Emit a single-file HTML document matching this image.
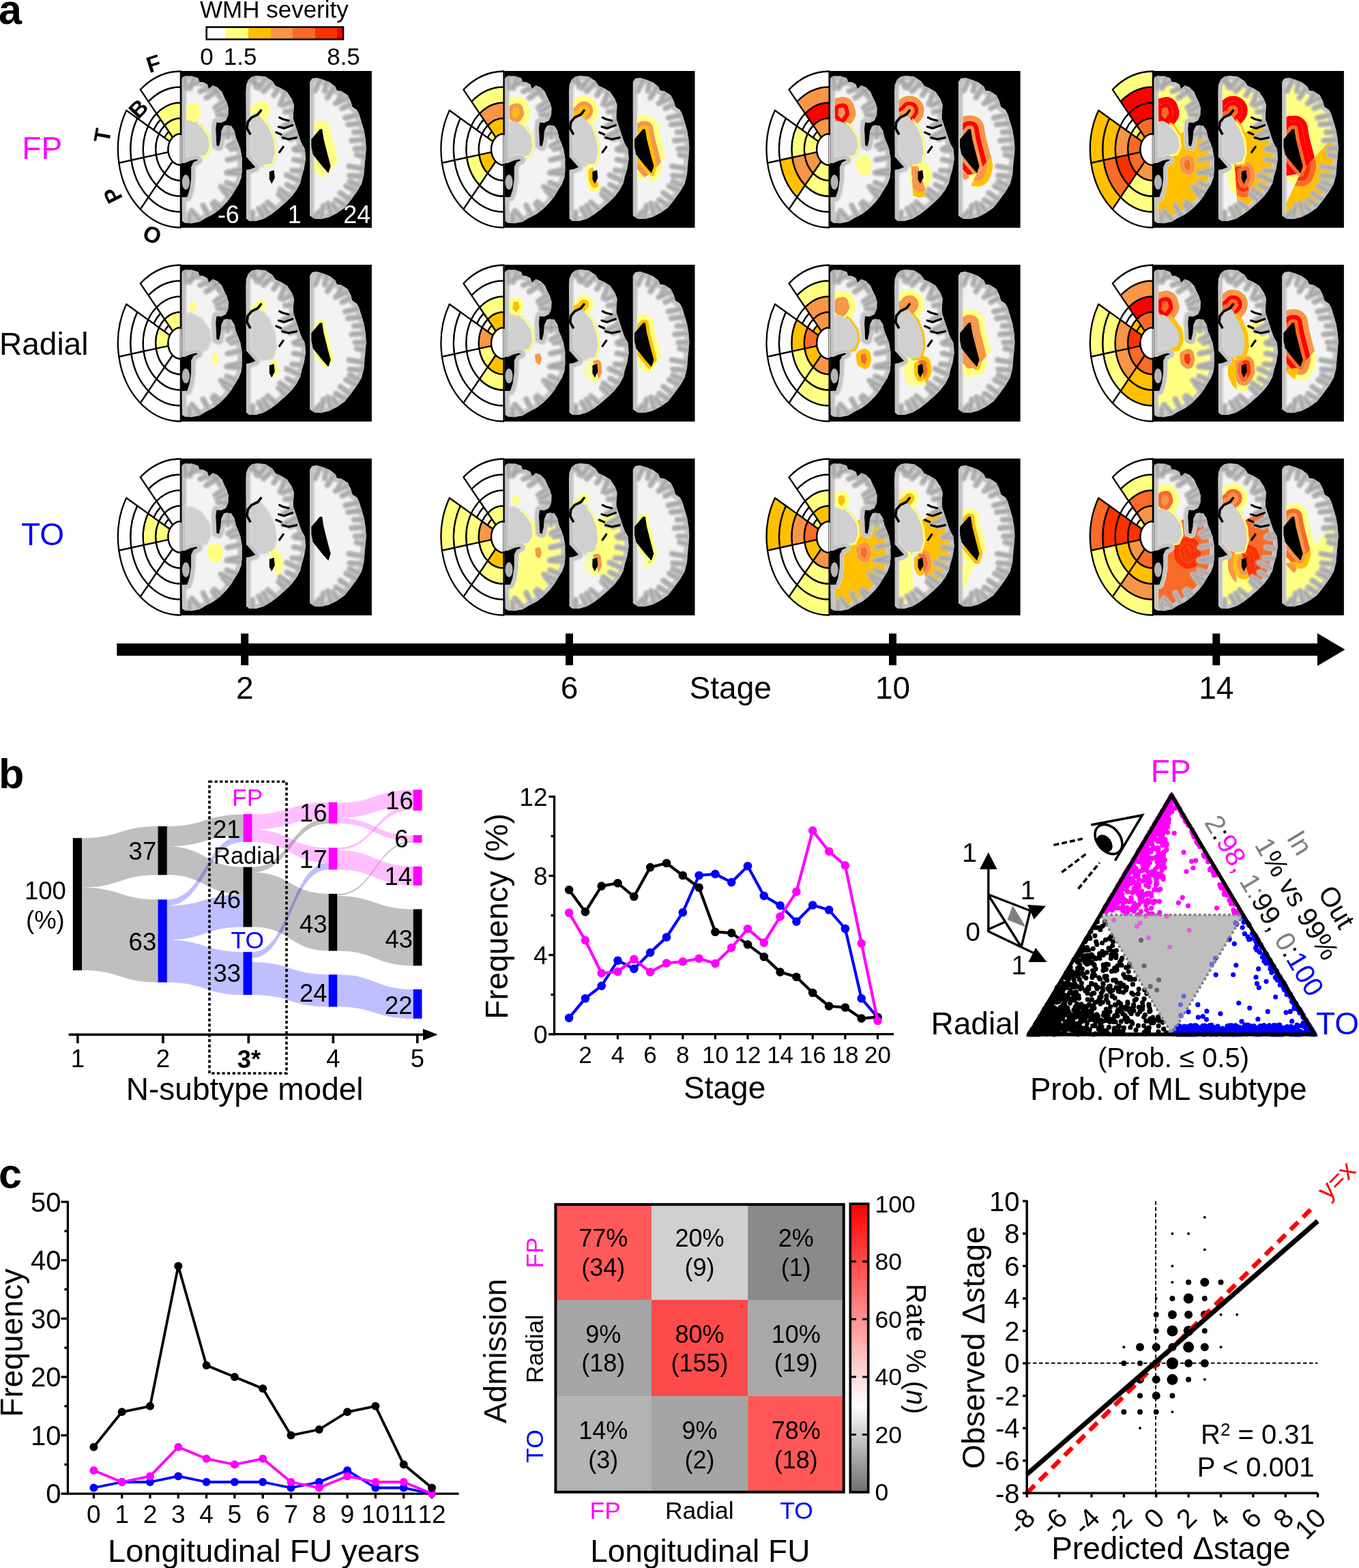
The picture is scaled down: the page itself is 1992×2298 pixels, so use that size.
<!DOCTYPE html>
<html><head><meta charset="utf-8"><title>WMH subtypes figure</title>
<style>html,body{margin:0;padding:0;background:#fff;}svg{display:block;}</style>
</head><body>
<svg xmlns="http://www.w3.org/2000/svg" width="1992" height="2298" viewBox="0 0 1992 2298" font-family="Liberation Sans, Arial, Helvetica, sans-serif"><text x="-2" y="35" font-size="61" fill="#000" font-weight="bold">a</text>
<text x="293" y="26" font-size="35" fill="#000">WMH severity</text>
<rect x="304" y="39.5" width="27.5" height="18.5" fill="#ffffff"/>
<rect x="331" y="39.5" width="33.5" height="18.5" fill="#ffff80"/>
<rect x="364" y="39.5" width="33.3" height="18.5" fill="#ffc000"/>
<rect x="396.8" y="39.5" width="32.7" height="18.5" fill="#f79646"/>
<rect x="429" y="39.5" width="33.5" height="18.5" fill="#fa6a28"/>
<rect x="462" y="39.5" width="32.5" height="18.5" fill="#fa3200"/>
<rect x="494" y="39.5" width="9.5" height="18.5" fill="#ff0000"/>
<rect x="302.7" y="39.7" width="200.3" height="18" fill="none" stroke="#000" stroke-width="2.6"/>
<text x="302.9" y="95" font-size="35" fill="#000" text-anchor="middle">0</text>
<text x="352.2" y="95" font-size="35" fill="#000" text-anchor="middle">1.5</text>
<text x="503.5" y="95" font-size="35" fill="#000" text-anchor="middle">8.5</text>
<text x="32.3" y="233.3" font-size="46" fill="#ff00ff">FP</text>
<text x="-1" y="519.6" font-size="46" fill="#000">Radial</text>
<text x="31" y="799.4" font-size="46" fill="#0000ff">TO</text>
<defs><filter id="bl" x="-5%" y="-5%" width="110%" height="110%"><feGaussianBlur stdDeviation="1"/></filter><clipPath id="bclip"><path d="M1.7 9.3 L0.6 12 L0.6 135 L5.1 135 L13 131.6 L21 129.4 L24.4 130.5 L17.6 133.9 L14.2 140.7 L14.2 158.8 L11.9 174.6 L8.5 184.8 L0.6 185 L1.1 220 L5.1 222.8 L15.3 223.3 L26.6 221.1 L35.7 215.4 L47 209.7 L57.2 201.8 L66.3 192.8 L73.1 183.7 L78.7 174.6 L84.4 165.6 L87.8 156.5 L88.9 145.2 L88.9 128.2 L86.6 114.6 L83.2 105.5 L79.8 97.6 L77.6 87.4 L73.1 80.6 L66.3 79.5 L62 80.5 L58.5 88 L57.5 100 L55 110.5 L51.5 109 L51 95 L50.4 85 L51.5 75.5 L58.3 76.1 L65.1 72.7 L68.5 64.8 L69.1 54.6 L66.3 45.5 L62.9 38.7 L59.5 30.8 L52.7 24 L45.9 21.2 L40.2 26.3 L37.9 19.5 L32.3 16.6 L26.6 16.1 L24.4 10.4 L15.3 7.6 L5.1 7.6ZM94.4 30.8 L95 126 L97 128 L104 136 L108.5 141 L101 144 L95 145 L95 216.6 L99.5 220 L109.7 220 L121 216.6 L132.3 209.8 L142.5 201.8 L152.7 192.8 L161.8 183.7 L168.6 174.7 L174.2 164.5 L176.5 154.3 L179.9 143 L182.2 128.2 L181 114.6 L176.5 106.7 L173.1 97.7 L168.6 84.1 L164.1 70.5 L164.1 61.4 L165.2 50.1 L161.8 41 L155 30.8 L145.9 25.2 L138 21.8 L133.5 15 L123.3 8.2 L111.9 7.1 L104 8.2 L98.4 12.7 L95 20.6ZM188.2 16.1 L188.2 212 L195 216.6 L205.2 217.1 L216.5 214.3 L227.9 208.6 L239.2 200.7 L248.2 189.4 L257.3 176.9 L264.1 165.6 L267.5 152 L268.6 138.4 L269.8 126 L270.9 113.5 L269.8 99.9 L267.5 86.3 L264.1 75 L260.7 63.7 L257.3 56.9 L250.5 52.4 L248.2 44.4 L243.7 35.4 L234.7 29.7 L227.9 28.6 L225.6 22.9 L217.7 16.7 L207.5 12.7 L198.4 9.9 L191.6 11Z"/></clipPath><g id="bb"><path d="M1.7 9.3 L0.6 12 L0.6 135 L5.1 135 L13 131.6 L21 129.4 L24.4 130.5 L17.6 133.9 L14.2 140.7 L14.2 158.8 L11.9 174.6 L8.5 184.8 L0.6 185 L1.1 220 L5.1 222.8 L15.3 223.3 L26.6 221.1 L35.7 215.4 L47 209.7 L57.2 201.8 L66.3 192.8 L73.1 183.7 L78.7 174.6 L84.4 165.6 L87.8 156.5 L88.9 145.2 L88.9 128.2 L86.6 114.6 L83.2 105.5 L79.8 97.6 L77.6 87.4 L73.1 80.6 L66.3 79.5 L62 80.5 L58.5 88 L57.5 100 L55 110.5 L51.5 109 L51 95 L50.4 85 L51.5 75.5 L58.3 76.1 L65.1 72.7 L68.5 64.8 L69.1 54.6 L66.3 45.5 L62.9 38.7 L59.5 30.8 L52.7 24 L45.9 21.2 L40.2 26.3 L37.9 19.5 L32.3 16.6 L26.6 16.1 L24.4 10.4 L15.3 7.6 L5.1 7.6Z" fill="#c4c4c4"/><path d="M7.1 14.1 L7.1 127.1 L10.4 125.6 L11.3 125.3 L19.3 123.1 L19.9 123 L20.5 122.9 L21.1 122.9 L21.8 122.9 L22.4 123.1 L23 123.2 L26.4 124.3 L27 124.5 L27.6 124.8 L28.1 125.2 L28.6 125.6 L29.1 126 L29.5 126.5 L29.9 127 L30.2 127.6 L30.5 128.1 L30.7 128.8 L30.8 129.4 L30.9 130 L30.9 130.7 L30.9 131.3 L30.7 131.9 L30.6 132.5 L30.3 133.1 L30.1 133.7 L29.7 134.2 L29.3 134.8 L28.9 135.2 L28.4 135.6 L27.9 136 L27.3 136.3 L22.4 138.7 L20.7 142.2 L20.7 158.8 L20.6 159.7 L18.3 175.5 L18.2 176.1 L18.1 176.7 L14.7 186.9 L14.4 187.5 L14.1 188.1 L13.8 188.6 L13.3 189.1 L12.9 189.6 L12.4 190 L11.8 190.4 L11.2 190.7 L10.6 190.9 L10 191.1 L9.3 191.2 L8.7 191.3 L7.2 191.3 L7.5 216.4 L14.8 216.8 L24.2 215 L32.2 209.9 L32.8 209.6 L43.5 204.2 L52.9 196.9 L61.4 188.5 L67.7 180 L73.2 171.2 L73.2 171.1 L78.5 162.7 L81.4 155 L82.4 144.9 L82.4 128.7 L80.3 116.3 L77.2 107.9 L73.8 100.2 L73.6 99.6 L73.4 99 L71.5 90 L69.3 86.6 L66.5 86.1 L64.9 89.7 L64 100.5 L63.9 101 L63.8 101.5 L61.3 112 L61.1 112.6 L60.9 113.2 L60.6 113.8 L60.3 114.3 L59.9 114.8 L59.5 115.2 L59 115.6 L58.5 116 L57.9 116.3 L57.3 116.6 L56.7 116.8 L56.1 116.9 L55.5 117 L54.9 117 L54.3 117 L53.6 116.9 L53 116.7 L52.4 116.5 L48.9 115 L48.4 114.7 L47.9 114.4 L47.4 114 L46.9 113.6 L46.5 113.2 L46.1 112.7 L45.8 112.2 L45.5 111.6 L45.3 111 L45.2 110.4 L45.1 109.8 L45 109.2 L44.5 95.3 L43.9 85.4 L43.9 84.8 L43.9 84.3 L45 74.8 L45.1 74.1 L45.3 73.5 L45.5 72.9 L45.8 72.4 L46.1 71.8 L46.5 71.3 L46.9 70.9 L47.4 70.5 L47.9 70.1 L48.4 69.8 L49 69.5 L49.6 69.3 L50.2 69.1 L50.8 69 L51.4 69 L52.1 69 L57 69.5 L60.1 67.9 L62.1 63.3 L62.5 55.4 L60.2 47.9 L57.1 41.6 L56.9 41.3 L54 34.5 L49 29.5 L47.2 28.8 L44.5 31.1 L44 31.5 L43.5 31.9 L42.9 32.2 L42.3 32.4 L41.7 32.6 L41.1 32.7 L40.5 32.8 L39.8 32.8 L39.2 32.7 L38.5 32.6 L37.9 32.4 L37.3 32.1 L36.8 31.8 L36.3 31.5 L35.8 31.1 L35.3 30.6 L34.9 30.1 L34.6 29.6 L34.3 29 L34 28.4 L32.6 24.1 L30.5 23 L26 22.6 L25.4 22.5 L24.7 22.3 L24.1 22.1 L23.5 21.8 L23 21.5 L22.4 21.1 L22 20.6 L21.5 20.1 L21.1 19.6 L20.8 19 L20.5 18.4 L19.5 15.7 L14.3 14.1Z" fill="#f3f3f3" filter="url(#bl)"/><path d="M38 126 L44 112 L42 95 L30 78 L14 70 L7.1 71 L7.1 127.1 L10.4 125.6 L11.3 125.3 L19.3 123.1 L19.9 123 L20.5 122.9 L21.1 122.9 L21.8 122.9 L22.4 123.1 L23 123.2 L26.4 124.3 L27 124.5 L27.6 124.8 L28.1 125.2 L28.6 125.6 L29.1 126 L29.5 126.5 L29.9 127 L30.1 127.5Z" fill="#d0d0d0" filter="url(#bl)"/><path d="M94.4 30.8 L95 126 L97 128 L104 136 L108.5 141 L101 144 L95 145 L95 216.6 L99.5 220 L109.7 220 L121 216.6 L132.3 209.8 L142.5 201.8 L152.7 192.8 L161.8 183.7 L168.6 174.7 L174.2 164.5 L176.5 154.3 L179.9 143 L182.2 128.2 L181 114.6 L176.5 106.7 L173.1 97.7 L168.6 84.1 L164.1 70.5 L164.1 61.4 L165.2 50.1 L161.8 41 L155 30.8 L145.9 25.2 L138 21.8 L133.5 15 L123.3 8.2 L111.9 7.1 L104 8.2 L98.4 12.7 L95 20.6Z" fill="#c4c4c4"/><path d="M100.9 31 L101.5 123.3 L101.6 123.4 L101.9 123.7 L108.9 131.7 L113.3 136.7 L113.7 137.1 L114.1 137.7 L114.4 138.2 L114.6 138.8 L114.8 139.4 L114.9 140 L115 140.6 L115 141.2 L114.9 141.9 L114.8 142.5 L114.7 143.1 L114.4 143.7 L114.1 144.2 L113.8 144.7 L113.4 145.2 L113 145.7 L112.5 146.1 L112 146.5 L111.5 146.8 L110.9 147 L103.4 150 L102.8 150.3 L102.1 150.4 L101.5 150.5 L101.5 213.4 L101.7 213.5 L108.7 213.5 L118.3 210.6 L128.6 204.4 L138.3 196.8 L148.2 188.1 L156.9 179.4 L163.1 171.2 L168.1 162.2 L170.2 152.9 L170.3 152.4 L173.5 141.6 L175.7 128 L174.6 116.6 L170.9 109.9 L170.6 109.5 L170.4 109 L167 100 L166.9 99.7 L162.4 86.1 L157.9 72.5 L157.7 71.9 L157.6 71.2 L157.6 70.5 L157.6 61.4 L157.6 60.8 L158.6 51 L156 44 L150.4 35.6 L142.9 31 L135.4 27.8 L134.9 27.5 L134.3 27.2 L133.8 26.8 L133.4 26.4 L133 25.9 L132.6 25.4 L128.8 19.7 L121.1 14.5 L112 13.6 L106.7 14.4 L103.7 16.8 L101.4 22.1Z" fill="#f3f3f3" filter="url(#bl)"/><path d="M118 141 L135 138 L140 120 L138 100 L130 80 L115 62 L101.1 65.7 L101.5 123.3 L101.6 123.4 L101.9 123.7 L108.9 131.7 L113.3 136.7 L113.7 137.1 L114.1 137.7 L114.4 138.2 L114.6 138.8 L114.7 139.2Z" fill="#d0d0d0" filter="url(#bl)"/><path d="M188.2 16.1 L188.2 212 L195 216.6 L205.2 217.1 L216.5 214.3 L227.9 208.6 L239.2 200.7 L248.2 189.4 L257.3 176.9 L264.1 165.6 L267.5 152 L268.6 138.4 L269.8 126 L270.9 113.5 L269.8 99.9 L267.5 86.3 L264.1 75 L260.7 63.7 L257.3 56.9 L250.5 52.4 L248.2 44.4 L243.7 35.4 L234.7 29.7 L227.9 28.6 L225.6 22.9 L217.7 16.7 L207.5 12.7 L198.4 9.9 L191.6 11Z" fill="#c4c4c4"/><path d="M194.7 18.1 L194.7 208.5 L197.1 210.2 L204.6 210.6 L214.2 208.2 L224.6 203 L234.7 195.9 L243 185.5 L251.9 173.3 L258 163.1 L261.1 150.9 L262.1 137.9 L262.1 137.8 L263.3 125.4 L264.4 113.5 L263.3 100.7 L261.2 87.8 L257.9 76.9 L254.6 66.1 L252.3 61.4 L246.9 57.8 L246.4 57.4 L245.9 57 L245.5 56.5 L245.1 56 L244.7 55.4 L244.5 54.8 L244.3 54.2 L242.1 46.8 L238.7 39.9 L232.3 35.9 L226.9 35 L226.2 34.9 L225.6 34.7 L225 34.4 L224.4 34.1 L223.8 33.7 L223.3 33.2 L222.9 32.7 L222.5 32.2 L222.2 31.6 L221.9 31 L220.2 26.9 L214.4 22.4 L205.4 18.8 L197.9 16.6 L195.4 17Z" fill="#f3f3f3" filter="url(#bl)"/></g><g id="bt"><g clip-path="url(#bclip)"><g filter="url(#bl)"><path d="M4.7 6.7Q5.5 16.7 6.1 25.8M18.8 7.6Q15.6 16.9 12.6 25.2M27.1 14.6Q18.3 19 10.4 22.8M40.6 24.3Q33.7 27.2 27.7 29.9M44 21.5Q51 30.6 57.2 39M56.4 26.2Q46.1 33.2 36.5 39.4M65.8 42.2Q57.2 48.1 49.6 53.6M68.8 50.2Q60 54.7 52.2 59M69.3 65.5Q61 64.7 53.7 64.2M69.5 79Q68.8 88.5 68.3 97M79.5 91.4Q67 92.3 55.6 92.9M82.7 101.8Q75.1 106.1 68.4 110M86.4 111.3Q79.3 113.1 73.1 114.6M89.5 125.5Q78.1 128 67.7 130.3M89.9 143.7Q78.5 146.1 68.1 148.5M89.3 151.3Q77.4 150.3 66.4 149.3M82.7 170.1Q74.2 166.6 66.6 163.6M77.1 179.2Q66.9 174.2 57.7 169.7M72 186.9Q66 180.4 60.9 174.5M59.3 201.1Q53.4 196.3 48.2 192.1M52.9 206.4Q49.1 200.1 45.9 194.7M40.8 214Q36 205.1 31.8 197.1M29.1 220.7Q21.9 212.4 15.2 204.9M11.8 224.1Q12 216.5 12 209.9M97.7 12Q106.9 17.3 115.4 22.1M105.1 7Q107.5 15.8 109.7 23.5M125.5 8.5Q119.1 17.2 113.3 25.1M135 15.4Q127.3 22.8 120.5 29.6M143.6 23.1Q139.4 29.8 135.6 35.5M152.9 28.3Q148.7 39 145 48.8M163.9 43.8Q155.7 47.2 148.5 50.3M165.4 58.7Q158.3 59.2 152.2 59.8M165.8 72.3Q157.1 76.9 149.4 81.1M170.2 85.8Q159.4 91.4 149.5 96.7M173 94.3Q165.9 97.3 159.7 99.9M178.5 108.3Q171.4 111.6 165.1 114.5M182.2 116.7Q174.3 116.4 167.3 116.1M182.4 133.3Q173.3 131.5 165.1 129.9M179.6 147.3Q170.6 146.4 162.5 145.7M175.7 162.4Q164.5 157.4 154.2 152.6M169.9 174.4Q161.9 170.3 154.8 166.7M161.4 185.5Q152.7 179.2 144.8 173.7M154.4 192.5Q148.1 186.1 142.5 180.4M140.5 204.6Q133.2 198.2 126.5 192.6M129.4 212.7Q124.6 204.7 120.4 197.5M121.9 217.2Q117.4 209.1 113.3 201.8M103.9 221Q104.1 213.4 104.2 206.9M204.5 10.7Q199.9 20.5 195.6 29.2M213.5 14Q211.6 22 210 29.1M225.4 21.5Q219.4 30.7 214 39.2M236.8 29.9Q233 37.1 229.7 43.5M246.4 38.5Q235.8 43.2 226 47.5M250.3 48Q242.5 51.5 235.7 54.7M261.8 63.8Q250.6 66.3 240.4 68.6M265.6 76.4Q254.6 77.6 244.5 78.5M269 89.3Q260.6 89.6 253.2 89.7M270.8 100.3Q259.7 101.2 249.6 102M271.9 113.4Q262.9 113.7 254.9 113.9M270.8 126.1Q263.3 124.4 256.9 122.9M269.2 143.4Q256.9 141.5 245.7 139.6M267.8 155Q256.7 154 246.6 153.2M263.2 169Q254.6 165.3 246.8 162M258.2 177.4Q249.5 172.8 241.5 168.7M249 190Q240.5 184.1 232.8 178.8M242.2 198.6Q234 193.4 226.6 188.8M230.9 207.7Q225.9 201.4 221.5 195.8M220.1 213.6Q217.2 203.5 214.7 194.2M204.2 218.1Q206.1 207.3 208.1 197.5M193.2 216.6Q198.3 210.7 202.8 205.7" stroke="#bababa" stroke-width="9" stroke-linecap="round" fill="none"/><path d="M4.7 6.7Q5.5 16.7 6.1 25.8M18.8 7.6Q15.6 16.9 12.6 25.2M27.1 14.6Q18.3 19 10.4 22.8M40.6 24.3Q33.7 27.2 27.7 29.9M44 21.5Q51 30.6 57.2 39M56.4 26.2Q46.1 33.2 36.5 39.4M65.8 42.2Q57.2 48.1 49.6 53.6M68.8 50.2Q60 54.7 52.2 59M69.3 65.5Q61 64.7 53.7 64.2M69.5 79Q68.8 88.5 68.3 97M79.5 91.4Q67 92.3 55.6 92.9M82.7 101.8Q75.1 106.1 68.4 110M86.4 111.3Q79.3 113.1 73.1 114.6M89.5 125.5Q78.1 128 67.7 130.3M89.9 143.7Q78.5 146.1 68.1 148.5M89.3 151.3Q77.4 150.3 66.4 149.3M82.7 170.1Q74.2 166.6 66.6 163.6M77.1 179.2Q66.9 174.2 57.7 169.7M72 186.9Q66 180.4 60.9 174.5M59.3 201.1Q53.4 196.3 48.2 192.1M52.9 206.4Q49.1 200.1 45.9 194.7M40.8 214Q36 205.1 31.8 197.1M29.1 220.7Q21.9 212.4 15.2 204.9M11.8 224.1Q12 216.5 12 209.9M97.7 12Q106.9 17.3 115.4 22.1M105.1 7Q107.5 15.8 109.7 23.5M125.5 8.5Q119.1 17.2 113.3 25.1M135 15.4Q127.3 22.8 120.5 29.6M143.6 23.1Q139.4 29.8 135.6 35.5M152.9 28.3Q148.7 39 145 48.8M163.9 43.8Q155.7 47.2 148.5 50.3M165.4 58.7Q158.3 59.2 152.2 59.8M165.8 72.3Q157.1 76.9 149.4 81.1M170.2 85.8Q159.4 91.4 149.5 96.7M173 94.3Q165.9 97.3 159.7 99.9M178.5 108.3Q171.4 111.6 165.1 114.5M182.2 116.7Q174.3 116.4 167.3 116.1M182.4 133.3Q173.3 131.5 165.1 129.9M179.6 147.3Q170.6 146.4 162.5 145.7M175.7 162.4Q164.5 157.4 154.2 152.6M169.9 174.4Q161.9 170.3 154.8 166.7M161.4 185.5Q152.7 179.2 144.8 173.7M154.4 192.5Q148.1 186.1 142.5 180.4M140.5 204.6Q133.2 198.2 126.5 192.6M129.4 212.7Q124.6 204.7 120.4 197.5M121.9 217.2Q117.4 209.1 113.3 201.8M103.9 221Q104.1 213.4 104.2 206.9M204.5 10.7Q199.9 20.5 195.6 29.2M213.5 14Q211.6 22 210 29.1M225.4 21.5Q219.4 30.7 214 39.2M236.8 29.9Q233 37.1 229.7 43.5M246.4 38.5Q235.8 43.2 226 47.5M250.3 48Q242.5 51.5 235.7 54.7M261.8 63.8Q250.6 66.3 240.4 68.6M265.6 76.4Q254.6 77.6 244.5 78.5M269 89.3Q260.6 89.6 253.2 89.7M270.8 100.3Q259.7 101.2 249.6 102M271.9 113.4Q262.9 113.7 254.9 113.9M270.8 126.1Q263.3 124.4 256.9 122.9M269.2 143.4Q256.9 141.5 245.7 139.6M267.8 155Q256.7 154 246.6 153.2M263.2 169Q254.6 165.3 246.8 162M258.2 177.4Q249.5 172.8 241.5 168.7M249 190Q240.5 184.1 232.8 178.8M242.2 198.6Q234 193.4 226.6 188.8M230.9 207.7Q225.9 201.4 221.5 195.8M220.1 213.6Q217.2 203.5 214.7 194.2M204.2 218.1Q206.1 207.3 208.1 197.5M193.2 216.6Q198.3 210.7 202.8 205.7" stroke="#a0a0a0" stroke-width="2.2" stroke-linecap="round" fill="none"/></g></g><path d="M190.5 100 L203 85.2 L206.3 85.2 L208.6 100 L214.3 122.6 L218.8 139.6 L215.4 149.8 L206.3 139.6 L192.8 122.6 L190.5 111.2Z" fill="#000"/><path d="M128.9 147.5 L135.7 145.2 L136.9 156.5 L132.3 165.6 L128.9 158.8Z" fill="#000"/><path d="M116.5 58 L112 63.7 L102.9 68.2 L97.2 75 L96.1 84.1 L100.6 92" stroke="#000" stroke-width="3.6" fill="none" stroke-linecap="round"/><path d="M143.7 68.2 L148.2 70.5 L157.2 72.7" stroke="#000" stroke-width="3.2" fill="none" stroke-linecap="round"/><path d="M142.5 81.8 L150.5 84.1 L162.9 79.5" stroke="#000" stroke-width="3.2" fill="none" stroke-linecap="round"/><path d="M148.2 97.7 L157.2 100 L168.6 97.7" stroke="#000" stroke-width="3.2" fill="none" stroke-linecap="round"/><path d="M143.7 119.2 L149.3 111.2" stroke="#000" stroke-width="3.2" fill="none" stroke-linecap="round"/><path d="M139 90 L146 93" stroke="#000" stroke-width="3.2" fill="none" stroke-linecap="round"/><ellipse cx="6.5" cy="163" rx="5.5" ry="11" fill="#b4b4b4"/></g></defs>
<rect x="265.9" y="104" width="279" height="229.8" fill="#000"/>
<g transform="translate(265.9 104)">
<use href="#bb"/>
<path d="M11.5 64.3 L16.2 69.2 L18.2 69 L22.5 62.2 L20 53.8 L18.7 53.5 L12.9 55Z" fill="#ffff80" fill-rule="evenodd"/>
<path d="M7.3 69.7 L11.1 73.5 L13.5 73.1 L18.8 75.8 L21.4 74.6 L23.2 73.1 L28.1 65.8 L29 62.1 L26.4 52.1 L24.1 48.9 L21.4 47.4 L18.2 47 L11 48.6 L7.9 50.8 L7.1 52ZM12.6 55.5 L13.6 54.6 L18.9 53.5 L20.4 54.4 L22.5 62.3 L17.4 69.4 L16 69.2 L11.6 64.6Z" fill="#ffff80" fill-rule="evenodd"/>
<path d="M44 112 L42 95 L30 78 L23.4 74.7 L23.4 78.1 L28 80.3 L39.1 96.1 L40.9 111.6 L35.9 123.3 L27.7 124.9 L30.1 127.5 L38 126Z" fill="#ffff80" fill-rule="evenodd"/>
<path d="M117.2 69.2 L123 61.9 L124.1 57.6 L123.4 54.7 L121.6 52.4 L119 50.8 L116.1 50.4 L112.4 51.6 L107.1 57.6 L101.1 60.6 L101.2 77.7 L102.7 68.4 L113.9 65.4Z" fill="#ffff80" fill-rule="evenodd"/>
<path d="M121 73.9 L129 63.5 L130.1 58.5 L129.6 54.3 L127.2 49.6 L123.2 46.1 L118.1 44.5 L112.8 44.9 L108.3 47.2 L103.2 52.9 L101 53.9 L101.1 60.6 L107.1 57.6 L110.9 52.9 L113.2 51.1 L116.9 50.4 L120.4 51.5 L123.4 54.7 L123.9 59.6 L122.8 62.3 L117.2 69.3Z" fill="#ffff80" fill-rule="evenodd"/>
<path d="M135 138 L140 120 L138 100 L130 80 L120.8 69 L120.8 73.7 L127.4 81.6 L135.1 100.7 L137 119.7 L132.6 135.4 L120.8 137.5 L120.8 140.5Z" fill="#ffff80" fill-rule="evenodd"/>
<path d="M194.7 133 L211 152.3 L215 150 L223.8 139.8 L213.5 99 L211.1 83.9 L209.6 81.4 L206.8 80.2 L200.7 80.8 L194.7 87.3Z" fill="#ffff80" fill-rule="evenodd"/>
<path d="M194.7 144.3 L204.8 155.9 L211 152.3 L194.7 133ZM199.2 82 L202 80.3 L206.8 80.2 L209.2 81.1 L211 83.5 L213.5 99 L223.8 140.3 L229.7 133.7 L220.4 97.6 L217.5 81 L215 76.9 L212.1 74.7 L207.5 73.3 L201.8 73.3 L198.5 74.1 L194.7 76.5 L194.7 87.3Z" fill="#ffff80" fill-rule="evenodd"/>
<use href="#bt"/>
<text x="85" y="223" font-size="36" fill="#fff" text-anchor="end">-6</text>
<text x="176" y="223" font-size="36" fill="#fff" text-anchor="end">1</text>
<text x="277.5" y="223" font-size="36" fill="#fff" text-anchor="end">24</text>
</g>
<path d="M264.9 196.1 L264.9 173.2 A36.8 45.8 0 0 0 241.2 183.9 L253.1 201.5 A18.4 22.9 0 0 1 264.9 196.1 Z" fill="#ffff80"/>
<path d="M264.9 196.1 L264.9 173.2 A36.8 45.8 0 0 0 241.2 183.9 L253.1 201.5 A18.4 22.9 0 0 1 264.9 196.1 Z" fill="none" stroke="#000" stroke-width="2.3" stroke-linejoin="round"/>
<path d="M264.9 173.2 L264.9 150.3 A55.2 68.7 0 0 0 229.4 166.4 L241.2 183.9 A36.8 45.8 0 0 1 264.9 173.2 Z" fill="#ffff80"/>
<path d="M264.9 173.2 L264.9 150.3 A55.2 68.7 0 0 0 229.4 166.4 L241.2 183.9 A36.8 45.8 0 0 1 264.9 173.2 Z" fill="none" stroke="#000" stroke-width="2.3" stroke-linejoin="round"/>
<path d="M264.9 150.3 L264.9 127.4 A73.6 91.6 0 0 0 217.6 148.8 L229.4 166.4 A55.2 68.7 0 0 1 264.9 150.3 Z" fill="#ffffff"/>
<path d="M264.9 150.3 L264.9 127.4 A73.6 91.6 0 0 0 217.6 148.8 L229.4 166.4 A55.2 68.7 0 0 1 264.9 150.3 Z" fill="none" stroke="#000" stroke-width="2.3" stroke-linejoin="round"/>
<path d="M264.9 127.4 L264.9 104.5 A92 114.5 0 0 0 205.8 131.3 L217.6 148.8 A73.6 91.6 0 0 1 264.9 127.4 Z" fill="#ffffff"/>
<path d="M264.9 127.4 L264.9 104.5 A92 114.5 0 0 0 205.8 131.3 L217.6 148.8 A73.6 91.6 0 0 1 264.9 127.4 Z" fill="none" stroke="#000" stroke-width="2.3" stroke-linejoin="round"/>
<path d="M253.1 201.5 L247.2 192.7 A27.6 34.4 0 0 0 241 201.8 L249 207.6 A18.4 22.9 0 0 1 253.1 201.5 Z" fill="#ffff80"/>
<path d="M253.1 201.5 L247.2 192.7 A27.6 34.4 0 0 0 241 201.8 L249 207.6 A18.4 22.9 0 0 1 253.1 201.5 Z" fill="none" stroke="#000" stroke-width="2.3" stroke-linejoin="round"/>
<path d="M247.2 192.7 L241.2 183.9 A36.8 45.8 0 0 0 233 196.1 L241 201.8 A27.6 34.4 0 0 1 247.2 192.7 Z" fill="#ffffff"/>
<path d="M247.2 192.7 L241.2 183.9 A36.8 45.8 0 0 0 233 196.1 L241 201.8 A27.6 34.4 0 0 1 247.2 192.7 Z" fill="none" stroke="#000" stroke-width="2.3" stroke-linejoin="round"/>
<path d="M241.2 183.9 L235.3 175.1 A46 57.2 0 0 0 225.1 190.4 L233 196.1 A36.8 45.8 0 0 1 241.2 183.9 Z" fill="#ffffff"/>
<path d="M241.2 183.9 L235.3 175.1 A46 57.2 0 0 0 225.1 190.4 L233 196.1 A36.8 45.8 0 0 1 241.2 183.9 Z" fill="none" stroke="#000" stroke-width="2.3" stroke-linejoin="round"/>
<path d="M235.3 175.1 L229.4 166.4 A55.2 68.7 0 0 0 217.1 184.7 L225.1 190.4 A46 57.2 0 0 1 235.3 175.1 Z" fill="#ffffff"/>
<path d="M235.3 175.1 L229.4 166.4 A55.2 68.7 0 0 0 217.1 184.7 L225.1 190.4 A46 57.2 0 0 1 235.3 175.1 Z" fill="none" stroke="#000" stroke-width="2.3" stroke-linejoin="round"/>
<path d="M249 207.6 L233 196.1 A36.8 45.8 0 0 0 228.7 227 L246.8 223 A18.4 22.9 0 0 1 249 207.6 Z" fill="#ffffff"/>
<path d="M249 207.6 L233 196.1 A36.8 45.8 0 0 0 228.7 227 L246.8 223 A18.4 22.9 0 0 1 249 207.6 Z" fill="none" stroke="#000" stroke-width="2.3" stroke-linejoin="round"/>
<path d="M233 196.1 L217.1 184.7 A55.2 68.7 0 0 0 210.5 230.9 L228.7 227 A36.8 45.8 0 0 1 233 196.1 Z" fill="#ffffff"/>
<path d="M233 196.1 L217.1 184.7 A55.2 68.7 0 0 0 210.5 230.9 L228.7 227 A36.8 45.8 0 0 1 233 196.1 Z" fill="none" stroke="#000" stroke-width="2.3" stroke-linejoin="round"/>
<path d="M217.1 184.7 L201.2 173.2 A73.6 91.6 0 0 0 192.4 234.9 L210.5 230.9 A55.2 68.7 0 0 1 217.1 184.7 Z" fill="#ffffff"/>
<path d="M217.1 184.7 L201.2 173.2 A73.6 91.6 0 0 0 192.4 234.9 L210.5 230.9 A55.2 68.7 0 0 1 217.1 184.7 Z" fill="none" stroke="#000" stroke-width="2.3" stroke-linejoin="round"/>
<path d="M201.2 173.2 L185.2 161.8 A92 114.5 0 0 0 174.3 238.9 L192.4 234.9 A73.6 91.6 0 0 1 201.2 173.2 Z" fill="#ffffff"/>
<path d="M201.2 173.2 L185.2 161.8 A92 114.5 0 0 0 174.3 238.9 L192.4 234.9 A73.6 91.6 0 0 1 201.2 173.2 Z" fill="none" stroke="#000" stroke-width="2.3" stroke-linejoin="round"/>
<path d="M246.8 223 L228.7 227 A36.8 45.8 0 0 0 241.2 254.1 L253.1 236.5 A18.4 22.9 0 0 1 246.8 223 Z" fill="#ffffff"/>
<path d="M246.8 223 L228.7 227 A36.8 45.8 0 0 0 241.2 254.1 L253.1 236.5 A18.4 22.9 0 0 1 246.8 223 Z" fill="none" stroke="#000" stroke-width="2.3" stroke-linejoin="round"/>
<path d="M228.7 227 L210.5 230.9 A55.2 68.7 0 0 0 229.4 271.6 L241.2 254.1 A36.8 45.8 0 0 1 228.7 227 Z" fill="#ffffff"/>
<path d="M228.7 227 L210.5 230.9 A55.2 68.7 0 0 0 229.4 271.6 L241.2 254.1 A36.8 45.8 0 0 1 228.7 227 Z" fill="none" stroke="#000" stroke-width="2.3" stroke-linejoin="round"/>
<path d="M210.5 230.9 L192.4 234.9 A73.6 91.6 0 0 0 217.6 289.2 L229.4 271.6 A55.2 68.7 0 0 1 210.5 230.9 Z" fill="#ffffff"/>
<path d="M210.5 230.9 L192.4 234.9 A73.6 91.6 0 0 0 217.6 289.2 L229.4 271.6 A55.2 68.7 0 0 1 210.5 230.9 Z" fill="none" stroke="#000" stroke-width="2.3" stroke-linejoin="round"/>
<path d="M192.4 234.9 L174.3 238.9 A92 114.5 0 0 0 205.8 306.7 L217.6 289.2 A73.6 91.6 0 0 1 192.4 234.9 Z" fill="#ffffff"/>
<path d="M192.4 234.9 L174.3 238.9 A92 114.5 0 0 0 205.8 306.7 L217.6 289.2 A73.6 91.6 0 0 1 192.4 234.9 Z" fill="none" stroke="#000" stroke-width="2.3" stroke-linejoin="round"/>
<path d="M253.1 236.5 L241.2 254.1 A36.8 45.8 0 0 0 264.9 264.8 L264.9 241.9 A18.4 22.9 0 0 1 253.1 236.5 Z" fill="#ffffff"/>
<path d="M253.1 236.5 L241.2 254.1 A36.8 45.8 0 0 0 264.9 264.8 L264.9 241.9 A18.4 22.9 0 0 1 253.1 236.5 Z" fill="none" stroke="#000" stroke-width="2.3" stroke-linejoin="round"/>
<path d="M241.2 254.1 L229.4 271.6 A55.2 68.7 0 0 0 264.9 287.7 L264.9 264.8 A36.8 45.8 0 0 1 241.2 254.1 Z" fill="#ffffff"/>
<path d="M241.2 254.1 L229.4 271.6 A55.2 68.7 0 0 0 264.9 287.7 L264.9 264.8 A36.8 45.8 0 0 1 241.2 254.1 Z" fill="none" stroke="#000" stroke-width="2.3" stroke-linejoin="round"/>
<path d="M229.4 271.6 L217.6 289.2 A73.6 91.6 0 0 0 264.9 310.6 L264.9 287.7 A55.2 68.7 0 0 1 229.4 271.6 Z" fill="#ffffff"/>
<path d="M229.4 271.6 L217.6 289.2 A73.6 91.6 0 0 0 264.9 310.6 L264.9 287.7 A55.2 68.7 0 0 1 229.4 271.6 Z" fill="none" stroke="#000" stroke-width="2.3" stroke-linejoin="round"/>
<path d="M217.6 289.2 L205.8 306.7 A92 114.5 0 0 0 264.9 333.5 L264.9 310.6 A73.6 91.6 0 0 1 217.6 289.2 Z" fill="#ffffff"/>
<path d="M217.6 289.2 L205.8 306.7 A92 114.5 0 0 0 264.9 333.5 L264.9 310.6 A73.6 91.6 0 0 1 217.6 289.2 Z" fill="none" stroke="#000" stroke-width="2.3" stroke-linejoin="round"/>
<path d="M264.9 196.1 A18.4 22.9 0 0 0 264.9 241.9 Z" fill="#fff" stroke="#000" stroke-width="2.3"/>
<line x1="265.2" y1="198.1" x2="265.2" y2="239.9" stroke="#fff" stroke-width="1.5"/>
<rect x="739.5" y="104" width="279" height="229.8" fill="#000"/>
<g transform="translate(739.5 104)">
<use href="#bb"/>
<path d="M11.5 64.3 L16.2 69.2 L18.2 69 L22.5 62.2 L20 53.8 L18.7 53.5 L12.9 55Z" fill="#ffc000" fill-rule="evenodd"/>
<path d="M7.3 69.7 L11.1 73.5 L13.5 73.1 L18.8 75.8 L21.4 74.6 L23.2 73.1 L28.1 65.8 L29 62.1 L26.4 52.1 L24.1 48.9 L21.4 47.4 L18.2 47 L11 48.6 L7.9 50.8 L7.1 52ZM12.6 55.5 L13.6 54.6 L18.9 53.5 L20.4 54.4 L22.5 62.3 L17.4 69.4 L16 69.2 L11.6 64.6Z" fill="#f79646" fill-rule="evenodd"/>
<path d="M28.2 80.7 L36 70 L37.9 63.8 L37.7 58.9 L34.1 47.2 L29.9 42 L27.1 40.1 L22.4 38.3 L17.3 38.1 L7.1 40.5 L7.1 52 L9 49.8 L11 48.6 L19 47 L22.8 48 L26.1 51.3 L28.9 60.6 L28.6 64.4 L23.2 73.1 L21.4 74.6 L18.8 75.8ZM7.3 69.7 L7.1 74.1 L11.1 73.5Z" fill="#ffff80" fill-rule="evenodd"/>
<path d="M44 112 L42 95 L30 78 L23.4 74.7 L23.4 78.1 L28 80.3 L39.1 96.1 L40.9 111.6 L35.9 123.3 L27.7 124.9 L30.1 127.5 L38 126Z" fill="#ffff80" fill-rule="evenodd"/>
<path d="M117.2 69.2 L123 61.9 L124.1 57.6 L123.4 54.7 L121.6 52.4 L119 50.8 L116.1 50.4 L112.4 51.6 L107.1 57.6 L101.1 60.6 L101.2 77.7 L102.7 68.4 L113.9 65.4Z" fill="#ffc000" fill-rule="evenodd"/>
<path d="M121 73.9 L129 63.5 L130.1 58.5 L129.6 54.3 L127.2 49.6 L123.2 46.1 L118.1 44.5 L112.8 44.9 L108.3 47.2 L103.2 52.9 L101 53.9 L101.1 60.6 L107.1 57.6 L110.9 52.9 L113.2 51.1 L116.9 50.4 L120.4 51.5 L123.4 54.7 L123.9 59.6 L122.8 62.3 L117.2 69.3Z" fill="#f79646" fill-rule="evenodd"/>
<path d="M126.1 80 L134.2 70.4 L137 64.8 L138.1 56.7 L137.4 52.5 L135.9 48.5 L133.7 44.9 L130.8 41.8 L127.4 39.3 L123.5 37.6 L119.4 36.6 L115.2 36.4 L111 37.1 L107 38.6 L101 43 L101 53.9 L103.2 52.9 L106.3 49 L109.2 46.5 L111.8 45.2 L115.7 44.4 L119.7 44.8 L123.4 46.3 L126.5 48.8 L128.7 52.1 L130.1 57.2 L129.3 62.5 L127.5 66 L121 73.9Z" fill="#ffff80" fill-rule="evenodd"/>
<path d="M123 159.6 L127 168.5 L129 170.6 L131.1 171.5 L133.5 171.5 L135.6 170.6 L137.2 169 L138 167.7 L129.3 141 L125.3 142.7 L123.2 145.6Z" fill="#ffc000" fill-rule="evenodd"/>
<path d="M121.8 171.4 L125.7 175.6 L130 177.4 L135.6 177.1 L140.2 174.6 L138 167.7 L136.4 170 L133.9 171.4 L131.1 171.5 L128.5 170.3 L127 168.5 L123.2 160.7 L123 146.6 L124.8 143.1 L129.3 141 L127.8 136.2 L123 137.1 L118.9 140.9 L120.9 169.6Z" fill="#ffff80" fill-rule="evenodd"/>
<path d="M135 138 L140 120 L138 100 L130 80 L120.8 69 L120.8 73.7 L127.4 81.6 L135.1 100.7 L137 119.7 L132.6 135.4 L120.8 137.5 L120.8 140.5Z" fill="#ffff80" fill-rule="evenodd"/>
<path d="M194.7 133 L211 152.3 L215 150 L223.8 139.8 L213.5 99 L211.1 83.9 L209.6 81.4 L206.8 80.2 L200.7 80.8 L194.7 87.3Z" fill="#ffc000" fill-rule="evenodd"/>
<path d="M194.7 144.3 L204.8 155.9 L211 152.3 L194.7 133ZM199.2 82 L202 80.3 L206.8 80.2 L209.2 81.1 L211 83.5 L213.5 99 L223.8 140.3 L229.7 133.7 L220.4 97.6 L217.5 81 L215 76.9 L212.1 74.7 L207.5 73.3 L201.8 73.3 L198.5 74.1 L194.7 76.5 L194.7 87.3Z" fill="#f79646" fill-rule="evenodd"/>
<path d="M197.7 160 L204.8 155.9 L194.7 144.3 L194.7 156.6ZM194.7 76.5 L200.7 73.4 L207.5 73.3 L213.1 75.3 L216.5 78.8 L217.9 82.2 L220.4 97.6 L229.7 133.7 L236.1 126.6 L228.2 96 L225.7 80.1 L223.3 74.6 L219.3 70 L214.2 66.8 L208.3 65.3 L203 65.2 L199.2 65.6 L194.7 67Z" fill="#ffff80" fill-rule="evenodd"/>
<path d="M213 154.2 L217.1 154.5 L219.5 152.7 L223.8 140.3 L215 150Z" fill="#ffc000" fill-rule="evenodd"/>
<path d="M210.1 160.5 L214.9 161.8 L218.4 161.4 L222.7 159.3 L225.2 156.8 L226.8 153.6 L230.5 142.3 L230.8 138.8 L229.7 133.7 L223.8 140.3 L219.2 153.1 L216.2 154.7 L213 154.2Z" fill="#ffff80" fill-rule="evenodd"/>
<use href="#bt"/>
</g>
<path d="M738.5 196.1 L738.5 173.2 A36.8 45.8 0 0 0 714.8 183.9 L726.7 201.5 A18.4 22.9 0 0 1 738.5 196.1 Z" fill="#ffc000"/>
<path d="M738.5 196.1 L738.5 173.2 A36.8 45.8 0 0 0 714.8 183.9 L726.7 201.5 A18.4 22.9 0 0 1 738.5 196.1 Z" fill="none" stroke="#000" stroke-width="2.3" stroke-linejoin="round"/>
<path d="M738.5 173.2 L738.5 150.3 A55.2 68.7 0 0 0 703 166.4 L714.8 183.9 A36.8 45.8 0 0 1 738.5 173.2 Z" fill="#f79646"/>
<path d="M738.5 173.2 L738.5 150.3 A55.2 68.7 0 0 0 703 166.4 L714.8 183.9 A36.8 45.8 0 0 1 738.5 173.2 Z" fill="none" stroke="#000" stroke-width="2.3" stroke-linejoin="round"/>
<path d="M738.5 150.3 L738.5 127.4 A73.6 91.6 0 0 0 691.2 148.8 L703 166.4 A55.2 68.7 0 0 1 738.5 150.3 Z" fill="#ffff80"/>
<path d="M738.5 150.3 L738.5 127.4 A73.6 91.6 0 0 0 691.2 148.8 L703 166.4 A55.2 68.7 0 0 1 738.5 150.3 Z" fill="none" stroke="#000" stroke-width="2.3" stroke-linejoin="round"/>
<path d="M738.5 127.4 L738.5 104.5 A92 114.5 0 0 0 679.4 131.3 L691.2 148.8 A73.6 91.6 0 0 1 738.5 127.4 Z" fill="#ffffff"/>
<path d="M738.5 127.4 L738.5 104.5 A92 114.5 0 0 0 679.4 131.3 L691.2 148.8 A73.6 91.6 0 0 1 738.5 127.4 Z" fill="none" stroke="#000" stroke-width="2.3" stroke-linejoin="round"/>
<path d="M726.7 201.5 L720.8 192.7 A27.6 34.4 0 0 0 714.6 201.8 L722.6 207.6 A18.4 22.9 0 0 1 726.7 201.5 Z" fill="#ffff80"/>
<path d="M726.7 201.5 L720.8 192.7 A27.6 34.4 0 0 0 714.6 201.8 L722.6 207.6 A18.4 22.9 0 0 1 726.7 201.5 Z" fill="none" stroke="#000" stroke-width="2.3" stroke-linejoin="round"/>
<path d="M720.8 192.7 L714.8 183.9 A36.8 45.8 0 0 0 706.6 196.1 L714.6 201.8 A27.6 34.4 0 0 1 720.8 192.7 Z" fill="#ffffff"/>
<path d="M720.8 192.7 L714.8 183.9 A36.8 45.8 0 0 0 706.6 196.1 L714.6 201.8 A27.6 34.4 0 0 1 720.8 192.7 Z" fill="none" stroke="#000" stroke-width="2.3" stroke-linejoin="round"/>
<path d="M714.8 183.9 L708.9 175.1 A46 57.2 0 0 0 698.7 190.4 L706.6 196.1 A36.8 45.8 0 0 1 714.8 183.9 Z" fill="#ffffff"/>
<path d="M714.8 183.9 L708.9 175.1 A46 57.2 0 0 0 698.7 190.4 L706.6 196.1 A36.8 45.8 0 0 1 714.8 183.9 Z" fill="none" stroke="#000" stroke-width="2.3" stroke-linejoin="round"/>
<path d="M708.9 175.1 L703 166.4 A55.2 68.7 0 0 0 690.7 184.7 L698.7 190.4 A46 57.2 0 0 1 708.9 175.1 Z" fill="#ffffff"/>
<path d="M708.9 175.1 L703 166.4 A55.2 68.7 0 0 0 690.7 184.7 L698.7 190.4 A46 57.2 0 0 1 708.9 175.1 Z" fill="none" stroke="#000" stroke-width="2.3" stroke-linejoin="round"/>
<path d="M722.6 207.6 L706.6 196.1 A36.8 45.8 0 0 0 702.3 227 L720.4 223 A18.4 22.9 0 0 1 722.6 207.6 Z" fill="#ffffff"/>
<path d="M722.6 207.6 L706.6 196.1 A36.8 45.8 0 0 0 702.3 227 L720.4 223 A18.4 22.9 0 0 1 722.6 207.6 Z" fill="none" stroke="#000" stroke-width="2.3" stroke-linejoin="round"/>
<path d="M706.6 196.1 L690.7 184.7 A55.2 68.7 0 0 0 684.1 230.9 L702.3 227 A36.8 45.8 0 0 1 706.6 196.1 Z" fill="#ffffff"/>
<path d="M706.6 196.1 L690.7 184.7 A55.2 68.7 0 0 0 684.1 230.9 L702.3 227 A36.8 45.8 0 0 1 706.6 196.1 Z" fill="none" stroke="#000" stroke-width="2.3" stroke-linejoin="round"/>
<path d="M690.7 184.7 L674.8 173.2 A73.6 91.6 0 0 0 666 234.9 L684.1 230.9 A55.2 68.7 0 0 1 690.7 184.7 Z" fill="#ffffff"/>
<path d="M690.7 184.7 L674.8 173.2 A73.6 91.6 0 0 0 666 234.9 L684.1 230.9 A55.2 68.7 0 0 1 690.7 184.7 Z" fill="none" stroke="#000" stroke-width="2.3" stroke-linejoin="round"/>
<path d="M674.8 173.2 L658.8 161.8 A92 114.5 0 0 0 647.9 238.9 L666 234.9 A73.6 91.6 0 0 1 674.8 173.2 Z" fill="#ffffff"/>
<path d="M674.8 173.2 L658.8 161.8 A92 114.5 0 0 0 647.9 238.9 L666 234.9 A73.6 91.6 0 0 1 674.8 173.2 Z" fill="none" stroke="#000" stroke-width="2.3" stroke-linejoin="round"/>
<path d="M720.4 223 L702.3 227 A36.8 45.8 0 0 0 714.8 254.1 L726.7 236.5 A18.4 22.9 0 0 1 720.4 223 Z" fill="#ffc000"/>
<path d="M720.4 223 L702.3 227 A36.8 45.8 0 0 0 714.8 254.1 L726.7 236.5 A18.4 22.9 0 0 1 720.4 223 Z" fill="none" stroke="#000" stroke-width="2.3" stroke-linejoin="round"/>
<path d="M702.3 227 L684.1 230.9 A55.2 68.7 0 0 0 703 271.6 L714.8 254.1 A36.8 45.8 0 0 1 702.3 227 Z" fill="#ffff80"/>
<path d="M702.3 227 L684.1 230.9 A55.2 68.7 0 0 0 703 271.6 L714.8 254.1 A36.8 45.8 0 0 1 702.3 227 Z" fill="none" stroke="#000" stroke-width="2.3" stroke-linejoin="round"/>
<path d="M684.1 230.9 L666 234.9 A73.6 91.6 0 0 0 691.2 289.2 L703 271.6 A55.2 68.7 0 0 1 684.1 230.9 Z" fill="#ffffff"/>
<path d="M684.1 230.9 L666 234.9 A73.6 91.6 0 0 0 691.2 289.2 L703 271.6 A55.2 68.7 0 0 1 684.1 230.9 Z" fill="none" stroke="#000" stroke-width="2.3" stroke-linejoin="round"/>
<path d="M666 234.9 L647.9 238.9 A92 114.5 0 0 0 679.4 306.7 L691.2 289.2 A73.6 91.6 0 0 1 666 234.9 Z" fill="#ffffff"/>
<path d="M666 234.9 L647.9 238.9 A92 114.5 0 0 0 679.4 306.7 L691.2 289.2 A73.6 91.6 0 0 1 666 234.9 Z" fill="none" stroke="#000" stroke-width="2.3" stroke-linejoin="round"/>
<path d="M726.7 236.5 L714.8 254.1 A36.8 45.8 0 0 0 738.5 264.8 L738.5 241.9 A18.4 22.9 0 0 1 726.7 236.5 Z" fill="#ffffff"/>
<path d="M726.7 236.5 L714.8 254.1 A36.8 45.8 0 0 0 738.5 264.8 L738.5 241.9 A18.4 22.9 0 0 1 726.7 236.5 Z" fill="none" stroke="#000" stroke-width="2.3" stroke-linejoin="round"/>
<path d="M714.8 254.1 L703 271.6 A55.2 68.7 0 0 0 738.5 287.7 L738.5 264.8 A36.8 45.8 0 0 1 714.8 254.1 Z" fill="#ffffff"/>
<path d="M714.8 254.1 L703 271.6 A55.2 68.7 0 0 0 738.5 287.7 L738.5 264.8 A36.8 45.8 0 0 1 714.8 254.1 Z" fill="none" stroke="#000" stroke-width="2.3" stroke-linejoin="round"/>
<path d="M703 271.6 L691.2 289.2 A73.6 91.6 0 0 0 738.5 310.6 L738.5 287.7 A55.2 68.7 0 0 1 703 271.6 Z" fill="#ffffff"/>
<path d="M703 271.6 L691.2 289.2 A73.6 91.6 0 0 0 738.5 310.6 L738.5 287.7 A55.2 68.7 0 0 1 703 271.6 Z" fill="none" stroke="#000" stroke-width="2.3" stroke-linejoin="round"/>
<path d="M691.2 289.2 L679.4 306.7 A92 114.5 0 0 0 738.5 333.5 L738.5 310.6 A73.6 91.6 0 0 1 691.2 289.2 Z" fill="#ffffff"/>
<path d="M691.2 289.2 L679.4 306.7 A92 114.5 0 0 0 738.5 333.5 L738.5 310.6 A73.6 91.6 0 0 1 691.2 289.2 Z" fill="none" stroke="#000" stroke-width="2.3" stroke-linejoin="round"/>
<path d="M738.5 196.1 A18.4 22.9 0 0 0 738.5 241.9 Z" fill="#fff" stroke="#000" stroke-width="2.3"/>
<line x1="738.8" y1="198.1" x2="738.8" y2="239.9" stroke="#fff" stroke-width="1.5"/>
<rect x="1216.6" y="104" width="279" height="229.8" fill="#000"/>
<g transform="translate(1216.6 104)">
<use href="#bb"/>
<path d="M11.5 64.3 L16.2 69.2 L18.2 69 L22.5 62.2 L20 53.8 L18.7 53.5 L12.9 55Z" fill="#f79646" fill-rule="evenodd"/>
<path d="M7.3 69.7 L11.1 73.5 L13.5 73.1 L18.8 75.8 L21.4 74.6 L23.2 73.1 L28.1 65.8 L29 62.1 L26.4 52.1 L24.1 48.9 L21.4 47.4 L18.2 47 L11 48.6 L7.9 50.8 L7.1 52ZM12.6 55.5 L13.6 54.6 L18.9 53.5 L20.4 54.4 L22.5 62.3 L17.4 69.4 L16 69.2 L11.6 64.6Z" fill="#ff0000" fill-rule="evenodd"/>
<path d="M28.2 80.7 L36 70 L37.9 63.8 L37.7 58.9 L34.1 47.2 L29.9 42 L27.1 40.1 L22.4 38.3 L17.3 38.1 L7.1 40.5 L7.1 52 L9 49.8 L11 48.6 L19 47 L22.8 48 L26.1 51.3 L28.9 60.6 L28.6 64.4 L23.2 73.1 L21.4 74.6 L18.8 75.8ZM7.3 69.7 L7.1 74.1 L11.1 73.5Z" fill="#f79646" fill-rule="evenodd"/>
<path d="M45.6 142.6 L50.3 146.4 L51.5 146.4 L52.3 145.7 L54.5 138 L52.4 130.4 L51.6 129.6 L45.4 131.6 L44.6 132.4Z" fill="#ffff80" fill-rule="evenodd"/>
<path d="M39.7 145.2 L42.2 148.4 L49 152.7 L53.6 152.6 L57.3 149.9 L58.7 147.2 L61 138 L58.4 128.1 L56.2 124.9 L53.4 123.4 L49.5 123.1 L42.3 125.9 L39.8 127.9 L38.6 130 L38 133.1ZM44.5 132.9 L45.3 131.7 L50.6 129.6 L52.3 130.3 L54.5 138 L51.7 146.3 L50.2 146.3 L45.7 142.7Z" fill="#ffff80" fill-rule="evenodd"/>
<path d="M44 112 L42 95 L30 78 L23.4 74.7 L23.4 78.1 L28 80.3 L39.1 96.1 L40.9 111.6 L35.9 123.3 L27.7 124.9 L30.1 127.5 L38 126Z" fill="#ffff80" fill-rule="evenodd"/>
<path d="M117.2 69.2 L123 61.9 L124.1 57.6 L123.4 54.7 L121.6 52.4 L119 50.8 L116.1 50.4 L112.4 51.6 L107.1 57.6 L101.1 60.6 L101.2 77.7 L102.7 68.4 L113.9 65.4Z" fill="#f79646" fill-rule="evenodd"/>
<path d="M121 73.9 L129 63.5 L130.1 58.5 L129.6 54.3 L127.2 49.6 L123.2 46.1 L118.1 44.5 L112.8 44.9 L108.3 47.2 L103.2 52.9 L101 53.9 L101.1 60.6 L107.1 57.6 L110.9 52.9 L113.2 51.1 L116.9 50.4 L120.4 51.5 L123.4 54.7 L123.9 59.6 L122.8 62.3 L117.2 69.3Z" fill="#ff0000" fill-rule="evenodd"/>
<path d="M126.1 80 L134.2 70.4 L137 64.8 L138.1 56.7 L137.4 52.5 L135.9 48.5 L133.7 44.9 L130.8 41.8 L127.4 39.3 L123.5 37.6 L119.4 36.6 L115.2 36.4 L111 37.1 L107 38.6 L101 43 L101 53.9 L103.2 52.9 L106.3 49 L109.2 46.5 L111.8 45.2 L115.7 44.4 L119.7 44.8 L123.4 46.3 L126.5 48.8 L128.7 52.1 L130.1 57.2 L129.3 62.5 L127.5 66 L121 73.9Z" fill="#f79646" fill-rule="evenodd"/>
<path d="M142.4 159 L142.9 156.2 L141.7 144.6 L140.5 141.6 L138.6 140 L135.9 139.2 L129.3 141 L138 167.7Z" fill="#ffff80" fill-rule="evenodd"/>
<path d="M140.2 174.6 L143 171 L148.6 159.2 L148.9 155.8 L147.5 143.3 L145.9 138.8 L142.7 135.5 L138.4 133.5 L133.6 133.4 L132.6 135.4 L127.8 136.2 L129.3 141 L134.6 139.3 L137 139.3 L139.6 140.7 L141.3 143.2 L142.8 157.3 L138 167.7Z" fill="#ffff80" fill-rule="evenodd"/>
<path d="M123 159.6 L127 168.5 L129 170.6 L131.1 171.5 L133.5 171.5 L135.6 170.6 L137.2 169 L138 167.7 L129.3 141 L125.3 142.7 L123.2 145.6Z" fill="#f79646" fill-rule="evenodd"/>
<path d="M121.8 171.4 L125.7 175.6 L130 177.4 L135.6 177.1 L140.2 174.6 L138 167.7 L136.4 170 L133.9 171.4 L131.1 171.5 L128.5 170.3 L127 168.5 L123.2 160.7 L123 146.6 L124.8 143.1 L129.3 141 L127.8 136.2 L123 137.1 L118.9 140.9 L120.9 169.6Z" fill="#f79646" fill-rule="evenodd"/>
<path d="M121.8 182.6 L128.4 185.2 L132.3 185.6 L137.9 184.8 L142.8 182.6 L140.2 174.6 L137.8 176.3 L134.6 177.4 L128.9 177.1 L124 174.2 L120.9 169.6ZM118.9 140.9 L120.7 138.7 L123 137.1 L118.6 137.8Z" fill="#ffc000" fill-rule="evenodd"/>
<path d="M117 160.4 L117.9 163.6 L120.9 169.6 L118.9 140.9 L117.6 143.6 L116.9 146.9Z" fill="#ffff80" fill-rule="evenodd"/>
<path d="M135 138 L140 120 L138 100 L130 80 L120.8 69 L120.8 73.7 L127.4 81.6 L135.1 100.7 L137 119.7 L132.6 135.4 L120.8 137.5 L120.8 140.5Z" fill="#ffff80" fill-rule="evenodd"/>
<path d="M194.7 133 L211 152.3 L215 150 L223.8 139.8 L213.5 99 L211.1 83.9 L209.6 81.4 L206.8 80.2 L200.7 80.8 L194.7 87.3Z" fill="#f79646" fill-rule="evenodd"/>
<path d="M194.7 144.3 L204.8 155.9 L211 152.3 L194.7 133ZM199.2 82 L202 80.3 L206.8 80.2 L209.2 81.1 L211 83.5 L213.5 99 L223.8 140.3 L229.7 133.7 L220.4 97.6 L217.5 81 L215 76.9 L212.1 74.7 L207.5 73.3 L201.8 73.3 L198.5 74.1 L194.7 76.5 L194.7 87.3Z" fill="#ff0000" fill-rule="evenodd"/>
<path d="M197.7 160 L204.8 155.9 L194.7 144.3 L194.7 156.6ZM194.7 76.5 L200.7 73.4 L207.5 73.3 L213.1 75.3 L216.5 78.8 L217.9 82.2 L220.4 97.6 L229.7 133.7 L236.1 126.6 L228.2 96 L225.7 80.1 L223.3 74.6 L219.3 70 L214.2 66.8 L208.3 65.3 L203 65.2 L199.2 65.6 L194.7 67Z" fill="#f79646" fill-rule="evenodd"/>
<path d="M213 154.2 L217.1 154.5 L219.5 152.7 L223.8 140.3 L215 150Z" fill="#f79646" fill-rule="evenodd"/>
<path d="M210.1 160.5 L214.9 161.8 L218.4 161.4 L222.7 159.3 L225.2 156.8 L226.8 153.6 L230.5 142.3 L230.8 138.8 L229.7 133.7 L223.8 140.3 L219.2 153.1 L216.2 154.7 L213 154.2Z" fill="#f79646" fill-rule="evenodd"/>
<path d="M208.6 168.6 L216.5 169.8 L222.3 168.6 L227.5 165.7 L231.7 161.4 L234.4 156.1 L238.6 142.2 L238.5 136.4 L236.1 126.6 L229.7 133.7 L230.8 138.8 L230.5 142.3 L226.8 153.6 L225.2 156.8 L222.7 159.3 L218.4 161.4 L213.7 161.7 L210.1 160.5 L206.7 167.8Z" fill="#ffc000" fill-rule="evenodd"/>
<path d="M209.7 150.9 L213 154.2 L215 150Z" fill="#ffff80" fill-rule="evenodd"/>
<path d="M207.3 158.6 L210.1 160.5 L213 154.2 L209.7 150.9 L201.6 152.4Z" fill="#ffff80" fill-rule="evenodd"/>
<use href="#bt"/>
</g>
<path d="M1215.6 196.1 L1215.6 173.2 A36.8 45.8 0 0 0 1191.9 183.9 L1203.8 201.5 A18.4 22.9 0 0 1 1215.6 196.1 Z" fill="#f79646"/>
<path d="M1215.6 196.1 L1215.6 173.2 A36.8 45.8 0 0 0 1191.9 183.9 L1203.8 201.5 A18.4 22.9 0 0 1 1215.6 196.1 Z" fill="none" stroke="#000" stroke-width="2.3" stroke-linejoin="round"/>
<path d="M1215.6 173.2 L1215.6 150.3 A55.2 68.7 0 0 0 1180.1 166.4 L1191.9 183.9 A36.8 45.8 0 0 1 1215.6 173.2 Z" fill="#ff0000"/>
<path d="M1215.6 173.2 L1215.6 150.3 A55.2 68.7 0 0 0 1180.1 166.4 L1191.9 183.9 A36.8 45.8 0 0 1 1215.6 173.2 Z" fill="none" stroke="#000" stroke-width="2.3" stroke-linejoin="round"/>
<path d="M1215.6 150.3 L1215.6 127.4 A73.6 91.6 0 0 0 1168.3 148.8 L1180.1 166.4 A55.2 68.7 0 0 1 1215.6 150.3 Z" fill="#f79646"/>
<path d="M1215.6 150.3 L1215.6 127.4 A73.6 91.6 0 0 0 1168.3 148.8 L1180.1 166.4 A55.2 68.7 0 0 1 1215.6 150.3 Z" fill="none" stroke="#000" stroke-width="2.3" stroke-linejoin="round"/>
<path d="M1215.6 127.4 L1215.6 104.5 A92 114.5 0 0 0 1156.5 131.3 L1168.3 148.8 A73.6 91.6 0 0 1 1215.6 127.4 Z" fill="#ffffff"/>
<path d="M1215.6 127.4 L1215.6 104.5 A92 114.5 0 0 0 1156.5 131.3 L1168.3 148.8 A73.6 91.6 0 0 1 1215.6 127.4 Z" fill="none" stroke="#000" stroke-width="2.3" stroke-linejoin="round"/>
<path d="M1203.8 201.5 L1197.9 192.7 A27.6 34.4 0 0 0 1191.7 201.8 L1199.7 207.6 A18.4 22.9 0 0 1 1203.8 201.5 Z" fill="#ffff80"/>
<path d="M1203.8 201.5 L1197.9 192.7 A27.6 34.4 0 0 0 1191.7 201.8 L1199.7 207.6 A18.4 22.9 0 0 1 1203.8 201.5 Z" fill="none" stroke="#000" stroke-width="2.3" stroke-linejoin="round"/>
<path d="M1197.9 192.7 L1191.9 183.9 A36.8 45.8 0 0 0 1183.7 196.1 L1191.7 201.8 A27.6 34.4 0 0 1 1197.9 192.7 Z" fill="#ffffff"/>
<path d="M1197.9 192.7 L1191.9 183.9 A36.8 45.8 0 0 0 1183.7 196.1 L1191.7 201.8 A27.6 34.4 0 0 1 1197.9 192.7 Z" fill="none" stroke="#000" stroke-width="2.3" stroke-linejoin="round"/>
<path d="M1191.9 183.9 L1186 175.1 A46 57.2 0 0 0 1175.8 190.4 L1183.7 196.1 A36.8 45.8 0 0 1 1191.9 183.9 Z" fill="#ffffff"/>
<path d="M1191.9 183.9 L1186 175.1 A46 57.2 0 0 0 1175.8 190.4 L1183.7 196.1 A36.8 45.8 0 0 1 1191.9 183.9 Z" fill="none" stroke="#000" stroke-width="2.3" stroke-linejoin="round"/>
<path d="M1186 175.1 L1180.1 166.4 A55.2 68.7 0 0 0 1167.8 184.7 L1175.8 190.4 A46 57.2 0 0 1 1186 175.1 Z" fill="#ffffff"/>
<path d="M1186 175.1 L1180.1 166.4 A55.2 68.7 0 0 0 1167.8 184.7 L1175.8 190.4 A46 57.2 0 0 1 1186 175.1 Z" fill="none" stroke="#000" stroke-width="2.3" stroke-linejoin="round"/>
<path d="M1199.7 207.6 L1183.7 196.1 A36.8 45.8 0 0 0 1179.4 227 L1197.5 223 A18.4 22.9 0 0 1 1199.7 207.6 Z" fill="#ffff80"/>
<path d="M1199.7 207.6 L1183.7 196.1 A36.8 45.8 0 0 0 1179.4 227 L1197.5 223 A18.4 22.9 0 0 1 1199.7 207.6 Z" fill="none" stroke="#000" stroke-width="2.3" stroke-linejoin="round"/>
<path d="M1183.7 196.1 L1167.8 184.7 A55.2 68.7 0 0 0 1161.2 230.9 L1179.4 227 A36.8 45.8 0 0 1 1183.7 196.1 Z" fill="#ffff80"/>
<path d="M1183.7 196.1 L1167.8 184.7 A55.2 68.7 0 0 0 1161.2 230.9 L1179.4 227 A36.8 45.8 0 0 1 1183.7 196.1 Z" fill="none" stroke="#000" stroke-width="2.3" stroke-linejoin="round"/>
<path d="M1167.8 184.7 L1151.9 173.2 A73.6 91.6 0 0 0 1143.1 234.9 L1161.2 230.9 A55.2 68.7 0 0 1 1167.8 184.7 Z" fill="#ffffff"/>
<path d="M1167.8 184.7 L1151.9 173.2 A73.6 91.6 0 0 0 1143.1 234.9 L1161.2 230.9 A55.2 68.7 0 0 1 1167.8 184.7 Z" fill="none" stroke="#000" stroke-width="2.3" stroke-linejoin="round"/>
<path d="M1151.9 173.2 L1135.9 161.8 A92 114.5 0 0 0 1125 238.9 L1143.1 234.9 A73.6 91.6 0 0 1 1151.9 173.2 Z" fill="#ffffff"/>
<path d="M1151.9 173.2 L1135.9 161.8 A92 114.5 0 0 0 1125 238.9 L1143.1 234.9 A73.6 91.6 0 0 1 1151.9 173.2 Z" fill="none" stroke="#000" stroke-width="2.3" stroke-linejoin="round"/>
<path d="M1197.5 223 L1179.4 227 A36.8 45.8 0 0 0 1191.9 254.1 L1203.8 236.5 A18.4 22.9 0 0 1 1197.5 223 Z" fill="#f79646"/>
<path d="M1197.5 223 L1179.4 227 A36.8 45.8 0 0 0 1191.9 254.1 L1203.8 236.5 A18.4 22.9 0 0 1 1197.5 223 Z" fill="none" stroke="#000" stroke-width="2.3" stroke-linejoin="round"/>
<path d="M1179.4 227 L1161.2 230.9 A55.2 68.7 0 0 0 1180.1 271.6 L1191.9 254.1 A36.8 45.8 0 0 1 1179.4 227 Z" fill="#f79646"/>
<path d="M1179.4 227 L1161.2 230.9 A55.2 68.7 0 0 0 1180.1 271.6 L1191.9 254.1 A36.8 45.8 0 0 1 1179.4 227 Z" fill="none" stroke="#000" stroke-width="2.3" stroke-linejoin="round"/>
<path d="M1161.2 230.9 L1143.1 234.9 A73.6 91.6 0 0 0 1168.3 289.2 L1180.1 271.6 A55.2 68.7 0 0 1 1161.2 230.9 Z" fill="#ffc000"/>
<path d="M1161.2 230.9 L1143.1 234.9 A73.6 91.6 0 0 0 1168.3 289.2 L1180.1 271.6 A55.2 68.7 0 0 1 1161.2 230.9 Z" fill="none" stroke="#000" stroke-width="2.3" stroke-linejoin="round"/>
<path d="M1143.1 234.9 L1125 238.9 A92 114.5 0 0 0 1156.5 306.7 L1168.3 289.2 A73.6 91.6 0 0 1 1143.1 234.9 Z" fill="#ffffff"/>
<path d="M1143.1 234.9 L1125 238.9 A92 114.5 0 0 0 1156.5 306.7 L1168.3 289.2 A73.6 91.6 0 0 1 1143.1 234.9 Z" fill="none" stroke="#000" stroke-width="2.3" stroke-linejoin="round"/>
<path d="M1203.8 236.5 L1191.9 254.1 A36.8 45.8 0 0 0 1215.6 264.8 L1215.6 241.9 A18.4 22.9 0 0 1 1203.8 236.5 Z" fill="#ffff80"/>
<path d="M1203.8 236.5 L1191.9 254.1 A36.8 45.8 0 0 0 1215.6 264.8 L1215.6 241.9 A18.4 22.9 0 0 1 1203.8 236.5 Z" fill="none" stroke="#000" stroke-width="2.3" stroke-linejoin="round"/>
<path d="M1191.9 254.1 L1180.1 271.6 A55.2 68.7 0 0 0 1215.6 287.7 L1215.6 264.8 A36.8 45.8 0 0 1 1191.9 254.1 Z" fill="#ffff80"/>
<path d="M1191.9 254.1 L1180.1 271.6 A55.2 68.7 0 0 0 1215.6 287.7 L1215.6 264.8 A36.8 45.8 0 0 1 1191.9 254.1 Z" fill="none" stroke="#000" stroke-width="2.3" stroke-linejoin="round"/>
<path d="M1180.1 271.6 L1168.3 289.2 A73.6 91.6 0 0 0 1215.6 310.6 L1215.6 287.7 A55.2 68.7 0 0 1 1180.1 271.6 Z" fill="#ffffff"/>
<path d="M1180.1 271.6 L1168.3 289.2 A73.6 91.6 0 0 0 1215.6 310.6 L1215.6 287.7 A55.2 68.7 0 0 1 1180.1 271.6 Z" fill="none" stroke="#000" stroke-width="2.3" stroke-linejoin="round"/>
<path d="M1168.3 289.2 L1156.5 306.7 A92 114.5 0 0 0 1215.6 333.5 L1215.6 310.6 A73.6 91.6 0 0 1 1168.3 289.2 Z" fill="#ffffff"/>
<path d="M1168.3 289.2 L1156.5 306.7 A92 114.5 0 0 0 1215.6 333.5 L1215.6 310.6 A73.6 91.6 0 0 1 1168.3 289.2 Z" fill="none" stroke="#000" stroke-width="2.3" stroke-linejoin="round"/>
<path d="M1215.6 196.1 A18.4 22.9 0 0 0 1215.6 241.9 Z" fill="#fff" stroke="#000" stroke-width="2.3"/>
<line x1="1215.9" y1="198.1" x2="1215.9" y2="239.9" stroke="#fff" stroke-width="1.5"/>
<rect x="1690.9" y="104" width="279" height="229.8" fill="#000"/>
<g transform="translate(1690.9 104)">
<use href="#bb"/>
<path d="M11.5 64.3 L16.2 69.2 L18.2 69 L22.5 62.2 L20 53.8 L18.7 53.5 L12.9 55Z" fill="#fa6a28" fill-rule="evenodd"/>
<path d="M7.3 69.7 L11.1 73.5 L13.5 73.1 L18.8 75.8 L21.4 74.6 L23.2 73.1 L28.1 65.8 L29 62.1 L26.4 52.1 L24.1 48.9 L21.4 47.4 L18.2 47 L11 48.6 L7.9 50.8 L7.1 52ZM12.6 55.5 L13.6 54.6 L18.9 53.5 L20.4 54.4 L22.5 62.3 L17.4 69.4 L16 69.2 L11.6 64.6Z" fill="#ff0000" fill-rule="evenodd"/>
<path d="M28.2 80.7 L36 70 L37.9 63.8 L37.7 58.9 L34.1 47.2 L29.9 42 L27.1 40.1 L22.4 38.3 L17.3 38.1 L7.1 40.5 L7.1 52 L9 49.8 L11 48.6 L19 47 L22.8 48 L26.1 51.3 L28.9 60.6 L28.6 64.4 L23.2 73.1 L21.4 74.6 L18.8 75.8ZM7.3 69.7 L7.1 74.1 L11.1 73.5Z" fill="#ff0000" fill-rule="evenodd"/>
<path d="M43.9 84.8 L45.1 74.1 L46.5 71.3 L50.2 69.1 L57 69.5 L60.1 67.9 L62.1 63.3 L62.5 55.4 L60.2 47.9 L54 34.5 L49 29.5 L47.2 28.8 L42.3 32.4 L39.8 32.8 L37.3 32.1 L34.6 29.6 L32.6 24.1 L30.5 23 L25.4 22.5 L23 21.5 L21.1 19.6 L19.5 15.7 L14.3 14.1 L7.1 14.1 L7.1 40.5 L17.3 38.1 L22.4 38.3 L27.1 40.1 L32.3 44.4 L35.3 50.3 L37.7 58.9 L37.9 63.8 L36 70 L31.1 77.4 L28.2 80.7 L37.3 93.5 L44.1 88.7Z" fill="#ffff80" fill-rule="evenodd"/>
<path d="M45.6 142.6 L50.3 146.4 L51.5 146.4 L52.3 145.7 L54.5 138 L52.4 130.4 L51.6 129.6 L45.4 131.6 L44.6 132.4Z" fill="#fa6a28" fill-rule="evenodd"/>
<path d="M39.7 145.2 L42.2 148.4 L49 152.7 L53.6 152.6 L57.3 149.9 L58.7 147.2 L61 138 L58.4 128.1 L56.2 124.9 L53.4 123.4 L49.5 123.1 L42.3 125.9 L39.8 127.9 L38.6 130 L38 133.1ZM44.5 132.9 L45.3 131.7 L50.6 129.6 L52.3 130.3 L54.5 138 L51.7 146.3 L50.2 146.3 L45.7 142.7Z" fill="#f79646" fill-rule="evenodd"/>
<path d="M31.5 148.9 L34.3 153.2 L36.8 155.6 L42.2 159.5 L46.7 161.4 L49.9 162 L54.8 161.6 L59.4 159.8 L62.1 157.9 L65.3 154.2 L66.8 151.2 L69.3 142.7 L70 138 L69.3 133.3 L66.8 124.7 L63.2 119.2 L58.7 115.9 L56.7 116.8 L54.3 117 L47.8 114.3 L38.2 117.9 L35.9 123.3 L31.5 124.2 L30 127.3 L30.8 129.4 L30.7 131.9 L29.1 135 L30.4 145.6ZM38 132.3 L38.9 129.2 L41 126.8 L48 123.6 L52.7 123.2 L56.7 125.4 L58.7 128.8 L61 138 L58.7 147.2 L56.8 150.5 L53.6 152.6 L49.7 152.9 L46.8 151.8 L41.6 147.9 L39.2 143.7Z" fill="#ffc000" fill-rule="evenodd"/>
<path d="M38.2 117.9 L47.8 114.3 L45.8 112.2 L45.1 109.8 L44.1 88.7 L37.3 93.5 L39.1 96.1 L40.9 111.6ZM27.7 124.9 L30 127.3 L31.5 124.2ZM29.1 135 L22.4 138.7 L20.7 142.2 L20.6 159.7 L18.2 176.1 L14.7 186.9 L13.3 189.1 L11.8 190.4 L7.2 191.3 L7.5 216.4 L14.8 216.8 L24.2 215 L32.8 209.6 L43.5 204.2 L52.9 196.9 L61.4 188.5 L67.7 180 L78.5 162.7 L81.4 155 L82.4 144.9 L82.4 128.7 L80.3 116.3 L73.6 99.6 L71.5 90 L69.3 86.6 L66.5 86.1 L64.9 89.7 L63.8 101.5 L61.1 112.6 L58.7 115.9 L62 118 L65.3 121.8 L67.3 126.3 L69.7 134.9 L69.9 139.6 L69.3 142.7 L66.8 151.2 L64.4 155.5 L59.4 159.8 L54.8 161.6 L49.9 162 L43.6 160.3 L36.8 155.6 L33.2 151.9 L30.4 145.6Z" fill="#ffc000" fill-rule="evenodd"/>
<path d="M44 112 L42 95 L30 78 L23.4 74.7 L23.4 78.1 L28 80.3 L39.1 96.1 L40.9 111.6 L35.9 123.3 L27.7 124.9 L30.1 127.5 L38 126Z" fill="#ffc000" fill-rule="evenodd"/>
<path d="M40.9 111.6 L39.1 96.1 L28 80.3 L23.4 78.1 L23.4 81.4 L26 82.7 L36.2 97.2 L37.9 111.1 L33.7 120.7 L23.4 122.6 L23.4 123.4 L27.7 124.9 L35.9 123.3Z" fill="#ffff80" fill-rule="evenodd"/>
<path d="M117.2 69.2 L123 61.9 L124.1 57.6 L123.4 54.7 L121.6 52.4 L119 50.8 L116.1 50.4 L112.4 51.6 L107.1 57.6 L101.1 60.6 L101.2 77.7 L102.7 68.4 L113.9 65.4Z" fill="#fa6a28" fill-rule="evenodd"/>
<path d="M121 73.9 L129 63.5 L130.1 58.5 L129.6 54.3 L127.2 49.6 L123.2 46.1 L118.1 44.5 L112.8 44.9 L108.3 47.2 L103.2 52.9 L101 53.9 L101.1 60.6 L107.1 57.6 L110.9 52.9 L113.2 51.1 L116.9 50.4 L120.4 51.5 L123.4 54.7 L123.9 59.6 L122.8 62.3 L117.2 69.3Z" fill="#ff0000" fill-rule="evenodd"/>
<path d="M126.1 80 L134.2 70.4 L137 64.8 L138.1 56.7 L137.4 52.5 L135.9 48.5 L133.7 44.9 L130.8 41.8 L127.4 39.3 L123.5 37.6 L119.4 36.6 L115.2 36.4 L111 37.1 L107 38.6 L101 43 L101 53.9 L103.2 52.9 L106.3 49 L109.2 46.5 L111.8 45.2 L115.7 44.4 L119.7 44.8 L123.4 46.3 L126.5 48.8 L128.7 52.1 L130.1 57.2 L129.3 62.5 L127.5 66 L121 73.9Z" fill="#ff0000" fill-rule="evenodd"/>
<path d="M159.4 76.9 L157.6 70.5 L157.6 60.8 L158.6 51 L156 44 L150.4 35.6 L142.9 31 L134.3 27.2 L128.8 19.7 L121.1 14.5 L112 13.6 L106.7 14.4 L103.7 16.8 L101.4 22.1 L101 43 L105.2 39.6 L110.7 37.2 L115.2 36.4 L121.2 36.9 L125.5 38.4 L130.6 41.6 L133.7 44.9 L136.7 50.5 L138.1 58.5 L136.9 65 L134 70.6 L126.1 80 L127.4 81.6 L131.5 91.8Z" fill="#ffff80" fill-rule="evenodd"/>
<path d="M142.4 159 L142.9 156.2 L141.7 144.6 L140.5 141.6 L138.6 140 L135.9 139.2 L129.3 141 L138 167.7Z" fill="#fa6a28" fill-rule="evenodd"/>
<path d="M140.2 174.6 L143 171 L148.6 159.2 L148.9 155.8 L147.5 143.3 L145.9 138.8 L142.7 135.5 L138.4 133.5 L133.6 133.4 L132.6 135.4 L127.8 136.2 L129.3 141 L134.6 139.3 L137 139.3 L139.6 140.7 L141.3 143.2 L142.8 157.3 L138 167.7Z" fill="#f79646" fill-rule="evenodd"/>
<path d="M142.8 182.6 L148.7 177.1 L155.9 162.8 L156.9 155.4 L155.5 142.2 L152.7 134.7 L148.8 130.1 L142.1 126.2 L135.4 125.2 L133.1 133.5 L138.3 133.5 L142.6 135.4 L145.9 138.8 L147.6 143.4 L148.9 155.8 L148.6 159.3 L142.8 171.5 L140.2 174.6Z" fill="#ffc000" fill-rule="evenodd"/>
<path d="M137 119.7 L135.4 125.2 L142.1 126.2 L148.9 130.2 L153.7 136.4 L155.6 143.1 L156.9 155.4 L156.4 161 L155.1 164.7 L149.7 175.5 L146.2 180 L142.8 182.6 L145.4 190.6 L156.9 179.4 L163.1 171.2 L168.1 162.2 L173.5 141.6 L175.7 128 L174.6 116.6 L170.4 109 L159.4 76.9 L131.5 91.8 L135.1 100.7Z" fill="#ffc000" fill-rule="evenodd"/>
<path d="M123 159.6 L127 168.5 L129 170.6 L131.1 171.5 L133.5 171.5 L135.6 170.6 L137.2 169 L138 167.7 L129.3 141 L125.3 142.7 L123.2 145.6Z" fill="#fa6a28" fill-rule="evenodd"/>
<path d="M121.8 171.4 L125.7 175.6 L130 177.4 L135.6 177.1 L140.2 174.6 L138 167.7 L136.4 170 L133.9 171.4 L131.1 171.5 L128.5 170.3 L127 168.5 L123.2 160.7 L123 146.6 L124.8 143.1 L129.3 141 L127.8 136.2 L123 137.1 L118.9 140.9 L120.9 169.6Z" fill="#fa3200" fill-rule="evenodd"/>
<path d="M121.8 182.6 L128.4 185.2 L132.3 185.6 L137.9 184.8 L142.8 182.6 L140.2 174.6 L137.8 176.3 L134.6 177.4 L128.9 177.1 L124 174.2 L120.9 169.6ZM118.9 140.9 L120.7 138.7 L123 137.1 L118.6 137.8Z" fill="#fa6a28" fill-rule="evenodd"/>
<path d="M142.8 182.6 L136.1 185.2 L132.2 185.6 L126.6 184.8 L121.8 182.6 L123.5 207.5 L128.6 204.4 L145.4 190.6Z" fill="#ffc000" fill-rule="evenodd"/>
<path d="M117 160.4 L117.9 163.6 L120.9 169.6 L118.9 140.9 L117.6 143.6 L116.9 146.9Z" fill="#ffff80" fill-rule="evenodd"/>
<path d="M109.1 161.5 L110.6 166.9 L114.9 175.4 L118.3 179.9 L121.8 182.6 L120.9 169.6 L117.5 162.7 L116.9 159.4 L116.9 146.9 L117.6 143.6 L118.9 140.9 L118.6 137.8 L113.4 134.9 L112.6 135.9 L114.6 138.8 L114.9 141.9 L113 145.7 L108.9 147.8Z" fill="#ffff80" fill-rule="evenodd"/>
<path d="M135 138 L140 120 L138 100 L130 80 L120.8 69 L120.8 73.7 L127.4 81.6 L135.1 100.7 L137 119.7 L132.6 135.4 L120.8 137.5 L120.8 140.5Z" fill="#ffc000" fill-rule="evenodd"/>
<path d="M132.6 135.4 L137 119.7 L135.1 100.7 L127.4 81.6 L120.8 73.7 L120.8 78.4 L124.8 83.1 L132.1 101.4 L133.9 119.5 L130.2 132.7 L120.8 134.4 L120.8 137.5Z" fill="#ffff80" fill-rule="evenodd"/>
<path d="M194.7 133 L211 152.3 L215 150 L223.8 139.8 L213.5 99 L211.1 83.9 L209.6 81.4 L206.8 80.2 L200.7 80.8 L194.7 87.3Z" fill="#fa6a28" fill-rule="evenodd"/>
<path d="M194.7 144.3 L204.8 155.9 L211 152.3 L194.7 133ZM199.2 82 L202 80.3 L206.8 80.2 L209.2 81.1 L211 83.5 L213.5 99 L223.8 140.3 L229.7 133.7 L220.4 97.6 L217.5 81 L215 76.9 L212.1 74.7 L207.5 73.3 L201.8 73.3 L198.5 74.1 L194.7 76.5 L194.7 87.3Z" fill="#ff0000" fill-rule="evenodd"/>
<path d="M197.7 160 L204.8 155.9 L194.7 144.3 L194.7 156.6ZM194.7 76.5 L200.7 73.4 L207.5 73.3 L213.1 75.3 L216.5 78.8 L217.9 82.2 L220.4 97.6 L229.7 133.7 L236.1 126.6 L228.2 96 L225.7 80.1 L223.3 74.6 L219.3 70 L214.2 66.8 L208.3 65.3 L203 65.2 L199.2 65.6 L194.7 67Z" fill="#ff0000" fill-rule="evenodd"/>
<path d="M197.3 66 L206.3 65.2 L212.3 66.1 L217.7 68.8 L220.8 71.4 L223.3 74.6 L225.7 80.1 L228.2 96 L236.1 126.6 L262.7 97 L261.2 87.8 L254.6 66.1 L252.3 61.4 L245.1 56 L242.1 46.8 L238.7 39.9 L232.3 35.9 L226.2 34.9 L223.8 33.7 L222.2 31.6 L220.2 26.9 L214.4 22.4 L197.9 16.6 L195.4 17 L194.7 18.1 L194.7 67ZM194.7 161.7 L197.7 160 L194.7 156.6Z" fill="#ffff80" fill-rule="evenodd"/>
<path d="M213 154.2 L217.1 154.5 L219.5 152.7 L223.8 140.3 L215 150Z" fill="#fa6a28" fill-rule="evenodd"/>
<path d="M210.1 160.5 L214.9 161.8 L218.4 161.4 L222.7 159.3 L225.2 156.8 L226.8 153.6 L230.5 142.3 L230.8 138.8 L229.7 133.7 L223.8 140.3 L219.2 153.1 L216.2 154.7 L213 154.2Z" fill="#fa3200" fill-rule="evenodd"/>
<path d="M208.6 168.6 L216.5 169.8 L222.3 168.6 L227.5 165.7 L231.7 161.4 L234.4 156.1 L238.6 142.2 L238.5 136.4 L236.1 126.6 L229.7 133.7 L230.8 138.8 L230.5 142.3 L226.8 153.6 L225.2 156.8 L222.7 159.3 L218.4 161.4 L213.7 161.7 L210.1 160.5 L206.7 167.8Z" fill="#fa6a28" fill-rule="evenodd"/>
<path d="M238.5 136.4 L238.3 144.1 L234.4 156.1 L232.7 159.8 L229 164.4 L224.1 167.8 L218.5 169.6 L212.5 169.6 L206.7 167.8 L194.7 193.5 L194.7 208.5 L197.1 210.2 L204.6 210.6 L214.2 208.2 L224.6 203 L234.7 195.9 L251.9 173.3 L258 163.1 L261.1 150.9 L264.4 113.5 L262.7 97 L236.1 126.6Z" fill="#ffc000" fill-rule="evenodd"/>
<path d="M209.7 150.9 L213 154.2 L215 150Z" fill="#f79646" fill-rule="evenodd"/>
<path d="M207.3 158.6 L210.1 160.5 L213 154.2 L209.7 150.9 L201.6 152.4Z" fill="#ffff80" fill-rule="evenodd"/>
<path d="M201.9 164.5 L206.7 167.8 L210.1 160.5 L207.3 158.6 L201.6 152.4 L194.7 153.6 L194.7 156.6Z" fill="#ffff80" fill-rule="evenodd"/>
<use href="#bt"/>
</g>
<path d="M1689.9 196.1 L1689.9 173.2 A36.8 45.8 0 0 0 1666.2 183.9 L1678.1 201.5 A18.4 22.9 0 0 1 1689.9 196.1 Z" fill="#fa6a28"/>
<path d="M1689.9 196.1 L1689.9 173.2 A36.8 45.8 0 0 0 1666.2 183.9 L1678.1 201.5 A18.4 22.9 0 0 1 1689.9 196.1 Z" fill="none" stroke="#000" stroke-width="2.3" stroke-linejoin="round"/>
<path d="M1689.9 173.2 L1689.9 150.3 A55.2 68.7 0 0 0 1654.4 166.4 L1666.2 183.9 A36.8 45.8 0 0 1 1689.9 173.2 Z" fill="#ff0000"/>
<path d="M1689.9 173.2 L1689.9 150.3 A55.2 68.7 0 0 0 1654.4 166.4 L1666.2 183.9 A36.8 45.8 0 0 1 1689.9 173.2 Z" fill="none" stroke="#000" stroke-width="2.3" stroke-linejoin="round"/>
<path d="M1689.9 150.3 L1689.9 127.4 A73.6 91.6 0 0 0 1642.6 148.8 L1654.4 166.4 A55.2 68.7 0 0 1 1689.9 150.3 Z" fill="#ff0000"/>
<path d="M1689.9 150.3 L1689.9 127.4 A73.6 91.6 0 0 0 1642.6 148.8 L1654.4 166.4 A55.2 68.7 0 0 1 1689.9 150.3 Z" fill="none" stroke="#000" stroke-width="2.3" stroke-linejoin="round"/>
<path d="M1689.9 127.4 L1689.9 104.5 A92 114.5 0 0 0 1630.8 131.3 L1642.6 148.8 A73.6 91.6 0 0 1 1689.9 127.4 Z" fill="#ffff80"/>
<path d="M1689.9 127.4 L1689.9 104.5 A92 114.5 0 0 0 1630.8 131.3 L1642.6 148.8 A73.6 91.6 0 0 1 1689.9 127.4 Z" fill="none" stroke="#000" stroke-width="2.3" stroke-linejoin="round"/>
<path d="M1678.1 201.5 L1672.2 192.7 A27.6 34.4 0 0 0 1666 201.8 L1674 207.6 A18.4 22.9 0 0 1 1678.1 201.5 Z" fill="#ffc000"/>
<path d="M1678.1 201.5 L1672.2 192.7 A27.6 34.4 0 0 0 1666 201.8 L1674 207.6 A18.4 22.9 0 0 1 1678.1 201.5 Z" fill="none" stroke="#000" stroke-width="2.3" stroke-linejoin="round"/>
<path d="M1672.2 192.7 L1666.2 183.9 A36.8 45.8 0 0 0 1658 196.1 L1666 201.8 A27.6 34.4 0 0 1 1672.2 192.7 Z" fill="#ffff80"/>
<path d="M1672.2 192.7 L1666.2 183.9 A36.8 45.8 0 0 0 1658 196.1 L1666 201.8 A27.6 34.4 0 0 1 1672.2 192.7 Z" fill="none" stroke="#000" stroke-width="2.3" stroke-linejoin="round"/>
<path d="M1666.2 183.9 L1660.3 175.1 A46 57.2 0 0 0 1650.1 190.4 L1658 196.1 A36.8 45.8 0 0 1 1666.2 183.9 Z" fill="#ffffff"/>
<path d="M1666.2 183.9 L1660.3 175.1 A46 57.2 0 0 0 1650.1 190.4 L1658 196.1 A36.8 45.8 0 0 1 1666.2 183.9 Z" fill="none" stroke="#000" stroke-width="2.3" stroke-linejoin="round"/>
<path d="M1660.3 175.1 L1654.4 166.4 A55.2 68.7 0 0 0 1642.1 184.7 L1650.1 190.4 A46 57.2 0 0 1 1660.3 175.1 Z" fill="#ffffff"/>
<path d="M1660.3 175.1 L1654.4 166.4 A55.2 68.7 0 0 0 1642.1 184.7 L1650.1 190.4 A46 57.2 0 0 1 1660.3 175.1 Z" fill="none" stroke="#000" stroke-width="2.3" stroke-linejoin="round"/>
<path d="M1674 207.6 L1658 196.1 A36.8 45.8 0 0 0 1653.7 227 L1671.8 223 A18.4 22.9 0 0 1 1674 207.6 Z" fill="#fa6a28"/>
<path d="M1674 207.6 L1658 196.1 A36.8 45.8 0 0 0 1653.7 227 L1671.8 223 A18.4 22.9 0 0 1 1674 207.6 Z" fill="none" stroke="#000" stroke-width="2.3" stroke-linejoin="round"/>
<path d="M1658 196.1 L1642.1 184.7 A55.2 68.7 0 0 0 1635.5 230.9 L1653.7 227 A36.8 45.8 0 0 1 1658 196.1 Z" fill="#f79646"/>
<path d="M1658 196.1 L1642.1 184.7 A55.2 68.7 0 0 0 1635.5 230.9 L1653.7 227 A36.8 45.8 0 0 1 1658 196.1 Z" fill="none" stroke="#000" stroke-width="2.3" stroke-linejoin="round"/>
<path d="M1642.1 184.7 L1626.2 173.2 A73.6 91.6 0 0 0 1617.4 234.9 L1635.5 230.9 A55.2 68.7 0 0 1 1642.1 184.7 Z" fill="#ffc000"/>
<path d="M1642.1 184.7 L1626.2 173.2 A73.6 91.6 0 0 0 1617.4 234.9 L1635.5 230.9 A55.2 68.7 0 0 1 1642.1 184.7 Z" fill="none" stroke="#000" stroke-width="2.3" stroke-linejoin="round"/>
<path d="M1626.2 173.2 L1610.2 161.8 A92 114.5 0 0 0 1599.3 238.9 L1617.4 234.9 A73.6 91.6 0 0 1 1626.2 173.2 Z" fill="#ffc000"/>
<path d="M1626.2 173.2 L1610.2 161.8 A92 114.5 0 0 0 1599.3 238.9 L1617.4 234.9 A73.6 91.6 0 0 1 1626.2 173.2 Z" fill="none" stroke="#000" stroke-width="2.3" stroke-linejoin="round"/>
<path d="M1671.8 223 L1653.7 227 A36.8 45.8 0 0 0 1666.2 254.1 L1678.1 236.5 A18.4 22.9 0 0 1 1671.8 223 Z" fill="#fa6a28"/>
<path d="M1671.8 223 L1653.7 227 A36.8 45.8 0 0 0 1666.2 254.1 L1678.1 236.5 A18.4 22.9 0 0 1 1671.8 223 Z" fill="none" stroke="#000" stroke-width="2.3" stroke-linejoin="round"/>
<path d="M1653.7 227 L1635.5 230.9 A55.2 68.7 0 0 0 1654.4 271.6 L1666.2 254.1 A36.8 45.8 0 0 1 1653.7 227 Z" fill="#fa3200"/>
<path d="M1653.7 227 L1635.5 230.9 A55.2 68.7 0 0 0 1654.4 271.6 L1666.2 254.1 A36.8 45.8 0 0 1 1653.7 227 Z" fill="none" stroke="#000" stroke-width="2.3" stroke-linejoin="round"/>
<path d="M1635.5 230.9 L1617.4 234.9 A73.6 91.6 0 0 0 1642.6 289.2 L1654.4 271.6 A55.2 68.7 0 0 1 1635.5 230.9 Z" fill="#fa6a28"/>
<path d="M1635.5 230.9 L1617.4 234.9 A73.6 91.6 0 0 0 1642.6 289.2 L1654.4 271.6 A55.2 68.7 0 0 1 1635.5 230.9 Z" fill="none" stroke="#000" stroke-width="2.3" stroke-linejoin="round"/>
<path d="M1617.4 234.9 L1599.3 238.9 A92 114.5 0 0 0 1630.8 306.7 L1642.6 289.2 A73.6 91.6 0 0 1 1617.4 234.9 Z" fill="#ffc000"/>
<path d="M1617.4 234.9 L1599.3 238.9 A92 114.5 0 0 0 1630.8 306.7 L1642.6 289.2 A73.6 91.6 0 0 1 1617.4 234.9 Z" fill="none" stroke="#000" stroke-width="2.3" stroke-linejoin="round"/>
<path d="M1678.1 236.5 L1666.2 254.1 A36.8 45.8 0 0 0 1689.9 264.8 L1689.9 241.9 A18.4 22.9 0 0 1 1678.1 236.5 Z" fill="#f79646"/>
<path d="M1678.1 236.5 L1666.2 254.1 A36.8 45.8 0 0 0 1689.9 264.8 L1689.9 241.9 A18.4 22.9 0 0 1 1678.1 236.5 Z" fill="none" stroke="#000" stroke-width="2.3" stroke-linejoin="round"/>
<path d="M1666.2 254.1 L1654.4 271.6 A55.2 68.7 0 0 0 1689.9 287.7 L1689.9 264.8 A36.8 45.8 0 0 1 1666.2 254.1 Z" fill="#ffff80"/>
<path d="M1666.2 254.1 L1654.4 271.6 A55.2 68.7 0 0 0 1689.9 287.7 L1689.9 264.8 A36.8 45.8 0 0 1 1666.2 254.1 Z" fill="none" stroke="#000" stroke-width="2.3" stroke-linejoin="round"/>
<path d="M1654.4 271.6 L1642.6 289.2 A73.6 91.6 0 0 0 1689.9 310.6 L1689.9 287.7 A55.2 68.7 0 0 1 1654.4 271.6 Z" fill="#ffff80"/>
<path d="M1654.4 271.6 L1642.6 289.2 A73.6 91.6 0 0 0 1689.9 310.6 L1689.9 287.7 A55.2 68.7 0 0 1 1654.4 271.6 Z" fill="none" stroke="#000" stroke-width="2.3" stroke-linejoin="round"/>
<path d="M1642.6 289.2 L1630.8 306.7 A92 114.5 0 0 0 1689.9 333.5 L1689.9 310.6 A73.6 91.6 0 0 1 1642.6 289.2 Z" fill="#ffffff"/>
<path d="M1642.6 289.2 L1630.8 306.7 A92 114.5 0 0 0 1689.9 333.5 L1689.9 310.6 A73.6 91.6 0 0 1 1642.6 289.2 Z" fill="none" stroke="#000" stroke-width="2.3" stroke-linejoin="round"/>
<path d="M1689.9 196.1 A18.4 22.9 0 0 0 1689.9 241.9 Z" fill="#fff" stroke="#000" stroke-width="2.3"/>
<line x1="1690.2" y1="198.1" x2="1690.2" y2="239.9" stroke="#fff" stroke-width="1.5"/>
<rect x="265.9" y="388" width="279" height="229.8" fill="#000"/>
<g transform="translate(265.9 388)">
<use href="#bb"/>
<path d="M11.5 64.3 L16.2 69.2 L18.2 69 L22.5 62.2 L20 53.8 L18.7 53.5 L12.9 55Z" fill="#ffff80" fill-rule="evenodd"/>
<path d="M45.6 142.6 L50.3 146.4 L51.5 146.4 L52.3 145.7 L54.5 138 L52.4 130.4 L51.6 129.6 L45.4 131.6 L44.6 132.4Z" fill="#ffff80" fill-rule="evenodd"/>
<path d="M117.2 69.2 L123 61.9 L124.1 57.6 L123.4 54.7 L121.6 52.4 L119 50.8 L116.1 50.4 L112.4 51.6 L107.1 57.6 L101.1 60.6 L101.2 77.7 L102.7 68.4 L113.9 65.4Z" fill="#ffff80" fill-rule="evenodd"/>
<path d="M142.4 159 L142.9 156.2 L141.7 144.6 L140.5 141.6 L138.6 140 L135.9 139.2 L129.3 141 L138 167.7Z" fill="#ffff80" fill-rule="evenodd"/>
<path d="M194.7 133 L211 152.3 L215 150 L223.8 139.8 L213.5 99 L211.1 83.9 L209.6 81.4 L206.8 80.2 L200.7 80.8 L194.7 87.3Z" fill="#ffff80" fill-rule="evenodd"/>
<use href="#bt"/>
</g>
<path d="M264.9 480.1 L264.9 457.2 A36.8 45.8 0 0 0 241.2 467.9 L253.1 485.5 A18.4 22.9 0 0 1 264.9 480.1 Z" fill="#ffff80"/>
<path d="M264.9 480.1 L264.9 457.2 A36.8 45.8 0 0 0 241.2 467.9 L253.1 485.5 A18.4 22.9 0 0 1 264.9 480.1 Z" fill="none" stroke="#000" stroke-width="2.3" stroke-linejoin="round"/>
<path d="M264.9 457.2 L264.9 434.3 A55.2 68.7 0 0 0 229.4 450.4 L241.2 467.9 A36.8 45.8 0 0 1 264.9 457.2 Z" fill="#ffffff"/>
<path d="M264.9 457.2 L264.9 434.3 A55.2 68.7 0 0 0 229.4 450.4 L241.2 467.9 A36.8 45.8 0 0 1 264.9 457.2 Z" fill="none" stroke="#000" stroke-width="2.3" stroke-linejoin="round"/>
<path d="M264.9 434.3 L264.9 411.4 A73.6 91.6 0 0 0 217.6 432.8 L229.4 450.4 A55.2 68.7 0 0 1 264.9 434.3 Z" fill="#ffffff"/>
<path d="M264.9 434.3 L264.9 411.4 A73.6 91.6 0 0 0 217.6 432.8 L229.4 450.4 A55.2 68.7 0 0 1 264.9 434.3 Z" fill="none" stroke="#000" stroke-width="2.3" stroke-linejoin="round"/>
<path d="M264.9 411.4 L264.9 388.5 A92 114.5 0 0 0 205.8 415.3 L217.6 432.8 A73.6 91.6 0 0 1 264.9 411.4 Z" fill="#ffffff"/>
<path d="M264.9 411.4 L264.9 388.5 A92 114.5 0 0 0 205.8 415.3 L217.6 432.8 A73.6 91.6 0 0 1 264.9 411.4 Z" fill="none" stroke="#000" stroke-width="2.3" stroke-linejoin="round"/>
<path d="M253.1 485.5 L247.2 476.7 A27.6 34.4 0 0 0 241 485.8 L249 491.6 A18.4 22.9 0 0 1 253.1 485.5 Z" fill="#ffffff"/>
<path d="M253.1 485.5 L247.2 476.7 A27.6 34.4 0 0 0 241 485.8 L249 491.6 A18.4 22.9 0 0 1 253.1 485.5 Z" fill="none" stroke="#000" stroke-width="2.3" stroke-linejoin="round"/>
<path d="M247.2 476.7 L241.2 467.9 A36.8 45.8 0 0 0 233 480.1 L241 485.8 A27.6 34.4 0 0 1 247.2 476.7 Z" fill="#ffffff"/>
<path d="M247.2 476.7 L241.2 467.9 A36.8 45.8 0 0 0 233 480.1 L241 485.8 A27.6 34.4 0 0 1 247.2 476.7 Z" fill="none" stroke="#000" stroke-width="2.3" stroke-linejoin="round"/>
<path d="M241.2 467.9 L235.3 459.1 A46 57.2 0 0 0 225.1 474.4 L233 480.1 A36.8 45.8 0 0 1 241.2 467.9 Z" fill="#ffffff"/>
<path d="M241.2 467.9 L235.3 459.1 A46 57.2 0 0 0 225.1 474.4 L233 480.1 A36.8 45.8 0 0 1 241.2 467.9 Z" fill="none" stroke="#000" stroke-width="2.3" stroke-linejoin="round"/>
<path d="M235.3 459.1 L229.4 450.4 A55.2 68.7 0 0 0 217.1 468.6 L225.1 474.4 A46 57.2 0 0 1 235.3 459.1 Z" fill="#ffffff"/>
<path d="M235.3 459.1 L229.4 450.4 A55.2 68.7 0 0 0 217.1 468.6 L225.1 474.4 A46 57.2 0 0 1 235.3 459.1 Z" fill="none" stroke="#000" stroke-width="2.3" stroke-linejoin="round"/>
<path d="M249 491.6 L233 480.1 A36.8 45.8 0 0 0 228.7 511 L246.8 507 A18.4 22.9 0 0 1 249 491.6 Z" fill="#ffff80"/>
<path d="M249 491.6 L233 480.1 A36.8 45.8 0 0 0 228.7 511 L246.8 507 A18.4 22.9 0 0 1 249 491.6 Z" fill="none" stroke="#000" stroke-width="2.3" stroke-linejoin="round"/>
<path d="M233 480.1 L217.1 468.6 A55.2 68.7 0 0 0 210.5 514.9 L228.7 511 A36.8 45.8 0 0 1 233 480.1 Z" fill="#ffffff"/>
<path d="M233 480.1 L217.1 468.6 A55.2 68.7 0 0 0 210.5 514.9 L228.7 511 A36.8 45.8 0 0 1 233 480.1 Z" fill="none" stroke="#000" stroke-width="2.3" stroke-linejoin="round"/>
<path d="M217.1 468.6 L201.2 457.2 A73.6 91.6 0 0 0 192.4 518.9 L210.5 514.9 A55.2 68.7 0 0 1 217.1 468.6 Z" fill="#ffffff"/>
<path d="M217.1 468.6 L201.2 457.2 A73.6 91.6 0 0 0 192.4 518.9 L210.5 514.9 A55.2 68.7 0 0 1 217.1 468.6 Z" fill="none" stroke="#000" stroke-width="2.3" stroke-linejoin="round"/>
<path d="M201.2 457.2 L185.2 445.8 A92 114.5 0 0 0 174.3 522.9 L192.4 518.9 A73.6 91.6 0 0 1 201.2 457.2 Z" fill="#ffffff"/>
<path d="M201.2 457.2 L185.2 445.8 A92 114.5 0 0 0 174.3 522.9 L192.4 518.9 A73.6 91.6 0 0 1 201.2 457.2 Z" fill="none" stroke="#000" stroke-width="2.3" stroke-linejoin="round"/>
<path d="M246.8 507 L228.7 511 A36.8 45.8 0 0 0 241.2 538.1 L253.1 520.5 A18.4 22.9 0 0 1 246.8 507 Z" fill="#ffffff"/>
<path d="M246.8 507 L228.7 511 A36.8 45.8 0 0 0 241.2 538.1 L253.1 520.5 A18.4 22.9 0 0 1 246.8 507 Z" fill="none" stroke="#000" stroke-width="2.3" stroke-linejoin="round"/>
<path d="M228.7 511 L210.5 514.9 A55.2 68.7 0 0 0 229.4 555.6 L241.2 538.1 A36.8 45.8 0 0 1 228.7 511 Z" fill="#ffffff"/>
<path d="M228.7 511 L210.5 514.9 A55.2 68.7 0 0 0 229.4 555.6 L241.2 538.1 A36.8 45.8 0 0 1 228.7 511 Z" fill="none" stroke="#000" stroke-width="2.3" stroke-linejoin="round"/>
<path d="M210.5 514.9 L192.4 518.9 A73.6 91.6 0 0 0 217.6 573.2 L229.4 555.6 A55.2 68.7 0 0 1 210.5 514.9 Z" fill="#ffffff"/>
<path d="M210.5 514.9 L192.4 518.9 A73.6 91.6 0 0 0 217.6 573.2 L229.4 555.6 A55.2 68.7 0 0 1 210.5 514.9 Z" fill="none" stroke="#000" stroke-width="2.3" stroke-linejoin="round"/>
<path d="M192.4 518.9 L174.3 522.9 A92 114.5 0 0 0 205.8 590.7 L217.6 573.2 A73.6 91.6 0 0 1 192.4 518.9 Z" fill="#ffffff"/>
<path d="M192.4 518.9 L174.3 522.9 A92 114.5 0 0 0 205.8 590.7 L217.6 573.2 A73.6 91.6 0 0 1 192.4 518.9 Z" fill="none" stroke="#000" stroke-width="2.3" stroke-linejoin="round"/>
<path d="M253.1 520.5 L241.2 538.1 A36.8 45.8 0 0 0 264.9 548.8 L264.9 525.9 A18.4 22.9 0 0 1 253.1 520.5 Z" fill="#ffffff"/>
<path d="M253.1 520.5 L241.2 538.1 A36.8 45.8 0 0 0 264.9 548.8 L264.9 525.9 A18.4 22.9 0 0 1 253.1 520.5 Z" fill="none" stroke="#000" stroke-width="2.3" stroke-linejoin="round"/>
<path d="M241.2 538.1 L229.4 555.6 A55.2 68.7 0 0 0 264.9 571.7 L264.9 548.8 A36.8 45.8 0 0 1 241.2 538.1 Z" fill="#ffffff"/>
<path d="M241.2 538.1 L229.4 555.6 A55.2 68.7 0 0 0 264.9 571.7 L264.9 548.8 A36.8 45.8 0 0 1 241.2 538.1 Z" fill="none" stroke="#000" stroke-width="2.3" stroke-linejoin="round"/>
<path d="M229.4 555.6 L217.6 573.2 A73.6 91.6 0 0 0 264.9 594.6 L264.9 571.7 A55.2 68.7 0 0 1 229.4 555.6 Z" fill="#ffffff"/>
<path d="M229.4 555.6 L217.6 573.2 A73.6 91.6 0 0 0 264.9 594.6 L264.9 571.7 A55.2 68.7 0 0 1 229.4 555.6 Z" fill="none" stroke="#000" stroke-width="2.3" stroke-linejoin="round"/>
<path d="M217.6 573.2 L205.8 590.7 A92 114.5 0 0 0 264.9 617.5 L264.9 594.6 A73.6 91.6 0 0 1 217.6 573.2 Z" fill="#ffffff"/>
<path d="M217.6 573.2 L205.8 590.7 A92 114.5 0 0 0 264.9 617.5 L264.9 594.6 A73.6 91.6 0 0 1 217.6 573.2 Z" fill="none" stroke="#000" stroke-width="2.3" stroke-linejoin="round"/>
<path d="M264.9 480.1 A18.4 22.9 0 0 0 264.9 525.9 Z" fill="#fff" stroke="#000" stroke-width="2.3"/>
<line x1="265.2" y1="482.1" x2="265.2" y2="523.9" stroke="#fff" stroke-width="1.5"/>
<rect x="739.5" y="388" width="279" height="229.8" fill="#000"/>
<g transform="translate(739.5 388)">
<use href="#bb"/>
<path d="M11.5 64.3 L16.2 69.2 L18.2 69 L22.5 62.2 L20 53.8 L18.7 53.5 L12.9 55Z" fill="#ffc000" fill-rule="evenodd"/>
<path d="M7.3 69.7 L11.1 73.5 L13.5 73.1 L18.8 75.8 L21.4 74.6 L23.2 73.1 L28.1 65.8 L29 62.1 L26.4 52.1 L24.1 48.9 L21.4 47.4 L18.2 47 L11 48.6 L7.9 50.8 L7.1 52ZM12.6 55.5 L13.6 54.6 L18.9 53.5 L20.4 54.4 L22.5 62.3 L17.4 69.4 L16 69.2 L11.6 64.6Z" fill="#ffff80" fill-rule="evenodd"/>
<path d="M45.6 142.6 L50.3 146.4 L51.5 146.4 L52.3 145.7 L54.5 138 L52.4 130.4 L51.6 129.6 L45.4 131.6 L44.6 132.4Z" fill="#f79646" fill-rule="evenodd"/>
<path d="M44 112 L42 95 L30 78 L23.4 74.7 L23.4 78.1 L28 80.3 L39.1 96.1 L40.9 111.6 L35.9 123.3 L27.7 124.9 L30.1 127.5 L38 126Z" fill="#ffff80" fill-rule="evenodd"/>
<path d="M117.2 69.2 L123 61.9 L124.1 57.6 L123.4 54.7 L121.6 52.4 L119 50.8 L116.1 50.4 L112.4 51.6 L107.1 57.6 L101.1 60.6 L101.2 77.7 L102.7 68.4 L113.9 65.4Z" fill="#ffc000" fill-rule="evenodd"/>
<path d="M121 73.9 L129 63.5 L130.1 58.5 L129.6 54.3 L127.2 49.6 L123.2 46.1 L118.1 44.5 L112.8 44.9 L108.3 47.2 L103.2 52.9 L101 53.9 L101.1 60.6 L107.1 57.6 L110.9 52.9 L113.2 51.1 L116.9 50.4 L120.4 51.5 L123.4 54.7 L123.9 59.6 L122.8 62.3 L117.2 69.3Z" fill="#ffff80" fill-rule="evenodd"/>
<path d="M142.4 159 L142.9 156.2 L141.7 144.6 L140.5 141.6 L138.6 140 L135.9 139.2 L129.3 141 L138 167.7Z" fill="#f79646" fill-rule="evenodd"/>
<path d="M123 159.6 L127 168.5 L129 170.6 L131.1 171.5 L133.5 171.5 L135.6 170.6 L137.2 169 L138 167.7 L129.3 141 L125.3 142.7 L123.2 145.6Z" fill="#ffff80" fill-rule="evenodd"/>
<path d="M117 160.4 L117.9 163.6 L120.9 169.6 L118.9 140.9 L117.6 143.6 L116.9 146.9Z" fill="#ffff80" fill-rule="evenodd"/>
<path d="M135 138 L140 120 L138 100 L130 80 L120.8 69 L120.8 73.7 L127.4 81.6 L135.1 100.7 L137 119.7 L132.6 135.4 L120.8 137.5 L120.8 140.5Z" fill="#ffff80" fill-rule="evenodd"/>
<path d="M194.7 133 L211 152.3 L215 150 L223.8 139.8 L213.5 99 L211.1 83.9 L209.6 81.4 L206.8 80.2 L200.7 80.8 L194.7 87.3Z" fill="#ffc000" fill-rule="evenodd"/>
<path d="M194.7 144.3 L204.8 155.9 L211 152.3 L194.7 133ZM199.2 82 L202 80.3 L206.8 80.2 L209.2 81.1 L211 83.5 L213.5 99 L223.8 140.3 L229.7 133.7 L220.4 97.6 L217.5 81 L215 76.9 L212.1 74.7 L207.5 73.3 L201.8 73.3 L198.5 74.1 L194.7 76.5 L194.7 87.3Z" fill="#ffff80" fill-rule="evenodd"/>
<path d="M213 154.2 L217.1 154.5 L219.5 152.7 L223.8 140.3 L215 150Z" fill="#ffff80" fill-rule="evenodd"/>
<path d="M209.7 150.9 L213 154.2 L215 150Z" fill="#ffc000" fill-rule="evenodd"/>
<path d="M207.3 158.6 L210.1 160.5 L213 154.2 L209.7 150.9 L201.6 152.4Z" fill="#ffff80" fill-rule="evenodd"/>
<use href="#bt"/>
</g>
<path d="M738.5 480.1 L738.5 457.2 A36.8 45.8 0 0 0 714.8 467.9 L726.7 485.5 A18.4 22.9 0 0 1 738.5 480.1 Z" fill="#ffc000"/>
<path d="M738.5 480.1 L738.5 457.2 A36.8 45.8 0 0 0 714.8 467.9 L726.7 485.5 A18.4 22.9 0 0 1 738.5 480.1 Z" fill="none" stroke="#000" stroke-width="2.3" stroke-linejoin="round"/>
<path d="M738.5 457.2 L738.5 434.3 A55.2 68.7 0 0 0 703 450.4 L714.8 467.9 A36.8 45.8 0 0 1 738.5 457.2 Z" fill="#ffff80"/>
<path d="M738.5 457.2 L738.5 434.3 A55.2 68.7 0 0 0 703 450.4 L714.8 467.9 A36.8 45.8 0 0 1 738.5 457.2 Z" fill="none" stroke="#000" stroke-width="2.3" stroke-linejoin="round"/>
<path d="M738.5 434.3 L738.5 411.4 A73.6 91.6 0 0 0 691.2 432.8 L703 450.4 A55.2 68.7 0 0 1 738.5 434.3 Z" fill="#ffffff"/>
<path d="M738.5 434.3 L738.5 411.4 A73.6 91.6 0 0 0 691.2 432.8 L703 450.4 A55.2 68.7 0 0 1 738.5 434.3 Z" fill="none" stroke="#000" stroke-width="2.3" stroke-linejoin="round"/>
<path d="M738.5 411.4 L738.5 388.5 A92 114.5 0 0 0 679.4 415.3 L691.2 432.8 A73.6 91.6 0 0 1 738.5 411.4 Z" fill="#ffffff"/>
<path d="M738.5 411.4 L738.5 388.5 A92 114.5 0 0 0 679.4 415.3 L691.2 432.8 A73.6 91.6 0 0 1 738.5 411.4 Z" fill="none" stroke="#000" stroke-width="2.3" stroke-linejoin="round"/>
<path d="M726.7 485.5 L720.8 476.7 A27.6 34.4 0 0 0 714.6 485.8 L722.6 491.6 A18.4 22.9 0 0 1 726.7 485.5 Z" fill="#ffff80"/>
<path d="M726.7 485.5 L720.8 476.7 A27.6 34.4 0 0 0 714.6 485.8 L722.6 491.6 A18.4 22.9 0 0 1 726.7 485.5 Z" fill="none" stroke="#000" stroke-width="2.3" stroke-linejoin="round"/>
<path d="M720.8 476.7 L714.8 467.9 A36.8 45.8 0 0 0 706.6 480.1 L714.6 485.8 A27.6 34.4 0 0 1 720.8 476.7 Z" fill="#ffffff"/>
<path d="M720.8 476.7 L714.8 467.9 A36.8 45.8 0 0 0 706.6 480.1 L714.6 485.8 A27.6 34.4 0 0 1 720.8 476.7 Z" fill="none" stroke="#000" stroke-width="2.3" stroke-linejoin="round"/>
<path d="M714.8 467.9 L708.9 459.1 A46 57.2 0 0 0 698.7 474.4 L706.6 480.1 A36.8 45.8 0 0 1 714.8 467.9 Z" fill="#ffffff"/>
<path d="M714.8 467.9 L708.9 459.1 A46 57.2 0 0 0 698.7 474.4 L706.6 480.1 A36.8 45.8 0 0 1 714.8 467.9 Z" fill="none" stroke="#000" stroke-width="2.3" stroke-linejoin="round"/>
<path d="M708.9 459.1 L703 450.4 A55.2 68.7 0 0 0 690.7 468.6 L698.7 474.4 A46 57.2 0 0 1 708.9 459.1 Z" fill="#ffffff"/>
<path d="M708.9 459.1 L703 450.4 A55.2 68.7 0 0 0 690.7 468.6 L698.7 474.4 A46 57.2 0 0 1 708.9 459.1 Z" fill="none" stroke="#000" stroke-width="2.3" stroke-linejoin="round"/>
<path d="M722.6 491.6 L706.6 480.1 A36.8 45.8 0 0 0 702.3 511 L720.4 507 A18.4 22.9 0 0 1 722.6 491.6 Z" fill="#f79646"/>
<path d="M722.6 491.6 L706.6 480.1 A36.8 45.8 0 0 0 702.3 511 L720.4 507 A18.4 22.9 0 0 1 722.6 491.6 Z" fill="none" stroke="#000" stroke-width="2.3" stroke-linejoin="round"/>
<path d="M706.6 480.1 L690.7 468.6 A55.2 68.7 0 0 0 684.1 514.9 L702.3 511 A36.8 45.8 0 0 1 706.6 480.1 Z" fill="#ffffff"/>
<path d="M706.6 480.1 L690.7 468.6 A55.2 68.7 0 0 0 684.1 514.9 L702.3 511 A36.8 45.8 0 0 1 706.6 480.1 Z" fill="none" stroke="#000" stroke-width="2.3" stroke-linejoin="round"/>
<path d="M690.7 468.6 L674.8 457.2 A73.6 91.6 0 0 0 666 518.9 L684.1 514.9 A55.2 68.7 0 0 1 690.7 468.6 Z" fill="#ffffff"/>
<path d="M690.7 468.6 L674.8 457.2 A73.6 91.6 0 0 0 666 518.9 L684.1 514.9 A55.2 68.7 0 0 1 690.7 468.6 Z" fill="none" stroke="#000" stroke-width="2.3" stroke-linejoin="round"/>
<path d="M674.8 457.2 L658.8 445.8 A92 114.5 0 0 0 647.9 522.9 L666 518.9 A73.6 91.6 0 0 1 674.8 457.2 Z" fill="#ffffff"/>
<path d="M674.8 457.2 L658.8 445.8 A92 114.5 0 0 0 647.9 522.9 L666 518.9 A73.6 91.6 0 0 1 674.8 457.2 Z" fill="none" stroke="#000" stroke-width="2.3" stroke-linejoin="round"/>
<path d="M720.4 507 L702.3 511 A36.8 45.8 0 0 0 714.8 538.1 L726.7 520.5 A18.4 22.9 0 0 1 720.4 507 Z" fill="#ffff80"/>
<path d="M720.4 507 L702.3 511 A36.8 45.8 0 0 0 714.8 538.1 L726.7 520.5 A18.4 22.9 0 0 1 720.4 507 Z" fill="none" stroke="#000" stroke-width="2.3" stroke-linejoin="round"/>
<path d="M702.3 511 L684.1 514.9 A55.2 68.7 0 0 0 703 555.6 L714.8 538.1 A36.8 45.8 0 0 1 702.3 511 Z" fill="#ffffff"/>
<path d="M702.3 511 L684.1 514.9 A55.2 68.7 0 0 0 703 555.6 L714.8 538.1 A36.8 45.8 0 0 1 702.3 511 Z" fill="none" stroke="#000" stroke-width="2.3" stroke-linejoin="round"/>
<path d="M684.1 514.9 L666 518.9 A73.6 91.6 0 0 0 691.2 573.2 L703 555.6 A55.2 68.7 0 0 1 684.1 514.9 Z" fill="#ffffff"/>
<path d="M684.1 514.9 L666 518.9 A73.6 91.6 0 0 0 691.2 573.2 L703 555.6 A55.2 68.7 0 0 1 684.1 514.9 Z" fill="none" stroke="#000" stroke-width="2.3" stroke-linejoin="round"/>
<path d="M666 518.9 L647.9 522.9 A92 114.5 0 0 0 679.4 590.7 L691.2 573.2 A73.6 91.6 0 0 1 666 518.9 Z" fill="#ffffff"/>
<path d="M666 518.9 L647.9 522.9 A92 114.5 0 0 0 679.4 590.7 L691.2 573.2 A73.6 91.6 0 0 1 666 518.9 Z" fill="none" stroke="#000" stroke-width="2.3" stroke-linejoin="round"/>
<path d="M726.7 520.5 L714.8 538.1 A36.8 45.8 0 0 0 738.5 548.8 L738.5 525.9 A18.4 22.9 0 0 1 726.7 520.5 Z" fill="#ffc000"/>
<path d="M726.7 520.5 L714.8 538.1 A36.8 45.8 0 0 0 738.5 548.8 L738.5 525.9 A18.4 22.9 0 0 1 726.7 520.5 Z" fill="none" stroke="#000" stroke-width="2.3" stroke-linejoin="round"/>
<path d="M714.8 538.1 L703 555.6 A55.2 68.7 0 0 0 738.5 571.7 L738.5 548.8 A36.8 45.8 0 0 1 714.8 538.1 Z" fill="#ffff80"/>
<path d="M714.8 538.1 L703 555.6 A55.2 68.7 0 0 0 738.5 571.7 L738.5 548.8 A36.8 45.8 0 0 1 714.8 538.1 Z" fill="none" stroke="#000" stroke-width="2.3" stroke-linejoin="round"/>
<path d="M703 555.6 L691.2 573.2 A73.6 91.6 0 0 0 738.5 594.6 L738.5 571.7 A55.2 68.7 0 0 1 703 555.6 Z" fill="#ffffff"/>
<path d="M703 555.6 L691.2 573.2 A73.6 91.6 0 0 0 738.5 594.6 L738.5 571.7 A55.2 68.7 0 0 1 703 555.6 Z" fill="none" stroke="#000" stroke-width="2.3" stroke-linejoin="round"/>
<path d="M691.2 573.2 L679.4 590.7 A92 114.5 0 0 0 738.5 617.5 L738.5 594.6 A73.6 91.6 0 0 1 691.2 573.2 Z" fill="#ffffff"/>
<path d="M691.2 573.2 L679.4 590.7 A92 114.5 0 0 0 738.5 617.5 L738.5 594.6 A73.6 91.6 0 0 1 691.2 573.2 Z" fill="none" stroke="#000" stroke-width="2.3" stroke-linejoin="round"/>
<path d="M738.5 480.1 A18.4 22.9 0 0 0 738.5 525.9 Z" fill="#fff" stroke="#000" stroke-width="2.3"/>
<line x1="738.8" y1="482.1" x2="738.8" y2="523.9" stroke="#fff" stroke-width="1.5"/>
<rect x="1216.6" y="388" width="279" height="229.8" fill="#000"/>
<g transform="translate(1216.6 388)">
<use href="#bb"/>
<path d="M11.5 64.3 L16.2 69.2 L18.2 69 L22.5 62.2 L20 53.8 L18.7 53.5 L12.9 55Z" fill="#f79646" fill-rule="evenodd"/>
<path d="M7.3 69.7 L11.1 73.5 L13.5 73.1 L18.8 75.8 L21.4 74.6 L23.2 73.1 L28.1 65.8 L29 62.1 L26.4 52.1 L24.1 48.9 L21.4 47.4 L18.2 47 L11 48.6 L7.9 50.8 L7.1 52ZM12.6 55.5 L13.6 54.6 L18.9 53.5 L20.4 54.4 L22.5 62.3 L17.4 69.4 L16 69.2 L11.6 64.6Z" fill="#f79646" fill-rule="evenodd"/>
<path d="M28.2 80.7 L36 70 L37.9 63.8 L37.7 58.9 L34.1 47.2 L29.9 42 L27.1 40.1 L22.4 38.3 L17.3 38.1 L7.1 40.5 L7.1 52 L9 49.8 L11 48.6 L19 47 L22.8 48 L26.1 51.3 L28.9 60.6 L28.6 64.4 L23.2 73.1 L21.4 74.6 L18.8 75.8ZM7.3 69.7 L7.1 74.1 L11.1 73.5Z" fill="#ffff80" fill-rule="evenodd"/>
<path d="M45.6 142.6 L50.3 146.4 L51.5 146.4 L52.3 145.7 L54.5 138 L52.4 130.4 L51.6 129.6 L45.4 131.6 L44.6 132.4Z" fill="#fa6a28" fill-rule="evenodd"/>
<path d="M39.7 145.2 L42.2 148.4 L49 152.7 L53.6 152.6 L57.3 149.9 L58.7 147.2 L61 138 L58.4 128.1 L56.2 124.9 L53.4 123.4 L49.5 123.1 L42.3 125.9 L39.8 127.9 L38.6 130 L38 133.1ZM44.5 132.9 L45.3 131.7 L50.6 129.6 L52.3 130.3 L54.5 138 L51.7 146.3 L50.2 146.3 L45.7 142.7Z" fill="#ffc000" fill-rule="evenodd"/>
<path d="M44 112 L42 95 L30 78 L23.4 74.7 L23.4 78.1 L28 80.3 L39.1 96.1 L40.9 111.6 L35.9 123.3 L27.7 124.9 L30.1 127.5 L38 126Z" fill="#ffc000" fill-rule="evenodd"/>
<path d="M117.2 69.2 L123 61.9 L124.1 57.6 L123.4 54.7 L121.6 52.4 L119 50.8 L116.1 50.4 L112.4 51.6 L107.1 57.6 L101.1 60.6 L101.2 77.7 L102.7 68.4 L113.9 65.4Z" fill="#f79646" fill-rule="evenodd"/>
<path d="M121 73.9 L129 63.5 L130.1 58.5 L129.6 54.3 L127.2 49.6 L123.2 46.1 L118.1 44.5 L112.8 44.9 L108.3 47.2 L103.2 52.9 L101 53.9 L101.1 60.6 L107.1 57.6 L110.9 52.9 L113.2 51.1 L116.9 50.4 L120.4 51.5 L123.4 54.7 L123.9 59.6 L122.8 62.3 L117.2 69.3Z" fill="#f79646" fill-rule="evenodd"/>
<path d="M126.1 80 L134.2 70.4 L137 64.8 L138.1 56.7 L137.4 52.5 L135.9 48.5 L133.7 44.9 L130.8 41.8 L127.4 39.3 L123.5 37.6 L119.4 36.6 L115.2 36.4 L111 37.1 L107 38.6 L101 43 L101 53.9 L103.2 52.9 L106.3 49 L109.2 46.5 L111.8 45.2 L115.7 44.4 L119.7 44.8 L123.4 46.3 L126.5 48.8 L128.7 52.1 L130.1 57.2 L129.3 62.5 L127.5 66 L121 73.9Z" fill="#ffff80" fill-rule="evenodd"/>
<path d="M142.4 159 L142.9 156.2 L141.7 144.6 L140.5 141.6 L138.6 140 L135.9 139.2 L129.3 141 L138 167.7Z" fill="#fa6a28" fill-rule="evenodd"/>
<path d="M140.2 174.6 L143 171 L148.6 159.2 L148.9 155.8 L147.5 143.3 L145.9 138.8 L142.7 135.5 L138.4 133.5 L133.6 133.4 L132.6 135.4 L127.8 136.2 L129.3 141 L134.6 139.3 L137 139.3 L139.6 140.7 L141.3 143.2 L142.8 157.3 L138 167.7Z" fill="#ffc000" fill-rule="evenodd"/>
<path d="M123 159.6 L127 168.5 L129 170.6 L131.1 171.5 L133.5 171.5 L135.6 170.6 L137.2 169 L138 167.7 L129.3 141 L125.3 142.7 L123.2 145.6Z" fill="#ffc000" fill-rule="evenodd"/>
<path d="M121.8 171.4 L125.7 175.6 L130 177.4 L135.6 177.1 L140.2 174.6 L138 167.7 L136.4 170 L133.9 171.4 L131.1 171.5 L128.5 170.3 L127 168.5 L123.2 160.7 L123 146.6 L124.8 143.1 L129.3 141 L127.8 136.2 L123 137.1 L118.9 140.9 L120.9 169.6Z" fill="#ffff80" fill-rule="evenodd"/>
<path d="M117 160.4 L117.9 163.6 L120.9 169.6 L118.9 140.9 L117.6 143.6 L116.9 146.9Z" fill="#ffff80" fill-rule="evenodd"/>
<path d="M109.1 161.5 L110.6 166.9 L114.9 175.4 L118.3 179.9 L121.8 182.6 L120.9 169.6 L117.5 162.7 L116.9 159.4 L116.9 146.9 L117.6 143.6 L118.9 140.9 L118.6 137.8 L113.4 134.9 L112.6 135.9 L114.6 138.8 L114.9 141.9 L113 145.7 L108.9 147.8Z" fill="#ffff80" fill-rule="evenodd"/>
<path d="M135 138 L140 120 L138 100 L130 80 L120.8 69 L120.8 73.7 L127.4 81.6 L135.1 100.7 L137 119.7 L132.6 135.4 L120.8 137.5 L120.8 140.5Z" fill="#ffc000" fill-rule="evenodd"/>
<path d="M194.7 133 L211 152.3 L215 150 L223.8 139.8 L213.5 99 L211.1 83.9 L209.6 81.4 L206.8 80.2 L200.7 80.8 L194.7 87.3Z" fill="#f79646" fill-rule="evenodd"/>
<path d="M194.7 144.3 L204.8 155.9 L211 152.3 L194.7 133ZM199.2 82 L202 80.3 L206.8 80.2 L209.2 81.1 L211 83.5 L213.5 99 L223.8 140.3 L229.7 133.7 L220.4 97.6 L217.5 81 L215 76.9 L212.1 74.7 L207.5 73.3 L201.8 73.3 L198.5 74.1 L194.7 76.5 L194.7 87.3Z" fill="#f79646" fill-rule="evenodd"/>
<path d="M197.7 160 L204.8 155.9 L194.7 144.3 L194.7 156.6ZM194.7 76.5 L200.7 73.4 L207.5 73.3 L213.1 75.3 L216.5 78.8 L217.9 82.2 L220.4 97.6 L229.7 133.7 L236.1 126.6 L228.2 96 L225.7 80.1 L223.3 74.6 L219.3 70 L214.2 66.8 L208.3 65.3 L203 65.2 L199.2 65.6 L194.7 67Z" fill="#ffff80" fill-rule="evenodd"/>
<path d="M213 154.2 L217.1 154.5 L219.5 152.7 L223.8 140.3 L215 150Z" fill="#ffc000" fill-rule="evenodd"/>
<path d="M210.1 160.5 L214.9 161.8 L218.4 161.4 L222.7 159.3 L225.2 156.8 L226.8 153.6 L230.5 142.3 L230.8 138.8 L229.7 133.7 L223.8 140.3 L219.2 153.1 L216.2 154.7 L213 154.2Z" fill="#ffff80" fill-rule="evenodd"/>
<path d="M209.7 150.9 L213 154.2 L215 150Z" fill="#f79646" fill-rule="evenodd"/>
<path d="M207.3 158.6 L210.1 160.5 L213 154.2 L209.7 150.9 L201.6 152.4Z" fill="#ffff80" fill-rule="evenodd"/>
<path d="M201.9 164.5 L206.7 167.8 L210.1 160.5 L207.3 158.6 L201.6 152.4 L194.7 153.6 L194.7 156.6Z" fill="#ffff80" fill-rule="evenodd"/>
<use href="#bt"/>
</g>
<path d="M1215.6 480.1 L1215.6 457.2 A36.8 45.8 0 0 0 1191.9 467.9 L1203.8 485.5 A18.4 22.9 0 0 1 1215.6 480.1 Z" fill="#f79646"/>
<path d="M1215.6 480.1 L1215.6 457.2 A36.8 45.8 0 0 0 1191.9 467.9 L1203.8 485.5 A18.4 22.9 0 0 1 1215.6 480.1 Z" fill="none" stroke="#000" stroke-width="2.3" stroke-linejoin="round"/>
<path d="M1215.6 457.2 L1215.6 434.3 A55.2 68.7 0 0 0 1180.1 450.4 L1191.9 467.9 A36.8 45.8 0 0 1 1215.6 457.2 Z" fill="#f79646"/>
<path d="M1215.6 457.2 L1215.6 434.3 A55.2 68.7 0 0 0 1180.1 450.4 L1191.9 467.9 A36.8 45.8 0 0 1 1215.6 457.2 Z" fill="none" stroke="#000" stroke-width="2.3" stroke-linejoin="round"/>
<path d="M1215.6 434.3 L1215.6 411.4 A73.6 91.6 0 0 0 1168.3 432.8 L1180.1 450.4 A55.2 68.7 0 0 1 1215.6 434.3 Z" fill="#ffff80"/>
<path d="M1215.6 434.3 L1215.6 411.4 A73.6 91.6 0 0 0 1168.3 432.8 L1180.1 450.4 A55.2 68.7 0 0 1 1215.6 434.3 Z" fill="none" stroke="#000" stroke-width="2.3" stroke-linejoin="round"/>
<path d="M1215.6 411.4 L1215.6 388.5 A92 114.5 0 0 0 1156.5 415.3 L1168.3 432.8 A73.6 91.6 0 0 1 1215.6 411.4 Z" fill="#ffffff"/>
<path d="M1215.6 411.4 L1215.6 388.5 A92 114.5 0 0 0 1156.5 415.3 L1168.3 432.8 A73.6 91.6 0 0 1 1215.6 411.4 Z" fill="none" stroke="#000" stroke-width="2.3" stroke-linejoin="round"/>
<path d="M1203.8 485.5 L1197.9 476.7 A27.6 34.4 0 0 0 1191.7 485.8 L1199.7 491.6 A18.4 22.9 0 0 1 1203.8 485.5 Z" fill="#ffc000"/>
<path d="M1203.8 485.5 L1197.9 476.7 A27.6 34.4 0 0 0 1191.7 485.8 L1199.7 491.6 A18.4 22.9 0 0 1 1203.8 485.5 Z" fill="none" stroke="#000" stroke-width="2.3" stroke-linejoin="round"/>
<path d="M1197.9 476.7 L1191.9 467.9 A36.8 45.8 0 0 0 1183.7 480.1 L1191.7 485.8 A27.6 34.4 0 0 1 1197.9 476.7 Z" fill="#ffffff"/>
<path d="M1197.9 476.7 L1191.9 467.9 A36.8 45.8 0 0 0 1183.7 480.1 L1191.7 485.8 A27.6 34.4 0 0 1 1197.9 476.7 Z" fill="none" stroke="#000" stroke-width="2.3" stroke-linejoin="round"/>
<path d="M1191.9 467.9 L1186 459.1 A46 57.2 0 0 0 1175.8 474.4 L1183.7 480.1 A36.8 45.8 0 0 1 1191.9 467.9 Z" fill="#ffffff"/>
<path d="M1191.9 467.9 L1186 459.1 A46 57.2 0 0 0 1175.8 474.4 L1183.7 480.1 A36.8 45.8 0 0 1 1191.9 467.9 Z" fill="none" stroke="#000" stroke-width="2.3" stroke-linejoin="round"/>
<path d="M1186 459.1 L1180.1 450.4 A55.2 68.7 0 0 0 1167.8 468.6 L1175.8 474.4 A46 57.2 0 0 1 1186 459.1 Z" fill="#ffffff"/>
<path d="M1186 459.1 L1180.1 450.4 A55.2 68.7 0 0 0 1167.8 468.6 L1175.8 474.4 A46 57.2 0 0 1 1186 459.1 Z" fill="none" stroke="#000" stroke-width="2.3" stroke-linejoin="round"/>
<path d="M1199.7 491.6 L1183.7 480.1 A36.8 45.8 0 0 0 1179.4 511 L1197.5 507 A18.4 22.9 0 0 1 1199.7 491.6 Z" fill="#fa6a28"/>
<path d="M1199.7 491.6 L1183.7 480.1 A36.8 45.8 0 0 0 1179.4 511 L1197.5 507 A18.4 22.9 0 0 1 1199.7 491.6 Z" fill="none" stroke="#000" stroke-width="2.3" stroke-linejoin="round"/>
<path d="M1183.7 480.1 L1167.8 468.6 A55.2 68.7 0 0 0 1161.2 514.9 L1179.4 511 A36.8 45.8 0 0 1 1183.7 480.1 Z" fill="#ffc000"/>
<path d="M1183.7 480.1 L1167.8 468.6 A55.2 68.7 0 0 0 1161.2 514.9 L1179.4 511 A36.8 45.8 0 0 1 1183.7 480.1 Z" fill="none" stroke="#000" stroke-width="2.3" stroke-linejoin="round"/>
<path d="M1167.8 468.6 L1151.9 457.2 A73.6 91.6 0 0 0 1143.1 518.9 L1161.2 514.9 A55.2 68.7 0 0 1 1167.8 468.6 Z" fill="#ffffff"/>
<path d="M1167.8 468.6 L1151.9 457.2 A73.6 91.6 0 0 0 1143.1 518.9 L1161.2 514.9 A55.2 68.7 0 0 1 1167.8 468.6 Z" fill="none" stroke="#000" stroke-width="2.3" stroke-linejoin="round"/>
<path d="M1151.9 457.2 L1135.9 445.8 A92 114.5 0 0 0 1125 522.9 L1143.1 518.9 A73.6 91.6 0 0 1 1151.9 457.2 Z" fill="#ffffff"/>
<path d="M1151.9 457.2 L1135.9 445.8 A92 114.5 0 0 0 1125 522.9 L1143.1 518.9 A73.6 91.6 0 0 1 1151.9 457.2 Z" fill="none" stroke="#000" stroke-width="2.3" stroke-linejoin="round"/>
<path d="M1197.5 507 L1179.4 511 A36.8 45.8 0 0 0 1191.9 538.1 L1203.8 520.5 A18.4 22.9 0 0 1 1197.5 507 Z" fill="#ffc000"/>
<path d="M1197.5 507 L1179.4 511 A36.8 45.8 0 0 0 1191.9 538.1 L1203.8 520.5 A18.4 22.9 0 0 1 1197.5 507 Z" fill="none" stroke="#000" stroke-width="2.3" stroke-linejoin="round"/>
<path d="M1179.4 511 L1161.2 514.9 A55.2 68.7 0 0 0 1180.1 555.6 L1191.9 538.1 A36.8 45.8 0 0 1 1179.4 511 Z" fill="#ffff80"/>
<path d="M1179.4 511 L1161.2 514.9 A55.2 68.7 0 0 0 1180.1 555.6 L1191.9 538.1 A36.8 45.8 0 0 1 1179.4 511 Z" fill="none" stroke="#000" stroke-width="2.3" stroke-linejoin="round"/>
<path d="M1161.2 514.9 L1143.1 518.9 A73.6 91.6 0 0 0 1168.3 573.2 L1180.1 555.6 A55.2 68.7 0 0 1 1161.2 514.9 Z" fill="#ffffff"/>
<path d="M1161.2 514.9 L1143.1 518.9 A73.6 91.6 0 0 0 1168.3 573.2 L1180.1 555.6 A55.2 68.7 0 0 1 1161.2 514.9 Z" fill="none" stroke="#000" stroke-width="2.3" stroke-linejoin="round"/>
<path d="M1143.1 518.9 L1125 522.9 A92 114.5 0 0 0 1156.5 590.7 L1168.3 573.2 A73.6 91.6 0 0 1 1143.1 518.9 Z" fill="#ffffff"/>
<path d="M1143.1 518.9 L1125 522.9 A92 114.5 0 0 0 1156.5 590.7 L1168.3 573.2 A73.6 91.6 0 0 1 1143.1 518.9 Z" fill="none" stroke="#000" stroke-width="2.3" stroke-linejoin="round"/>
<path d="M1203.8 520.5 L1191.9 538.1 A36.8 45.8 0 0 0 1215.6 548.8 L1215.6 525.9 A18.4 22.9 0 0 1 1203.8 520.5 Z" fill="#f79646"/>
<path d="M1203.8 520.5 L1191.9 538.1 A36.8 45.8 0 0 0 1215.6 548.8 L1215.6 525.9 A18.4 22.9 0 0 1 1203.8 520.5 Z" fill="none" stroke="#000" stroke-width="2.3" stroke-linejoin="round"/>
<path d="M1191.9 538.1 L1180.1 555.6 A55.2 68.7 0 0 0 1215.6 571.7 L1215.6 548.8 A36.8 45.8 0 0 1 1191.9 538.1 Z" fill="#ffff80"/>
<path d="M1191.9 538.1 L1180.1 555.6 A55.2 68.7 0 0 0 1215.6 571.7 L1215.6 548.8 A36.8 45.8 0 0 1 1191.9 538.1 Z" fill="none" stroke="#000" stroke-width="2.3" stroke-linejoin="round"/>
<path d="M1180.1 555.6 L1168.3 573.2 A73.6 91.6 0 0 0 1215.6 594.6 L1215.6 571.7 A55.2 68.7 0 0 1 1180.1 555.6 Z" fill="#ffff80"/>
<path d="M1180.1 555.6 L1168.3 573.2 A73.6 91.6 0 0 0 1215.6 594.6 L1215.6 571.7 A55.2 68.7 0 0 1 1180.1 555.6 Z" fill="none" stroke="#000" stroke-width="2.3" stroke-linejoin="round"/>
<path d="M1168.3 573.2 L1156.5 590.7 A92 114.5 0 0 0 1215.6 617.5 L1215.6 594.6 A73.6 91.6 0 0 1 1168.3 573.2 Z" fill="#ffffff"/>
<path d="M1168.3 573.2 L1156.5 590.7 A92 114.5 0 0 0 1215.6 617.5 L1215.6 594.6 A73.6 91.6 0 0 1 1168.3 573.2 Z" fill="none" stroke="#000" stroke-width="2.3" stroke-linejoin="round"/>
<path d="M1215.6 480.1 A18.4 22.9 0 0 0 1215.6 525.9 Z" fill="#fff" stroke="#000" stroke-width="2.3"/>
<line x1="1215.9" y1="482.1" x2="1215.9" y2="523.9" stroke="#fff" stroke-width="1.5"/>
<rect x="1690.9" y="388" width="279" height="229.8" fill="#000"/>
<g transform="translate(1690.9 388)">
<use href="#bb"/>
<path d="M11.5 64.3 L16.2 69.2 L18.2 69 L22.5 62.2 L20 53.8 L18.7 53.5 L12.9 55Z" fill="#fa6a28" fill-rule="evenodd"/>
<path d="M7.3 69.7 L11.1 73.5 L13.5 73.1 L18.8 75.8 L21.4 74.6 L23.2 73.1 L28.1 65.8 L29 62.1 L26.4 52.1 L24.1 48.9 L21.4 47.4 L18.2 47 L11 48.6 L7.9 50.8 L7.1 52ZM12.6 55.5 L13.6 54.6 L18.9 53.5 L20.4 54.4 L22.5 62.3 L17.4 69.4 L16 69.2 L11.6 64.6Z" fill="#ff0000" fill-rule="evenodd"/>
<path d="M28.2 80.7 L36 70 L37.9 63.8 L37.7 58.9 L34.1 47.2 L29.9 42 L27.1 40.1 L22.4 38.3 L17.3 38.1 L7.1 40.5 L7.1 52 L9 49.8 L11 48.6 L19 47 L22.8 48 L26.1 51.3 L28.9 60.6 L28.6 64.4 L23.2 73.1 L21.4 74.6 L18.8 75.8ZM7.3 69.7 L7.1 74.1 L11.1 73.5Z" fill="#f79646" fill-rule="evenodd"/>
<path d="M45.6 142.6 L50.3 146.4 L51.5 146.4 L52.3 145.7 L54.5 138 L52.4 130.4 L51.6 129.6 L45.4 131.6 L44.6 132.4Z" fill="#fa3200" fill-rule="evenodd"/>
<path d="M39.7 145.2 L42.2 148.4 L49 152.7 L53.6 152.6 L57.3 149.9 L58.7 147.2 L61 138 L58.4 128.1 L56.2 124.9 L53.4 123.4 L49.5 123.1 L42.3 125.9 L39.8 127.9 L38.6 130 L38 133.1ZM44.5 132.9 L45.3 131.7 L50.6 129.6 L52.3 130.3 L54.5 138 L51.7 146.3 L50.2 146.3 L45.7 142.7Z" fill="#f79646" fill-rule="evenodd"/>
<path d="M31.5 148.9 L34.3 153.2 L36.8 155.6 L42.2 159.5 L46.7 161.4 L49.9 162 L54.8 161.6 L59.4 159.8 L62.1 157.9 L65.3 154.2 L66.8 151.2 L69.3 142.7 L70 138 L69.3 133.3 L66.8 124.7 L63.2 119.2 L58.7 115.9 L56.7 116.8 L54.3 117 L47.8 114.3 L38.2 117.9 L35.9 123.3 L31.5 124.2 L30 127.3 L30.8 129.4 L30.7 131.9 L29.1 135 L30.4 145.6ZM38 132.3 L38.9 129.2 L41 126.8 L48 123.6 L52.7 123.2 L56.7 125.4 L58.7 128.8 L61 138 L58.7 147.2 L56.8 150.5 L53.6 152.6 L49.7 152.9 L46.8 151.8 L41.6 147.9 L39.2 143.7Z" fill="#ffff80" fill-rule="evenodd"/>
<path d="M38.2 117.9 L47.8 114.3 L45.8 112.2 L45.1 109.8 L44.1 88.7 L37.3 93.5 L39.1 96.1 L40.9 111.6ZM27.7 124.9 L30 127.3 L31.5 124.2ZM29.1 135 L22.4 138.7 L20.7 142.2 L20.6 159.7 L18.2 176.1 L14.7 186.9 L13.3 189.1 L11.8 190.4 L7.2 191.3 L7.5 216.4 L14.8 216.8 L24.2 215 L32.8 209.6 L43.5 204.2 L52.9 196.9 L61.4 188.5 L67.7 180 L78.5 162.7 L81.4 155 L82.4 144.9 L82.4 128.7 L80.3 116.3 L73.6 99.6 L71.5 90 L69.3 86.6 L66.5 86.1 L64.9 89.7 L63.8 101.5 L61.1 112.6 L58.7 115.9 L62 118 L65.3 121.8 L67.3 126.3 L69.7 134.9 L69.9 139.6 L69.3 142.7 L66.8 151.2 L64.4 155.5 L59.4 159.8 L54.8 161.6 L49.9 162 L43.6 160.3 L36.8 155.6 L33.2 151.9 L30.4 145.6Z" fill="#ffff80" fill-rule="evenodd"/>
<path d="M44 112 L42 95 L30 78 L23.4 74.7 L23.4 78.1 L28 80.3 L39.1 96.1 L40.9 111.6 L35.9 123.3 L27.7 124.9 L30.1 127.5 L38 126Z" fill="#ffc000" fill-rule="evenodd"/>
<path d="M40.9 111.6 L39.1 96.1 L28 80.3 L23.4 78.1 L23.4 81.4 L26 82.7 L36.2 97.2 L37.9 111.1 L33.7 120.7 L23.4 122.6 L23.4 123.4 L27.7 124.9 L35.9 123.3Z" fill="#ffc000" fill-rule="evenodd"/>
<path d="M117.2 69.2 L123 61.9 L124.1 57.6 L123.4 54.7 L121.6 52.4 L119 50.8 L116.1 50.4 L112.4 51.6 L107.1 57.6 L101.1 60.6 L101.2 77.7 L102.7 68.4 L113.9 65.4Z" fill="#fa6a28" fill-rule="evenodd"/>
<path d="M121 73.9 L129 63.5 L130.1 58.5 L129.6 54.3 L127.2 49.6 L123.2 46.1 L118.1 44.5 L112.8 44.9 L108.3 47.2 L103.2 52.9 L101 53.9 L101.1 60.6 L107.1 57.6 L110.9 52.9 L113.2 51.1 L116.9 50.4 L120.4 51.5 L123.4 54.7 L123.9 59.6 L122.8 62.3 L117.2 69.3Z" fill="#ff0000" fill-rule="evenodd"/>
<path d="M126.1 80 L134.2 70.4 L137 64.8 L138.1 56.7 L137.4 52.5 L135.9 48.5 L133.7 44.9 L130.8 41.8 L127.4 39.3 L123.5 37.6 L119.4 36.6 L115.2 36.4 L111 37.1 L107 38.6 L101 43 L101 53.9 L103.2 52.9 L106.3 49 L109.2 46.5 L111.8 45.2 L115.7 44.4 L119.7 44.8 L123.4 46.3 L126.5 48.8 L128.7 52.1 L130.1 57.2 L129.3 62.5 L127.5 66 L121 73.9Z" fill="#f79646" fill-rule="evenodd"/>
<path d="M142.4 159 L142.9 156.2 L141.7 144.6 L140.5 141.6 L138.6 140 L135.9 139.2 L129.3 141 L138 167.7Z" fill="#fa3200" fill-rule="evenodd"/>
<path d="M140.2 174.6 L143 171 L148.6 159.2 L148.9 155.8 L147.5 143.3 L145.9 138.8 L142.7 135.5 L138.4 133.5 L133.6 133.4 L132.6 135.4 L127.8 136.2 L129.3 141 L134.6 139.3 L137 139.3 L139.6 140.7 L141.3 143.2 L142.8 157.3 L138 167.7Z" fill="#f79646" fill-rule="evenodd"/>
<path d="M142.8 182.6 L148.7 177.1 L155.9 162.8 L156.9 155.4 L155.5 142.2 L152.7 134.7 L148.8 130.1 L142.1 126.2 L135.4 125.2 L133.1 133.5 L138.3 133.5 L142.6 135.4 L145.9 138.8 L147.6 143.4 L148.9 155.8 L148.6 159.3 L142.8 171.5 L140.2 174.6Z" fill="#ffff80" fill-rule="evenodd"/>
<path d="M137 119.7 L135.4 125.2 L142.1 126.2 L148.9 130.2 L153.7 136.4 L155.6 143.1 L156.9 155.4 L156.4 161 L155.1 164.7 L149.7 175.5 L146.2 180 L142.8 182.6 L145.4 190.6 L156.9 179.4 L163.1 171.2 L168.1 162.2 L173.5 141.6 L175.7 128 L174.6 116.6 L170.4 109 L159.4 76.9 L131.5 91.8 L135.1 100.7Z" fill="#ffff80" fill-rule="evenodd"/>
<path d="M123 159.6 L127 168.5 L129 170.6 L131.1 171.5 L133.5 171.5 L135.6 170.6 L137.2 169 L138 167.7 L129.3 141 L125.3 142.7 L123.2 145.6Z" fill="#fa6a28" fill-rule="evenodd"/>
<path d="M121.8 171.4 L125.7 175.6 L130 177.4 L135.6 177.1 L140.2 174.6 L138 167.7 L136.4 170 L133.9 171.4 L131.1 171.5 L128.5 170.3 L127 168.5 L123.2 160.7 L123 146.6 L124.8 143.1 L129.3 141 L127.8 136.2 L123 137.1 L118.9 140.9 L120.9 169.6Z" fill="#f79646" fill-rule="evenodd"/>
<path d="M121.8 182.6 L128.4 185.2 L132.3 185.6 L137.9 184.8 L142.8 182.6 L140.2 174.6 L137.8 176.3 L134.6 177.4 L128.9 177.1 L124 174.2 L120.9 169.6ZM118.9 140.9 L120.7 138.7 L123 137.1 L118.6 137.8Z" fill="#ffff80" fill-rule="evenodd"/>
<path d="M117 160.4 L117.9 163.6 L120.9 169.6 L118.9 140.9 L117.6 143.6 L116.9 146.9Z" fill="#ffc000" fill-rule="evenodd"/>
<path d="M109.1 161.5 L110.6 166.9 L114.9 175.4 L118.3 179.9 L121.8 182.6 L120.9 169.6 L117.5 162.7 L116.9 159.4 L116.9 146.9 L117.6 143.6 L118.9 140.9 L118.6 137.8 L113.4 134.9 L112.6 135.9 L114.6 138.8 L114.9 141.9 L113 145.7 L108.9 147.8Z" fill="#ffc000" fill-rule="evenodd"/>
<path d="M135 138 L140 120 L138 100 L130 80 L120.8 69 L120.8 73.7 L127.4 81.6 L135.1 100.7 L137 119.7 L132.6 135.4 L120.8 137.5 L120.8 140.5Z" fill="#ffc000" fill-rule="evenodd"/>
<path d="M132.6 135.4 L137 119.7 L135.1 100.7 L127.4 81.6 L120.8 73.7 L120.8 78.4 L124.8 83.1 L132.1 101.4 L133.9 119.5 L130.2 132.7 L120.8 134.4 L120.8 137.5Z" fill="#ffc000" fill-rule="evenodd"/>
<path d="M194.7 133 L211 152.3 L215 150 L223.8 139.8 L213.5 99 L211.1 83.9 L209.6 81.4 L206.8 80.2 L200.7 80.8 L194.7 87.3Z" fill="#fa6a28" fill-rule="evenodd"/>
<path d="M194.7 144.3 L204.8 155.9 L211 152.3 L194.7 133ZM199.2 82 L202 80.3 L206.8 80.2 L209.2 81.1 L211 83.5 L213.5 99 L223.8 140.3 L229.7 133.7 L220.4 97.6 L217.5 81 L215 76.9 L212.1 74.7 L207.5 73.3 L201.8 73.3 L198.5 74.1 L194.7 76.5 L194.7 87.3Z" fill="#ff0000" fill-rule="evenodd"/>
<path d="M197.7 160 L204.8 155.9 L194.7 144.3 L194.7 156.6ZM194.7 76.5 L200.7 73.4 L207.5 73.3 L213.1 75.3 L216.5 78.8 L217.9 82.2 L220.4 97.6 L229.7 133.7 L236.1 126.6 L228.2 96 L225.7 80.1 L223.3 74.6 L219.3 70 L214.2 66.8 L208.3 65.3 L203 65.2 L199.2 65.6 L194.7 67Z" fill="#f79646" fill-rule="evenodd"/>
<path d="M213 154.2 L217.1 154.5 L219.5 152.7 L223.8 140.3 L215 150Z" fill="#fa6a28" fill-rule="evenodd"/>
<path d="M210.1 160.5 L214.9 161.8 L218.4 161.4 L222.7 159.3 L225.2 156.8 L226.8 153.6 L230.5 142.3 L230.8 138.8 L229.7 133.7 L223.8 140.3 L219.2 153.1 L216.2 154.7 L213 154.2Z" fill="#f79646" fill-rule="evenodd"/>
<path d="M208.6 168.6 L216.5 169.8 L222.3 168.6 L227.5 165.7 L231.7 161.4 L234.4 156.1 L238.6 142.2 L238.5 136.4 L236.1 126.6 L229.7 133.7 L230.8 138.8 L230.5 142.3 L226.8 153.6 L225.2 156.8 L222.7 159.3 L218.4 161.4 L213.7 161.7 L210.1 160.5 L206.7 167.8Z" fill="#ffff80" fill-rule="evenodd"/>
<path d="M209.7 150.9 L213 154.2 L215 150Z" fill="#fa6a28" fill-rule="evenodd"/>
<path d="M207.3 158.6 L210.1 160.5 L213 154.2 L209.7 150.9 L201.6 152.4Z" fill="#ffc000" fill-rule="evenodd"/>
<path d="M201.9 164.5 L206.7 167.8 L210.1 160.5 L207.3 158.6 L201.6 152.4 L194.7 153.6 L194.7 156.6Z" fill="#ffc000" fill-rule="evenodd"/>
<use href="#bt"/>
</g>
<path d="M1689.9 480.1 L1689.9 457.2 A36.8 45.8 0 0 0 1666.2 467.9 L1678.1 485.5 A18.4 22.9 0 0 1 1689.9 480.1 Z" fill="#fa6a28"/>
<path d="M1689.9 480.1 L1689.9 457.2 A36.8 45.8 0 0 0 1666.2 467.9 L1678.1 485.5 A18.4 22.9 0 0 1 1689.9 480.1 Z" fill="none" stroke="#000" stroke-width="2.3" stroke-linejoin="round"/>
<path d="M1689.9 457.2 L1689.9 434.3 A55.2 68.7 0 0 0 1654.4 450.4 L1666.2 467.9 A36.8 45.8 0 0 1 1689.9 457.2 Z" fill="#ff0000"/>
<path d="M1689.9 457.2 L1689.9 434.3 A55.2 68.7 0 0 0 1654.4 450.4 L1666.2 467.9 A36.8 45.8 0 0 1 1689.9 457.2 Z" fill="none" stroke="#000" stroke-width="2.3" stroke-linejoin="round"/>
<path d="M1689.9 434.3 L1689.9 411.4 A73.6 91.6 0 0 0 1642.6 432.8 L1654.4 450.4 A55.2 68.7 0 0 1 1689.9 434.3 Z" fill="#f79646"/>
<path d="M1689.9 434.3 L1689.9 411.4 A73.6 91.6 0 0 0 1642.6 432.8 L1654.4 450.4 A55.2 68.7 0 0 1 1689.9 434.3 Z" fill="none" stroke="#000" stroke-width="2.3" stroke-linejoin="round"/>
<path d="M1689.9 411.4 L1689.9 388.5 A92 114.5 0 0 0 1630.8 415.3 L1642.6 432.8 A73.6 91.6 0 0 1 1689.9 411.4 Z" fill="#ffffff"/>
<path d="M1689.9 411.4 L1689.9 388.5 A92 114.5 0 0 0 1630.8 415.3 L1642.6 432.8 A73.6 91.6 0 0 1 1689.9 411.4 Z" fill="none" stroke="#000" stroke-width="2.3" stroke-linejoin="round"/>
<path d="M1678.1 485.5 L1672.2 476.7 A27.6 34.4 0 0 0 1666 485.8 L1674 491.6 A18.4 22.9 0 0 1 1678.1 485.5 Z" fill="#ffc000"/>
<path d="M1678.1 485.5 L1672.2 476.7 A27.6 34.4 0 0 0 1666 485.8 L1674 491.6 A18.4 22.9 0 0 1 1678.1 485.5 Z" fill="none" stroke="#000" stroke-width="2.3" stroke-linejoin="round"/>
<path d="M1672.2 476.7 L1666.2 467.9 A36.8 45.8 0 0 0 1658 480.1 L1666 485.8 A27.6 34.4 0 0 1 1672.2 476.7 Z" fill="#ffc000"/>
<path d="M1672.2 476.7 L1666.2 467.9 A36.8 45.8 0 0 0 1658 480.1 L1666 485.8 A27.6 34.4 0 0 1 1672.2 476.7 Z" fill="none" stroke="#000" stroke-width="2.3" stroke-linejoin="round"/>
<path d="M1666.2 467.9 L1660.3 459.1 A46 57.2 0 0 0 1650.1 474.4 L1658 480.1 A36.8 45.8 0 0 1 1666.2 467.9 Z" fill="#ffffff"/>
<path d="M1666.2 467.9 L1660.3 459.1 A46 57.2 0 0 0 1650.1 474.4 L1658 480.1 A36.8 45.8 0 0 1 1666.2 467.9 Z" fill="none" stroke="#000" stroke-width="2.3" stroke-linejoin="round"/>
<path d="M1660.3 459.1 L1654.4 450.4 A55.2 68.7 0 0 0 1642.1 468.6 L1650.1 474.4 A46 57.2 0 0 1 1660.3 459.1 Z" fill="#ffffff"/>
<path d="M1660.3 459.1 L1654.4 450.4 A55.2 68.7 0 0 0 1642.1 468.6 L1650.1 474.4 A46 57.2 0 0 1 1660.3 459.1 Z" fill="none" stroke="#000" stroke-width="2.3" stroke-linejoin="round"/>
<path d="M1674 491.6 L1658 480.1 A36.8 45.8 0 0 0 1653.7 511 L1671.8 507 A18.4 22.9 0 0 1 1674 491.6 Z" fill="#fa3200"/>
<path d="M1674 491.6 L1658 480.1 A36.8 45.8 0 0 0 1653.7 511 L1671.8 507 A18.4 22.9 0 0 1 1674 491.6 Z" fill="none" stroke="#000" stroke-width="2.3" stroke-linejoin="round"/>
<path d="M1658 480.1 L1642.1 468.6 A55.2 68.7 0 0 0 1635.5 514.9 L1653.7 511 A36.8 45.8 0 0 1 1658 480.1 Z" fill="#f79646"/>
<path d="M1658 480.1 L1642.1 468.6 A55.2 68.7 0 0 0 1635.5 514.9 L1653.7 511 A36.8 45.8 0 0 1 1658 480.1 Z" fill="none" stroke="#000" stroke-width="2.3" stroke-linejoin="round"/>
<path d="M1642.1 468.6 L1626.2 457.2 A73.6 91.6 0 0 0 1617.4 518.9 L1635.5 514.9 A55.2 68.7 0 0 1 1642.1 468.6 Z" fill="#ffff80"/>
<path d="M1642.1 468.6 L1626.2 457.2 A73.6 91.6 0 0 0 1617.4 518.9 L1635.5 514.9 A55.2 68.7 0 0 1 1642.1 468.6 Z" fill="none" stroke="#000" stroke-width="2.3" stroke-linejoin="round"/>
<path d="M1626.2 457.2 L1610.2 445.8 A92 114.5 0 0 0 1599.3 522.9 L1617.4 518.9 A73.6 91.6 0 0 1 1626.2 457.2 Z" fill="#ffff80"/>
<path d="M1626.2 457.2 L1610.2 445.8 A92 114.5 0 0 0 1599.3 522.9 L1617.4 518.9 A73.6 91.6 0 0 1 1626.2 457.2 Z" fill="none" stroke="#000" stroke-width="2.3" stroke-linejoin="round"/>
<path d="M1671.8 507 L1653.7 511 A36.8 45.8 0 0 0 1666.2 538.1 L1678.1 520.5 A18.4 22.9 0 0 1 1671.8 507 Z" fill="#fa6a28"/>
<path d="M1671.8 507 L1653.7 511 A36.8 45.8 0 0 0 1666.2 538.1 L1678.1 520.5 A18.4 22.9 0 0 1 1671.8 507 Z" fill="none" stroke="#000" stroke-width="2.3" stroke-linejoin="round"/>
<path d="M1653.7 511 L1635.5 514.9 A55.2 68.7 0 0 0 1654.4 555.6 L1666.2 538.1 A36.8 45.8 0 0 1 1653.7 511 Z" fill="#f79646"/>
<path d="M1653.7 511 L1635.5 514.9 A55.2 68.7 0 0 0 1654.4 555.6 L1666.2 538.1 A36.8 45.8 0 0 1 1653.7 511 Z" fill="none" stroke="#000" stroke-width="2.3" stroke-linejoin="round"/>
<path d="M1635.5 514.9 L1617.4 518.9 A73.6 91.6 0 0 0 1642.6 573.2 L1654.4 555.6 A55.2 68.7 0 0 1 1635.5 514.9 Z" fill="#ffff80"/>
<path d="M1635.5 514.9 L1617.4 518.9 A73.6 91.6 0 0 0 1642.6 573.2 L1654.4 555.6 A55.2 68.7 0 0 1 1635.5 514.9 Z" fill="none" stroke="#000" stroke-width="2.3" stroke-linejoin="round"/>
<path d="M1617.4 518.9 L1599.3 522.9 A92 114.5 0 0 0 1630.8 590.7 L1642.6 573.2 A73.6 91.6 0 0 1 1617.4 518.9 Z" fill="#ffffff"/>
<path d="M1617.4 518.9 L1599.3 522.9 A92 114.5 0 0 0 1630.8 590.7 L1642.6 573.2 A73.6 91.6 0 0 1 1617.4 518.9 Z" fill="none" stroke="#000" stroke-width="2.3" stroke-linejoin="round"/>
<path d="M1678.1 520.5 L1666.2 538.1 A36.8 45.8 0 0 0 1689.9 548.8 L1689.9 525.9 A18.4 22.9 0 0 1 1678.1 520.5 Z" fill="#fa6a28"/>
<path d="M1678.1 520.5 L1666.2 538.1 A36.8 45.8 0 0 0 1689.9 548.8 L1689.9 525.9 A18.4 22.9 0 0 1 1678.1 520.5 Z" fill="none" stroke="#000" stroke-width="2.3" stroke-linejoin="round"/>
<path d="M1666.2 538.1 L1654.4 555.6 A55.2 68.7 0 0 0 1689.9 571.7 L1689.9 548.8 A36.8 45.8 0 0 1 1666.2 538.1 Z" fill="#ffc000"/>
<path d="M1666.2 538.1 L1654.4 555.6 A55.2 68.7 0 0 0 1689.9 571.7 L1689.9 548.8 A36.8 45.8 0 0 1 1666.2 538.1 Z" fill="none" stroke="#000" stroke-width="2.3" stroke-linejoin="round"/>
<path d="M1654.4 555.6 L1642.6 573.2 A73.6 91.6 0 0 0 1689.9 594.6 L1689.9 571.7 A55.2 68.7 0 0 1 1654.4 555.6 Z" fill="#ffc000"/>
<path d="M1654.4 555.6 L1642.6 573.2 A73.6 91.6 0 0 0 1689.9 594.6 L1689.9 571.7 A55.2 68.7 0 0 1 1654.4 555.6 Z" fill="none" stroke="#000" stroke-width="2.3" stroke-linejoin="round"/>
<path d="M1642.6 573.2 L1630.8 590.7 A92 114.5 0 0 0 1689.9 617.5 L1689.9 594.6 A73.6 91.6 0 0 1 1642.6 573.2 Z" fill="#ffffff"/>
<path d="M1642.6 573.2 L1630.8 590.7 A92 114.5 0 0 0 1689.9 617.5 L1689.9 594.6 A73.6 91.6 0 0 1 1642.6 573.2 Z" fill="none" stroke="#000" stroke-width="2.3" stroke-linejoin="round"/>
<path d="M1689.9 480.1 A18.4 22.9 0 0 0 1689.9 525.9 Z" fill="#fff" stroke="#000" stroke-width="2.3"/>
<line x1="1690.2" y1="482.1" x2="1690.2" y2="523.9" stroke="#fff" stroke-width="1.5"/>
<rect x="265.9" y="672" width="279" height="229.8" fill="#000"/>
<g transform="translate(265.9 672)">
<use href="#bb"/>
<path d="M45.6 142.6 L50.3 146.4 L51.5 146.4 L52.3 145.7 L54.5 138 L52.4 130.4 L51.6 129.6 L45.4 131.6 L44.6 132.4Z" fill="#ffff80" fill-rule="evenodd"/>
<path d="M39.7 145.2 L42.2 148.4 L49 152.7 L53.6 152.6 L57.3 149.9 L58.7 147.2 L61 138 L58.4 128.1 L56.2 124.9 L53.4 123.4 L49.5 123.1 L42.3 125.9 L39.8 127.9 L38.6 130 L38 133.1ZM44.5 132.9 L45.3 131.7 L50.6 129.6 L52.3 130.3 L54.5 138 L51.7 146.3 L50.2 146.3 L45.7 142.7Z" fill="#ffff80" fill-rule="evenodd"/>
<path d="M142.4 159 L142.9 156.2 L141.7 144.6 L140.5 141.6 L138.6 140 L135.9 139.2 L129.3 141 L138 167.7Z" fill="#ffff80" fill-rule="evenodd"/>
<path d="M140.2 174.6 L143 171 L148.6 159.2 L148.9 155.8 L147.5 143.3 L145.9 138.8 L142.7 135.5 L138.4 133.5 L133.6 133.4 L132.6 135.4 L127.8 136.2 L129.3 141 L134.6 139.3 L137 139.3 L139.6 140.7 L141.3 143.2 L142.8 157.3 L138 167.7Z" fill="#ffff80" fill-rule="evenodd"/>
<use href="#bt"/>
</g>
<path d="M264.9 764.1 L264.9 741.2 A36.8 45.8 0 0 0 241.2 751.9 L253.1 769.5 A18.4 22.9 0 0 1 264.9 764.1 Z" fill="#ffffff"/>
<path d="M264.9 764.1 L264.9 741.2 A36.8 45.8 0 0 0 241.2 751.9 L253.1 769.5 A18.4 22.9 0 0 1 264.9 764.1 Z" fill="none" stroke="#000" stroke-width="2.3" stroke-linejoin="round"/>
<path d="M264.9 741.2 L264.9 718.3 A55.2 68.7 0 0 0 229.4 734.4 L241.2 751.9 A36.8 45.8 0 0 1 264.9 741.2 Z" fill="#ffffff"/>
<path d="M264.9 741.2 L264.9 718.3 A55.2 68.7 0 0 0 229.4 734.4 L241.2 751.9 A36.8 45.8 0 0 1 264.9 741.2 Z" fill="none" stroke="#000" stroke-width="2.3" stroke-linejoin="round"/>
<path d="M264.9 718.3 L264.9 695.4 A73.6 91.6 0 0 0 217.6 716.8 L229.4 734.4 A55.2 68.7 0 0 1 264.9 718.3 Z" fill="#ffffff"/>
<path d="M264.9 718.3 L264.9 695.4 A73.6 91.6 0 0 0 217.6 716.8 L229.4 734.4 A55.2 68.7 0 0 1 264.9 718.3 Z" fill="none" stroke="#000" stroke-width="2.3" stroke-linejoin="round"/>
<path d="M264.9 695.4 L264.9 672.5 A92 114.5 0 0 0 205.8 699.3 L217.6 716.8 A73.6 91.6 0 0 1 264.9 695.4 Z" fill="#ffffff"/>
<path d="M264.9 695.4 L264.9 672.5 A92 114.5 0 0 0 205.8 699.3 L217.6 716.8 A73.6 91.6 0 0 1 264.9 695.4 Z" fill="none" stroke="#000" stroke-width="2.3" stroke-linejoin="round"/>
<path d="M253.1 769.5 L247.2 760.7 A27.6 34.4 0 0 0 241 769.8 L249 775.5 A18.4 22.9 0 0 1 253.1 769.5 Z" fill="#ffffff"/>
<path d="M253.1 769.5 L247.2 760.7 A27.6 34.4 0 0 0 241 769.8 L249 775.5 A18.4 22.9 0 0 1 253.1 769.5 Z" fill="none" stroke="#000" stroke-width="2.3" stroke-linejoin="round"/>
<path d="M247.2 760.7 L241.2 751.9 A36.8 45.8 0 0 0 233 764.1 L241 769.8 A27.6 34.4 0 0 1 247.2 760.7 Z" fill="#ffffff"/>
<path d="M247.2 760.7 L241.2 751.9 A36.8 45.8 0 0 0 233 764.1 L241 769.8 A27.6 34.4 0 0 1 247.2 760.7 Z" fill="none" stroke="#000" stroke-width="2.3" stroke-linejoin="round"/>
<path d="M241.2 751.9 L235.3 743.1 A46 57.2 0 0 0 225.1 758.4 L233 764.1 A36.8 45.8 0 0 1 241.2 751.9 Z" fill="#ffffff"/>
<path d="M241.2 751.9 L235.3 743.1 A46 57.2 0 0 0 225.1 758.4 L233 764.1 A36.8 45.8 0 0 1 241.2 751.9 Z" fill="none" stroke="#000" stroke-width="2.3" stroke-linejoin="round"/>
<path d="M235.3 743.1 L229.4 734.4 A55.2 68.7 0 0 0 217.1 752.6 L225.1 758.4 A46 57.2 0 0 1 235.3 743.1 Z" fill="#ffffff"/>
<path d="M235.3 743.1 L229.4 734.4 A55.2 68.7 0 0 0 217.1 752.6 L225.1 758.4 A46 57.2 0 0 1 235.3 743.1 Z" fill="none" stroke="#000" stroke-width="2.3" stroke-linejoin="round"/>
<path d="M249 775.5 L233 764.1 A36.8 45.8 0 0 0 228.7 795 L246.8 791 A18.4 22.9 0 0 1 249 775.5 Z" fill="#ffff80"/>
<path d="M249 775.5 L233 764.1 A36.8 45.8 0 0 0 228.7 795 L246.8 791 A18.4 22.9 0 0 1 249 775.5 Z" fill="none" stroke="#000" stroke-width="2.3" stroke-linejoin="round"/>
<path d="M233 764.1 L217.1 752.6 A55.2 68.7 0 0 0 210.5 798.9 L228.7 795 A36.8 45.8 0 0 1 233 764.1 Z" fill="#ffff80"/>
<path d="M233 764.1 L217.1 752.6 A55.2 68.7 0 0 0 210.5 798.9 L228.7 795 A36.8 45.8 0 0 1 233 764.1 Z" fill="none" stroke="#000" stroke-width="2.3" stroke-linejoin="round"/>
<path d="M217.1 752.6 L201.2 741.2 A73.6 91.6 0 0 0 192.4 802.9 L210.5 798.9 A55.2 68.7 0 0 1 217.1 752.6 Z" fill="#ffffff"/>
<path d="M217.1 752.6 L201.2 741.2 A73.6 91.6 0 0 0 192.4 802.9 L210.5 798.9 A55.2 68.7 0 0 1 217.1 752.6 Z" fill="none" stroke="#000" stroke-width="2.3" stroke-linejoin="round"/>
<path d="M201.2 741.2 L185.2 729.8 A92 114.5 0 0 0 174.3 806.9 L192.4 802.9 A73.6 91.6 0 0 1 201.2 741.2 Z" fill="#ffffff"/>
<path d="M201.2 741.2 L185.2 729.8 A92 114.5 0 0 0 174.3 806.9 L192.4 802.9 A73.6 91.6 0 0 1 201.2 741.2 Z" fill="none" stroke="#000" stroke-width="2.3" stroke-linejoin="round"/>
<path d="M246.8 791 L228.7 795 A36.8 45.8 0 0 0 241.2 822.1 L253.1 804.5 A18.4 22.9 0 0 1 246.8 791 Z" fill="#ffffff"/>
<path d="M246.8 791 L228.7 795 A36.8 45.8 0 0 0 241.2 822.1 L253.1 804.5 A18.4 22.9 0 0 1 246.8 791 Z" fill="none" stroke="#000" stroke-width="2.3" stroke-linejoin="round"/>
<path d="M228.7 795 L210.5 798.9 A55.2 68.7 0 0 0 229.4 839.6 L241.2 822.1 A36.8 45.8 0 0 1 228.7 795 Z" fill="#ffffff"/>
<path d="M228.7 795 L210.5 798.9 A55.2 68.7 0 0 0 229.4 839.6 L241.2 822.1 A36.8 45.8 0 0 1 228.7 795 Z" fill="none" stroke="#000" stroke-width="2.3" stroke-linejoin="round"/>
<path d="M210.5 798.9 L192.4 802.9 A73.6 91.6 0 0 0 217.6 857.2 L229.4 839.6 A55.2 68.7 0 0 1 210.5 798.9 Z" fill="#ffffff"/>
<path d="M210.5 798.9 L192.4 802.9 A73.6 91.6 0 0 0 217.6 857.2 L229.4 839.6 A55.2 68.7 0 0 1 210.5 798.9 Z" fill="none" stroke="#000" stroke-width="2.3" stroke-linejoin="round"/>
<path d="M192.4 802.9 L174.3 806.9 A92 114.5 0 0 0 205.8 874.7 L217.6 857.2 A73.6 91.6 0 0 1 192.4 802.9 Z" fill="#ffffff"/>
<path d="M192.4 802.9 L174.3 806.9 A92 114.5 0 0 0 205.8 874.7 L217.6 857.2 A73.6 91.6 0 0 1 192.4 802.9 Z" fill="none" stroke="#000" stroke-width="2.3" stroke-linejoin="round"/>
<path d="M253.1 804.5 L241.2 822.1 A36.8 45.8 0 0 0 264.9 832.8 L264.9 809.9 A18.4 22.9 0 0 1 253.1 804.5 Z" fill="#ffffff"/>
<path d="M253.1 804.5 L241.2 822.1 A36.8 45.8 0 0 0 264.9 832.8 L264.9 809.9 A18.4 22.9 0 0 1 253.1 804.5 Z" fill="none" stroke="#000" stroke-width="2.3" stroke-linejoin="round"/>
<path d="M241.2 822.1 L229.4 839.6 A55.2 68.7 0 0 0 264.9 855.7 L264.9 832.8 A36.8 45.8 0 0 1 241.2 822.1 Z" fill="#ffffff"/>
<path d="M241.2 822.1 L229.4 839.6 A55.2 68.7 0 0 0 264.9 855.7 L264.9 832.8 A36.8 45.8 0 0 1 241.2 822.1 Z" fill="none" stroke="#000" stroke-width="2.3" stroke-linejoin="round"/>
<path d="M229.4 839.6 L217.6 857.2 A73.6 91.6 0 0 0 264.9 878.6 L264.9 855.7 A55.2 68.7 0 0 1 229.4 839.6 Z" fill="#ffffff"/>
<path d="M229.4 839.6 L217.6 857.2 A73.6 91.6 0 0 0 264.9 878.6 L264.9 855.7 A55.2 68.7 0 0 1 229.4 839.6 Z" fill="none" stroke="#000" stroke-width="2.3" stroke-linejoin="round"/>
<path d="M217.6 857.2 L205.8 874.7 A92 114.5 0 0 0 264.9 901.5 L264.9 878.6 A73.6 91.6 0 0 1 217.6 857.2 Z" fill="#ffffff"/>
<path d="M217.6 857.2 L205.8 874.7 A92 114.5 0 0 0 264.9 901.5 L264.9 878.6 A73.6 91.6 0 0 1 217.6 857.2 Z" fill="none" stroke="#000" stroke-width="2.3" stroke-linejoin="round"/>
<path d="M264.9 764.1 A18.4 22.9 0 0 0 264.9 809.9 Z" fill="#fff" stroke="#000" stroke-width="2.3"/>
<line x1="265.2" y1="766.1" x2="265.2" y2="807.9" stroke="#fff" stroke-width="1.5"/>
<rect x="739.5" y="672" width="279" height="229.8" fill="#000"/>
<g transform="translate(739.5 672)">
<use href="#bb"/>
<path d="M11.5 64.3 L16.2 69.2 L18.2 69 L22.5 62.2 L20 53.8 L18.7 53.5 L12.9 55Z" fill="#ffff80" fill-rule="evenodd"/>
<path d="M45.6 142.6 L50.3 146.4 L51.5 146.4 L52.3 145.7 L54.5 138 L52.4 130.4 L51.6 129.6 L45.4 131.6 L44.6 132.4Z" fill="#f79646" fill-rule="evenodd"/>
<path d="M39.7 145.2 L42.2 148.4 L49 152.7 L53.6 152.6 L57.3 149.9 L58.7 147.2 L61 138 L58.4 128.1 L56.2 124.9 L53.4 123.4 L49.5 123.1 L42.3 125.9 L39.8 127.9 L38.6 130 L38 133.1ZM44.5 132.9 L45.3 131.7 L50.6 129.6 L52.3 130.3 L54.5 138 L51.7 146.3 L50.2 146.3 L45.7 142.7Z" fill="#ffff80" fill-rule="evenodd"/>
<path d="M31.5 148.9 L34.3 153.2 L36.8 155.6 L42.2 159.5 L46.7 161.4 L49.9 162 L54.8 161.6 L59.4 159.8 L62.1 157.9 L65.3 154.2 L66.8 151.2 L69.3 142.7 L70 138 L69.3 133.3 L66.8 124.7 L63.2 119.2 L58.7 115.9 L56.7 116.8 L54.3 117 L47.8 114.3 L38.2 117.9 L35.9 123.3 L31.5 124.2 L30 127.3 L30.8 129.4 L30.7 131.9 L29.1 135 L30.4 145.6ZM38 132.3 L38.9 129.2 L41 126.8 L48 123.6 L52.7 123.2 L56.7 125.4 L58.7 128.8 L61 138 L58.7 147.2 L56.8 150.5 L53.6 152.6 L49.7 152.9 L46.8 151.8 L41.6 147.9 L39.2 143.7Z" fill="#ffff80" fill-rule="evenodd"/>
<path d="M38.2 117.9 L47.8 114.3 L45.8 112.2 L45.1 109.8 L44.1 88.7 L37.3 93.5 L39.1 96.1 L40.9 111.6ZM27.7 124.9 L30 127.3 L31.5 124.2ZM29.1 135 L22.4 138.7 L20.7 142.2 L20.6 159.7 L18.2 176.1 L14.7 186.9 L13.3 189.1 L11.8 190.4 L7.2 191.3 L7.5 216.4 L14.8 216.8 L24.2 215 L32.8 209.6 L43.5 204.2 L52.9 196.9 L61.4 188.5 L67.7 180 L78.5 162.7 L81.4 155 L82.4 144.9 L82.4 128.7 L80.3 116.3 L73.6 99.6 L71.5 90 L69.3 86.6 L66.5 86.1 L64.9 89.7 L63.8 101.5 L61.1 112.6 L58.7 115.9 L62 118 L65.3 121.8 L67.3 126.3 L69.7 134.9 L69.9 139.6 L69.3 142.7 L66.8 151.2 L64.4 155.5 L59.4 159.8 L54.8 161.6 L49.9 162 L43.6 160.3 L36.8 155.6 L33.2 151.9 L30.4 145.6Z" fill="#ffff80" fill-rule="evenodd"/>
<path d="M44 112 L42 95 L30 78 L23.4 74.7 L23.4 78.1 L28 80.3 L39.1 96.1 L40.9 111.6 L35.9 123.3 L27.7 124.9 L30.1 127.5 L38 126Z" fill="#ffff80" fill-rule="evenodd"/>
<path d="M117.2 69.2 L123 61.9 L124.1 57.6 L123.4 54.7 L121.6 52.4 L119 50.8 L116.1 50.4 L112.4 51.6 L107.1 57.6 L101.1 60.6 L101.2 77.7 L102.7 68.4 L113.9 65.4Z" fill="#ffff80" fill-rule="evenodd"/>
<path d="M142.4 159 L142.9 156.2 L141.7 144.6 L140.5 141.6 L138.6 140 L135.9 139.2 L129.3 141 L138 167.7Z" fill="#f79646" fill-rule="evenodd"/>
<path d="M140.2 174.6 L143 171 L148.6 159.2 L148.9 155.8 L147.5 143.3 L145.9 138.8 L142.7 135.5 L138.4 133.5 L133.6 133.4 L132.6 135.4 L127.8 136.2 L129.3 141 L134.6 139.3 L137 139.3 L139.6 140.7 L141.3 143.2 L142.8 157.3 L138 167.7Z" fill="#ffff80" fill-rule="evenodd"/>
<path d="M142.8 182.6 L148.7 177.1 L155.9 162.8 L156.9 155.4 L155.5 142.2 L152.7 134.7 L148.8 130.1 L142.1 126.2 L135.4 125.2 L133.1 133.5 L138.3 133.5 L142.6 135.4 L145.9 138.8 L147.6 143.4 L148.9 155.8 L148.6 159.3 L142.8 171.5 L140.2 174.6Z" fill="#ffff80" fill-rule="evenodd"/>
<path d="M137 119.7 L135.4 125.2 L142.1 126.2 L148.9 130.2 L153.7 136.4 L155.6 143.1 L156.9 155.4 L156.4 161 L155.1 164.7 L149.7 175.5 L146.2 180 L142.8 182.6 L145.4 190.6 L156.9 179.4 L163.1 171.2 L168.1 162.2 L173.5 141.6 L175.7 128 L174.6 116.6 L170.4 109 L159.4 76.9 L131.5 91.8 L135.1 100.7Z" fill="#ffff80" fill-rule="evenodd"/>
<path d="M123 159.6 L127 168.5 L129 170.6 L131.1 171.5 L133.5 171.5 L135.6 170.6 L137.2 169 L138 167.7 L129.3 141 L125.3 142.7 L123.2 145.6Z" fill="#ffff80" fill-rule="evenodd"/>
<path d="M117 160.4 L117.9 163.6 L120.9 169.6 L118.9 140.9 L117.6 143.6 L116.9 146.9Z" fill="#ffff80" fill-rule="evenodd"/>
<path d="M135 138 L140 120 L138 100 L130 80 L120.8 69 L120.8 73.7 L127.4 81.6 L135.1 100.7 L137 119.7 L132.6 135.4 L120.8 137.5 L120.8 140.5Z" fill="#ffff80" fill-rule="evenodd"/>
<path d="M194.7 133 L211 152.3 L215 150 L223.8 139.8 L213.5 99 L211.1 83.9 L209.6 81.4 L206.8 80.2 L200.7 80.8 L194.7 87.3Z" fill="#ffff80" fill-rule="evenodd"/>
<path d="M213 154.2 L217.1 154.5 L219.5 152.7 L223.8 140.3 L215 150Z" fill="#ffff80" fill-rule="evenodd"/>
<path d="M209.7 150.9 L213 154.2 L215 150Z" fill="#ffc000" fill-rule="evenodd"/>
<path d="M207.3 158.6 L210.1 160.5 L213 154.2 L209.7 150.9 L201.6 152.4Z" fill="#ffff80" fill-rule="evenodd"/>
<use href="#bt"/>
</g>
<path d="M738.5 764.1 L738.5 741.2 A36.8 45.8 0 0 0 714.8 751.9 L726.7 769.5 A18.4 22.9 0 0 1 738.5 764.1 Z" fill="#ffff80"/>
<path d="M738.5 764.1 L738.5 741.2 A36.8 45.8 0 0 0 714.8 751.9 L726.7 769.5 A18.4 22.9 0 0 1 738.5 764.1 Z" fill="none" stroke="#000" stroke-width="2.3" stroke-linejoin="round"/>
<path d="M738.5 741.2 L738.5 718.3 A55.2 68.7 0 0 0 703 734.4 L714.8 751.9 A36.8 45.8 0 0 1 738.5 741.2 Z" fill="#ffffff"/>
<path d="M738.5 741.2 L738.5 718.3 A55.2 68.7 0 0 0 703 734.4 L714.8 751.9 A36.8 45.8 0 0 1 738.5 741.2 Z" fill="none" stroke="#000" stroke-width="2.3" stroke-linejoin="round"/>
<path d="M738.5 718.3 L738.5 695.4 A73.6 91.6 0 0 0 691.2 716.8 L703 734.4 A55.2 68.7 0 0 1 738.5 718.3 Z" fill="#ffffff"/>
<path d="M738.5 718.3 L738.5 695.4 A73.6 91.6 0 0 0 691.2 716.8 L703 734.4 A55.2 68.7 0 0 1 738.5 718.3 Z" fill="none" stroke="#000" stroke-width="2.3" stroke-linejoin="round"/>
<path d="M738.5 695.4 L738.5 672.5 A92 114.5 0 0 0 679.4 699.3 L691.2 716.8 A73.6 91.6 0 0 1 738.5 695.4 Z" fill="#ffffff"/>
<path d="M738.5 695.4 L738.5 672.5 A92 114.5 0 0 0 679.4 699.3 L691.2 716.8 A73.6 91.6 0 0 1 738.5 695.4 Z" fill="none" stroke="#000" stroke-width="2.3" stroke-linejoin="round"/>
<path d="M726.7 769.5 L720.8 760.7 A27.6 34.4 0 0 0 714.6 769.8 L722.6 775.5 A18.4 22.9 0 0 1 726.7 769.5 Z" fill="#ffff80"/>
<path d="M726.7 769.5 L720.8 760.7 A27.6 34.4 0 0 0 714.6 769.8 L722.6 775.5 A18.4 22.9 0 0 1 726.7 769.5 Z" fill="none" stroke="#000" stroke-width="2.3" stroke-linejoin="round"/>
<path d="M720.8 760.7 L714.8 751.9 A36.8 45.8 0 0 0 706.6 764.1 L714.6 769.8 A27.6 34.4 0 0 1 720.8 760.7 Z" fill="#ffffff"/>
<path d="M720.8 760.7 L714.8 751.9 A36.8 45.8 0 0 0 706.6 764.1 L714.6 769.8 A27.6 34.4 0 0 1 720.8 760.7 Z" fill="none" stroke="#000" stroke-width="2.3" stroke-linejoin="round"/>
<path d="M714.8 751.9 L708.9 743.1 A46 57.2 0 0 0 698.7 758.4 L706.6 764.1 A36.8 45.8 0 0 1 714.8 751.9 Z" fill="#ffffff"/>
<path d="M714.8 751.9 L708.9 743.1 A46 57.2 0 0 0 698.7 758.4 L706.6 764.1 A36.8 45.8 0 0 1 714.8 751.9 Z" fill="none" stroke="#000" stroke-width="2.3" stroke-linejoin="round"/>
<path d="M708.9 743.1 L703 734.4 A55.2 68.7 0 0 0 690.7 752.6 L698.7 758.4 A46 57.2 0 0 1 708.9 743.1 Z" fill="#ffffff"/>
<path d="M708.9 743.1 L703 734.4 A55.2 68.7 0 0 0 690.7 752.6 L698.7 758.4 A46 57.2 0 0 1 708.9 743.1 Z" fill="none" stroke="#000" stroke-width="2.3" stroke-linejoin="round"/>
<path d="M722.6 775.5 L706.6 764.1 A36.8 45.8 0 0 0 702.3 795 L720.4 791 A18.4 22.9 0 0 1 722.6 775.5 Z" fill="#f79646"/>
<path d="M722.6 775.5 L706.6 764.1 A36.8 45.8 0 0 0 702.3 795 L720.4 791 A18.4 22.9 0 0 1 722.6 775.5 Z" fill="none" stroke="#000" stroke-width="2.3" stroke-linejoin="round"/>
<path d="M706.6 764.1 L690.7 752.6 A55.2 68.7 0 0 0 684.1 798.9 L702.3 795 A36.8 45.8 0 0 1 706.6 764.1 Z" fill="#ffff80"/>
<path d="M706.6 764.1 L690.7 752.6 A55.2 68.7 0 0 0 684.1 798.9 L702.3 795 A36.8 45.8 0 0 1 706.6 764.1 Z" fill="none" stroke="#000" stroke-width="2.3" stroke-linejoin="round"/>
<path d="M690.7 752.6 L674.8 741.2 A73.6 91.6 0 0 0 666 802.9 L684.1 798.9 A55.2 68.7 0 0 1 690.7 752.6 Z" fill="#ffff80"/>
<path d="M690.7 752.6 L674.8 741.2 A73.6 91.6 0 0 0 666 802.9 L684.1 798.9 A55.2 68.7 0 0 1 690.7 752.6 Z" fill="none" stroke="#000" stroke-width="2.3" stroke-linejoin="round"/>
<path d="M674.8 741.2 L658.8 729.8 A92 114.5 0 0 0 647.9 806.9 L666 802.9 A73.6 91.6 0 0 1 674.8 741.2 Z" fill="#ffff80"/>
<path d="M674.8 741.2 L658.8 729.8 A92 114.5 0 0 0 647.9 806.9 L666 802.9 A73.6 91.6 0 0 1 674.8 741.2 Z" fill="none" stroke="#000" stroke-width="2.3" stroke-linejoin="round"/>
<path d="M720.4 791 L702.3 795 A36.8 45.8 0 0 0 714.8 822.1 L726.7 804.5 A18.4 22.9 0 0 1 720.4 791 Z" fill="#ffff80"/>
<path d="M720.4 791 L702.3 795 A36.8 45.8 0 0 0 714.8 822.1 L726.7 804.5 A18.4 22.9 0 0 1 720.4 791 Z" fill="none" stroke="#000" stroke-width="2.3" stroke-linejoin="round"/>
<path d="M702.3 795 L684.1 798.9 A55.2 68.7 0 0 0 703 839.6 L714.8 822.1 A36.8 45.8 0 0 1 702.3 795 Z" fill="#ffffff"/>
<path d="M702.3 795 L684.1 798.9 A55.2 68.7 0 0 0 703 839.6 L714.8 822.1 A36.8 45.8 0 0 1 702.3 795 Z" fill="none" stroke="#000" stroke-width="2.3" stroke-linejoin="round"/>
<path d="M684.1 798.9 L666 802.9 A73.6 91.6 0 0 0 691.2 857.2 L703 839.6 A55.2 68.7 0 0 1 684.1 798.9 Z" fill="#ffffff"/>
<path d="M684.1 798.9 L666 802.9 A73.6 91.6 0 0 0 691.2 857.2 L703 839.6 A55.2 68.7 0 0 1 684.1 798.9 Z" fill="none" stroke="#000" stroke-width="2.3" stroke-linejoin="round"/>
<path d="M666 802.9 L647.9 806.9 A92 114.5 0 0 0 679.4 874.7 L691.2 857.2 A73.6 91.6 0 0 1 666 802.9 Z" fill="#ffffff"/>
<path d="M666 802.9 L647.9 806.9 A92 114.5 0 0 0 679.4 874.7 L691.2 857.2 A73.6 91.6 0 0 1 666 802.9 Z" fill="none" stroke="#000" stroke-width="2.3" stroke-linejoin="round"/>
<path d="M726.7 804.5 L714.8 822.1 A36.8 45.8 0 0 0 738.5 832.8 L738.5 809.9 A18.4 22.9 0 0 1 726.7 804.5 Z" fill="#ffc000"/>
<path d="M726.7 804.5 L714.8 822.1 A36.8 45.8 0 0 0 738.5 832.8 L738.5 809.9 A18.4 22.9 0 0 1 726.7 804.5 Z" fill="none" stroke="#000" stroke-width="2.3" stroke-linejoin="round"/>
<path d="M714.8 822.1 L703 839.6 A55.2 68.7 0 0 0 738.5 855.7 L738.5 832.8 A36.8 45.8 0 0 1 714.8 822.1 Z" fill="#ffff80"/>
<path d="M714.8 822.1 L703 839.6 A55.2 68.7 0 0 0 738.5 855.7 L738.5 832.8 A36.8 45.8 0 0 1 714.8 822.1 Z" fill="none" stroke="#000" stroke-width="2.3" stroke-linejoin="round"/>
<path d="M703 839.6 L691.2 857.2 A73.6 91.6 0 0 0 738.5 878.6 L738.5 855.7 A55.2 68.7 0 0 1 703 839.6 Z" fill="#ffffff"/>
<path d="M703 839.6 L691.2 857.2 A73.6 91.6 0 0 0 738.5 878.6 L738.5 855.7 A55.2 68.7 0 0 1 703 839.6 Z" fill="none" stroke="#000" stroke-width="2.3" stroke-linejoin="round"/>
<path d="M691.2 857.2 L679.4 874.7 A92 114.5 0 0 0 738.5 901.5 L738.5 878.6 A73.6 91.6 0 0 1 691.2 857.2 Z" fill="#ffffff"/>
<path d="M691.2 857.2 L679.4 874.7 A92 114.5 0 0 0 738.5 901.5 L738.5 878.6 A73.6 91.6 0 0 1 691.2 857.2 Z" fill="none" stroke="#000" stroke-width="2.3" stroke-linejoin="round"/>
<path d="M738.5 764.1 A18.4 22.9 0 0 0 738.5 809.9 Z" fill="#fff" stroke="#000" stroke-width="2.3"/>
<line x1="738.8" y1="766.1" x2="738.8" y2="807.9" stroke="#fff" stroke-width="1.5"/>
<rect x="1216.6" y="672" width="279" height="229.8" fill="#000"/>
<g transform="translate(1216.6 672)">
<use href="#bb"/>
<path d="M11.5 64.3 L16.2 69.2 L18.2 69 L22.5 62.2 L20 53.8 L18.7 53.5 L12.9 55Z" fill="#ffc000" fill-rule="evenodd"/>
<path d="M7.3 69.7 L11.1 73.5 L13.5 73.1 L18.8 75.8 L21.4 74.6 L23.2 73.1 L28.1 65.8 L29 62.1 L26.4 52.1 L24.1 48.9 L21.4 47.4 L18.2 47 L11 48.6 L7.9 50.8 L7.1 52ZM12.6 55.5 L13.6 54.6 L18.9 53.5 L20.4 54.4 L22.5 62.3 L17.4 69.4 L16 69.2 L11.6 64.6Z" fill="#ffff80" fill-rule="evenodd"/>
<path d="M45.6 142.6 L50.3 146.4 L51.5 146.4 L52.3 145.7 L54.5 138 L52.4 130.4 L51.6 129.6 L45.4 131.6 L44.6 132.4Z" fill="#fa6a28" fill-rule="evenodd"/>
<path d="M39.7 145.2 L42.2 148.4 L49 152.7 L53.6 152.6 L57.3 149.9 L58.7 147.2 L61 138 L58.4 128.1 L56.2 124.9 L53.4 123.4 L49.5 123.1 L42.3 125.9 L39.8 127.9 L38.6 130 L38 133.1ZM44.5 132.9 L45.3 131.7 L50.6 129.6 L52.3 130.3 L54.5 138 L51.7 146.3 L50.2 146.3 L45.7 142.7Z" fill="#f79646" fill-rule="evenodd"/>
<path d="M31.5 148.9 L34.3 153.2 L36.8 155.6 L42.2 159.5 L46.7 161.4 L49.9 162 L54.8 161.6 L59.4 159.8 L62.1 157.9 L65.3 154.2 L66.8 151.2 L69.3 142.7 L70 138 L69.3 133.3 L66.8 124.7 L63.2 119.2 L58.7 115.9 L56.7 116.8 L54.3 117 L47.8 114.3 L38.2 117.9 L35.9 123.3 L31.5 124.2 L30 127.3 L30.8 129.4 L30.7 131.9 L29.1 135 L30.4 145.6ZM38 132.3 L38.9 129.2 L41 126.8 L48 123.6 L52.7 123.2 L56.7 125.4 L58.7 128.8 L61 138 L58.7 147.2 L56.8 150.5 L53.6 152.6 L49.7 152.9 L46.8 151.8 L41.6 147.9 L39.2 143.7Z" fill="#ffc000" fill-rule="evenodd"/>
<path d="M38.2 117.9 L47.8 114.3 L45.8 112.2 L45.1 109.8 L44.1 88.7 L37.3 93.5 L39.1 96.1 L40.9 111.6ZM27.7 124.9 L30 127.3 L31.5 124.2ZM29.1 135 L22.4 138.7 L20.7 142.2 L20.6 159.7 L18.2 176.1 L14.7 186.9 L13.3 189.1 L11.8 190.4 L7.2 191.3 L7.5 216.4 L14.8 216.8 L24.2 215 L32.8 209.6 L43.5 204.2 L52.9 196.9 L61.4 188.5 L67.7 180 L78.5 162.7 L81.4 155 L82.4 144.9 L82.4 128.7 L80.3 116.3 L73.6 99.6 L71.5 90 L69.3 86.6 L66.5 86.1 L64.9 89.7 L63.8 101.5 L61.1 112.6 L58.7 115.9 L62 118 L65.3 121.8 L67.3 126.3 L69.7 134.9 L69.9 139.6 L69.3 142.7 L66.8 151.2 L64.4 155.5 L59.4 159.8 L54.8 161.6 L49.9 162 L43.6 160.3 L36.8 155.6 L33.2 151.9 L30.4 145.6Z" fill="#ffc000" fill-rule="evenodd"/>
<path d="M44 112 L42 95 L30 78 L23.4 74.7 L23.4 78.1 L28 80.3 L39.1 96.1 L40.9 111.6 L35.9 123.3 L27.7 124.9 L30.1 127.5 L38 126Z" fill="#ffff80" fill-rule="evenodd"/>
<path d="M117.2 69.2 L123 61.9 L124.1 57.6 L123.4 54.7 L121.6 52.4 L119 50.8 L116.1 50.4 L112.4 51.6 L107.1 57.6 L101.1 60.6 L101.2 77.7 L102.7 68.4 L113.9 65.4Z" fill="#ffc000" fill-rule="evenodd"/>
<path d="M121 73.9 L129 63.5 L130.1 58.5 L129.6 54.3 L127.2 49.6 L123.2 46.1 L118.1 44.5 L112.8 44.9 L108.3 47.2 L103.2 52.9 L101 53.9 L101.1 60.6 L107.1 57.6 L110.9 52.9 L113.2 51.1 L116.9 50.4 L120.4 51.5 L123.4 54.7 L123.9 59.6 L122.8 62.3 L117.2 69.3Z" fill="#ffff80" fill-rule="evenodd"/>
<path d="M142.4 159 L142.9 156.2 L141.7 144.6 L140.5 141.6 L138.6 140 L135.9 139.2 L129.3 141 L138 167.7Z" fill="#fa6a28" fill-rule="evenodd"/>
<path d="M140.2 174.6 L143 171 L148.6 159.2 L148.9 155.8 L147.5 143.3 L145.9 138.8 L142.7 135.5 L138.4 133.5 L133.6 133.4 L132.6 135.4 L127.8 136.2 L129.3 141 L134.6 139.3 L137 139.3 L139.6 140.7 L141.3 143.2 L142.8 157.3 L138 167.7Z" fill="#f79646" fill-rule="evenodd"/>
<path d="M142.8 182.6 L148.7 177.1 L155.9 162.8 L156.9 155.4 L155.5 142.2 L152.7 134.7 L148.8 130.1 L142.1 126.2 L135.4 125.2 L133.1 133.5 L138.3 133.5 L142.6 135.4 L145.9 138.8 L147.6 143.4 L148.9 155.8 L148.6 159.3 L142.8 171.5 L140.2 174.6Z" fill="#ffc000" fill-rule="evenodd"/>
<path d="M137 119.7 L135.4 125.2 L142.1 126.2 L148.9 130.2 L153.7 136.4 L155.6 143.1 L156.9 155.4 L156.4 161 L155.1 164.7 L149.7 175.5 L146.2 180 L142.8 182.6 L145.4 190.6 L156.9 179.4 L163.1 171.2 L168.1 162.2 L173.5 141.6 L175.7 128 L174.6 116.6 L170.4 109 L159.4 76.9 L131.5 91.8 L135.1 100.7Z" fill="#ffc000" fill-rule="evenodd"/>
<path d="M123 159.6 L127 168.5 L129 170.6 L131.1 171.5 L133.5 171.5 L135.6 170.6 L137.2 169 L138 167.7 L129.3 141 L125.3 142.7 L123.2 145.6Z" fill="#ffc000" fill-rule="evenodd"/>
<path d="M117 160.4 L117.9 163.6 L120.9 169.6 L118.9 140.9 L117.6 143.6 L116.9 146.9Z" fill="#ffff80" fill-rule="evenodd"/>
<path d="M109.1 161.5 L110.6 166.9 L114.9 175.4 L118.3 179.9 L121.8 182.6 L120.9 169.6 L117.5 162.7 L116.9 159.4 L116.9 146.9 L117.6 143.6 L118.9 140.9 L118.6 137.8 L113.4 134.9 L112.6 135.9 L114.6 138.8 L114.9 141.9 L113 145.7 L108.9 147.8Z" fill="#ffff80" fill-rule="evenodd"/>
<path d="M121.8 182.6 L115.9 177 L110 165.2 L108.9 159.8 L108.9 147.8 L101.5 150.5 L101.7 213.5 L108.7 213.5 L118.3 210.6 L123.5 207.5ZM112.6 135.9 L113.4 134.9 L110.2 133.2ZM103.3 125.3 L101.5 118.6 L101.5 123.3Z" fill="#ffff80" fill-rule="evenodd"/>
<path d="M135 138 L140 120 L138 100 L130 80 L120.8 69 L120.8 73.7 L127.4 81.6 L135.1 100.7 L137 119.7 L132.6 135.4 L120.8 137.5 L120.8 140.5Z" fill="#ffff80" fill-rule="evenodd"/>
<path d="M194.7 133 L211 152.3 L215 150 L223.8 139.8 L213.5 99 L211.1 83.9 L209.6 81.4 L206.8 80.2 L200.7 80.8 L194.7 87.3Z" fill="#ffc000" fill-rule="evenodd"/>
<path d="M194.7 144.3 L204.8 155.9 L211 152.3 L194.7 133ZM199.2 82 L202 80.3 L206.8 80.2 L209.2 81.1 L211 83.5 L213.5 99 L223.8 140.3 L229.7 133.7 L220.4 97.6 L217.5 81 L215 76.9 L212.1 74.7 L207.5 73.3 L201.8 73.3 L198.5 74.1 L194.7 76.5 L194.7 87.3Z" fill="#ffff80" fill-rule="evenodd"/>
<path d="M213 154.2 L217.1 154.5 L219.5 152.7 L223.8 140.3 L215 150Z" fill="#ffc000" fill-rule="evenodd"/>
<path d="M209.7 150.9 L213 154.2 L215 150Z" fill="#f79646" fill-rule="evenodd"/>
<path d="M207.3 158.6 L210.1 160.5 L213 154.2 L209.7 150.9 L201.6 152.4Z" fill="#ffff80" fill-rule="evenodd"/>
<path d="M201.9 164.5 L206.7 167.8 L210.1 160.5 L207.3 158.6 L201.6 152.4 L194.7 153.6 L194.7 156.6Z" fill="#ffff80" fill-rule="evenodd"/>
<path d="M203.4 165.8 L194.7 156.6 L194.7 193.5 L206.7 167.8Z" fill="#ffff80" fill-rule="evenodd"/>
<use href="#bt"/>
</g>
<path d="M1215.6 764.1 L1215.6 741.2 A36.8 45.8 0 0 0 1191.9 751.9 L1203.8 769.5 A18.4 22.9 0 0 1 1215.6 764.1 Z" fill="#ffc000"/>
<path d="M1215.6 764.1 L1215.6 741.2 A36.8 45.8 0 0 0 1191.9 751.9 L1203.8 769.5 A18.4 22.9 0 0 1 1215.6 764.1 Z" fill="none" stroke="#000" stroke-width="2.3" stroke-linejoin="round"/>
<path d="M1215.6 741.2 L1215.6 718.3 A55.2 68.7 0 0 0 1180.1 734.4 L1191.9 751.9 A36.8 45.8 0 0 1 1215.6 741.2 Z" fill="#ffff80"/>
<path d="M1215.6 741.2 L1215.6 718.3 A55.2 68.7 0 0 0 1180.1 734.4 L1191.9 751.9 A36.8 45.8 0 0 1 1215.6 741.2 Z" fill="none" stroke="#000" stroke-width="2.3" stroke-linejoin="round"/>
<path d="M1215.6 718.3 L1215.6 695.4 A73.6 91.6 0 0 0 1168.3 716.8 L1180.1 734.4 A55.2 68.7 0 0 1 1215.6 718.3 Z" fill="#ffffff"/>
<path d="M1215.6 718.3 L1215.6 695.4 A73.6 91.6 0 0 0 1168.3 716.8 L1180.1 734.4 A55.2 68.7 0 0 1 1215.6 718.3 Z" fill="none" stroke="#000" stroke-width="2.3" stroke-linejoin="round"/>
<path d="M1215.6 695.4 L1215.6 672.5 A92 114.5 0 0 0 1156.5 699.3 L1168.3 716.8 A73.6 91.6 0 0 1 1215.6 695.4 Z" fill="#ffffff"/>
<path d="M1215.6 695.4 L1215.6 672.5 A92 114.5 0 0 0 1156.5 699.3 L1168.3 716.8 A73.6 91.6 0 0 1 1215.6 695.4 Z" fill="none" stroke="#000" stroke-width="2.3" stroke-linejoin="round"/>
<path d="M1203.8 769.5 L1197.9 760.7 A27.6 34.4 0 0 0 1191.7 769.8 L1199.7 775.5 A18.4 22.9 0 0 1 1203.8 769.5 Z" fill="#ffff80"/>
<path d="M1203.8 769.5 L1197.9 760.7 A27.6 34.4 0 0 0 1191.7 769.8 L1199.7 775.5 A18.4 22.9 0 0 1 1203.8 769.5 Z" fill="none" stroke="#000" stroke-width="2.3" stroke-linejoin="round"/>
<path d="M1197.9 760.7 L1191.9 751.9 A36.8 45.8 0 0 0 1183.7 764.1 L1191.7 769.8 A27.6 34.4 0 0 1 1197.9 760.7 Z" fill="#ffffff"/>
<path d="M1197.9 760.7 L1191.9 751.9 A36.8 45.8 0 0 0 1183.7 764.1 L1191.7 769.8 A27.6 34.4 0 0 1 1197.9 760.7 Z" fill="none" stroke="#000" stroke-width="2.3" stroke-linejoin="round"/>
<path d="M1191.9 751.9 L1186 743.1 A46 57.2 0 0 0 1175.8 758.4 L1183.7 764.1 A36.8 45.8 0 0 1 1191.9 751.9 Z" fill="#ffffff"/>
<path d="M1191.9 751.9 L1186 743.1 A46 57.2 0 0 0 1175.8 758.4 L1183.7 764.1 A36.8 45.8 0 0 1 1191.9 751.9 Z" fill="none" stroke="#000" stroke-width="2.3" stroke-linejoin="round"/>
<path d="M1186 743.1 L1180.1 734.4 A55.2 68.7 0 0 0 1167.8 752.6 L1175.8 758.4 A46 57.2 0 0 1 1186 743.1 Z" fill="#ffffff"/>
<path d="M1186 743.1 L1180.1 734.4 A55.2 68.7 0 0 0 1167.8 752.6 L1175.8 758.4 A46 57.2 0 0 1 1186 743.1 Z" fill="none" stroke="#000" stroke-width="2.3" stroke-linejoin="round"/>
<path d="M1199.7 775.5 L1183.7 764.1 A36.8 45.8 0 0 0 1179.4 795 L1197.5 791 A18.4 22.9 0 0 1 1199.7 775.5 Z" fill="#fa6a28"/>
<path d="M1199.7 775.5 L1183.7 764.1 A36.8 45.8 0 0 0 1179.4 795 L1197.5 791 A18.4 22.9 0 0 1 1199.7 775.5 Z" fill="none" stroke="#000" stroke-width="2.3" stroke-linejoin="round"/>
<path d="M1183.7 764.1 L1167.8 752.6 A55.2 68.7 0 0 0 1161.2 798.9 L1179.4 795 A36.8 45.8 0 0 1 1183.7 764.1 Z" fill="#f79646"/>
<path d="M1183.7 764.1 L1167.8 752.6 A55.2 68.7 0 0 0 1161.2 798.9 L1179.4 795 A36.8 45.8 0 0 1 1183.7 764.1 Z" fill="none" stroke="#000" stroke-width="2.3" stroke-linejoin="round"/>
<path d="M1167.8 752.6 L1151.9 741.2 A73.6 91.6 0 0 0 1143.1 802.9 L1161.2 798.9 A55.2 68.7 0 0 1 1167.8 752.6 Z" fill="#ffc000"/>
<path d="M1167.8 752.6 L1151.9 741.2 A73.6 91.6 0 0 0 1143.1 802.9 L1161.2 798.9 A55.2 68.7 0 0 1 1167.8 752.6 Z" fill="none" stroke="#000" stroke-width="2.3" stroke-linejoin="round"/>
<path d="M1151.9 741.2 L1135.9 729.8 A92 114.5 0 0 0 1125 806.9 L1143.1 802.9 A73.6 91.6 0 0 1 1151.9 741.2 Z" fill="#ffc000"/>
<path d="M1151.9 741.2 L1135.9 729.8 A92 114.5 0 0 0 1125 806.9 L1143.1 802.9 A73.6 91.6 0 0 1 1151.9 741.2 Z" fill="none" stroke="#000" stroke-width="2.3" stroke-linejoin="round"/>
<path d="M1197.5 791 L1179.4 795 A36.8 45.8 0 0 0 1191.9 822.1 L1203.8 804.5 A18.4 22.9 0 0 1 1197.5 791 Z" fill="#ffc000"/>
<path d="M1197.5 791 L1179.4 795 A36.8 45.8 0 0 0 1191.9 822.1 L1203.8 804.5 A18.4 22.9 0 0 1 1197.5 791 Z" fill="none" stroke="#000" stroke-width="2.3" stroke-linejoin="round"/>
<path d="M1179.4 795 L1161.2 798.9 A55.2 68.7 0 0 0 1180.1 839.6 L1191.9 822.1 A36.8 45.8 0 0 1 1179.4 795 Z" fill="#ffffff"/>
<path d="M1179.4 795 L1161.2 798.9 A55.2 68.7 0 0 0 1180.1 839.6 L1191.9 822.1 A36.8 45.8 0 0 1 1179.4 795 Z" fill="none" stroke="#000" stroke-width="2.3" stroke-linejoin="round"/>
<path d="M1161.2 798.9 L1143.1 802.9 A73.6 91.6 0 0 0 1168.3 857.2 L1180.1 839.6 A55.2 68.7 0 0 1 1161.2 798.9 Z" fill="#ffffff"/>
<path d="M1161.2 798.9 L1143.1 802.9 A73.6 91.6 0 0 0 1168.3 857.2 L1180.1 839.6 A55.2 68.7 0 0 1 1161.2 798.9 Z" fill="none" stroke="#000" stroke-width="2.3" stroke-linejoin="round"/>
<path d="M1143.1 802.9 L1125 806.9 A92 114.5 0 0 0 1156.5 874.7 L1168.3 857.2 A73.6 91.6 0 0 1 1143.1 802.9 Z" fill="#ffffff"/>
<path d="M1143.1 802.9 L1125 806.9 A92 114.5 0 0 0 1156.5 874.7 L1168.3 857.2 A73.6 91.6 0 0 1 1143.1 802.9 Z" fill="none" stroke="#000" stroke-width="2.3" stroke-linejoin="round"/>
<path d="M1203.8 804.5 L1191.9 822.1 A36.8 45.8 0 0 0 1215.6 832.8 L1215.6 809.9 A18.4 22.9 0 0 1 1203.8 804.5 Z" fill="#f79646"/>
<path d="M1203.8 804.5 L1191.9 822.1 A36.8 45.8 0 0 0 1215.6 832.8 L1215.6 809.9 A18.4 22.9 0 0 1 1203.8 804.5 Z" fill="none" stroke="#000" stroke-width="2.3" stroke-linejoin="round"/>
<path d="M1191.9 822.1 L1180.1 839.6 A55.2 68.7 0 0 0 1215.6 855.7 L1215.6 832.8 A36.8 45.8 0 0 1 1191.9 822.1 Z" fill="#ffff80"/>
<path d="M1191.9 822.1 L1180.1 839.6 A55.2 68.7 0 0 0 1215.6 855.7 L1215.6 832.8 A36.8 45.8 0 0 1 1191.9 822.1 Z" fill="none" stroke="#000" stroke-width="2.3" stroke-linejoin="round"/>
<path d="M1180.1 839.6 L1168.3 857.2 A73.6 91.6 0 0 0 1215.6 878.6 L1215.6 855.7 A55.2 68.7 0 0 1 1180.1 839.6 Z" fill="#ffff80"/>
<path d="M1180.1 839.6 L1168.3 857.2 A73.6 91.6 0 0 0 1215.6 878.6 L1215.6 855.7 A55.2 68.7 0 0 1 1180.1 839.6 Z" fill="none" stroke="#000" stroke-width="2.3" stroke-linejoin="round"/>
<path d="M1168.3 857.2 L1156.5 874.7 A92 114.5 0 0 0 1215.6 901.5 L1215.6 878.6 A73.6 91.6 0 0 1 1168.3 857.2 Z" fill="#ffff80"/>
<path d="M1168.3 857.2 L1156.5 874.7 A92 114.5 0 0 0 1215.6 901.5 L1215.6 878.6 A73.6 91.6 0 0 1 1168.3 857.2 Z" fill="none" stroke="#000" stroke-width="2.3" stroke-linejoin="round"/>
<path d="M1215.6 764.1 A18.4 22.9 0 0 0 1215.6 809.9 Z" fill="#fff" stroke="#000" stroke-width="2.3"/>
<line x1="1215.9" y1="766.1" x2="1215.9" y2="807.9" stroke="#fff" stroke-width="1.5"/>
<rect x="1690.9" y="672" width="279" height="229.8" fill="#000"/>
<g transform="translate(1690.9 672)">
<use href="#bb"/>
<path d="M11.5 64.3 L16.2 69.2 L18.2 69 L22.5 62.2 L20 53.8 L18.7 53.5 L12.9 55Z" fill="#f79646" fill-rule="evenodd"/>
<path d="M7.3 69.7 L11.1 73.5 L13.5 73.1 L18.8 75.8 L21.4 74.6 L23.2 73.1 L28.1 65.8 L29 62.1 L26.4 52.1 L24.1 48.9 L21.4 47.4 L18.2 47 L11 48.6 L7.9 50.8 L7.1 52ZM12.6 55.5 L13.6 54.6 L18.9 53.5 L20.4 54.4 L22.5 62.3 L17.4 69.4 L16 69.2 L11.6 64.6Z" fill="#fa6a28" fill-rule="evenodd"/>
<path d="M28.2 80.7 L36 70 L37.9 63.8 L37.7 58.9 L34.1 47.2 L29.9 42 L27.1 40.1 L22.4 38.3 L17.3 38.1 L7.1 40.5 L7.1 52 L9 49.8 L11 48.6 L19 47 L22.8 48 L26.1 51.3 L28.9 60.6 L28.6 64.4 L23.2 73.1 L21.4 74.6 L18.8 75.8ZM7.3 69.7 L7.1 74.1 L11.1 73.5Z" fill="#ffff80" fill-rule="evenodd"/>
<path d="M45.6 142.6 L50.3 146.4 L51.5 146.4 L52.3 145.7 L54.5 138 L52.4 130.4 L51.6 129.6 L45.4 131.6 L44.6 132.4Z" fill="#fa3200" fill-rule="evenodd"/>
<path d="M39.7 145.2 L42.2 148.4 L49 152.7 L53.6 152.6 L57.3 149.9 L58.7 147.2 L61 138 L58.4 128.1 L56.2 124.9 L53.4 123.4 L49.5 123.1 L42.3 125.9 L39.8 127.9 L38.6 130 L38 133.1ZM44.5 132.9 L45.3 131.7 L50.6 129.6 L52.3 130.3 L54.5 138 L51.7 146.3 L50.2 146.3 L45.7 142.7Z" fill="#fa3200" fill-rule="evenodd"/>
<path d="M31.5 148.9 L34.3 153.2 L36.8 155.6 L42.2 159.5 L46.7 161.4 L49.9 162 L54.8 161.6 L59.4 159.8 L62.1 157.9 L65.3 154.2 L66.8 151.2 L69.3 142.7 L70 138 L69.3 133.3 L66.8 124.7 L63.2 119.2 L58.7 115.9 L56.7 116.8 L54.3 117 L47.8 114.3 L38.2 117.9 L35.9 123.3 L31.5 124.2 L30 127.3 L30.8 129.4 L30.7 131.9 L29.1 135 L30.4 145.6ZM38 132.3 L38.9 129.2 L41 126.8 L48 123.6 L52.7 123.2 L56.7 125.4 L58.7 128.8 L61 138 L58.7 147.2 L56.8 150.5 L53.6 152.6 L49.7 152.9 L46.8 151.8 L41.6 147.9 L39.2 143.7Z" fill="#fa3200" fill-rule="evenodd"/>
<path d="M38.2 117.9 L47.8 114.3 L45.8 112.2 L45.1 109.8 L44.1 88.7 L37.3 93.5 L39.1 96.1 L40.9 111.6ZM27.7 124.9 L30 127.3 L31.5 124.2ZM29.1 135 L22.4 138.7 L20.7 142.2 L20.6 159.7 L18.2 176.1 L14.7 186.9 L13.3 189.1 L11.8 190.4 L7.2 191.3 L7.5 216.4 L14.8 216.8 L24.2 215 L32.8 209.6 L43.5 204.2 L52.9 196.9 L61.4 188.5 L67.7 180 L78.5 162.7 L81.4 155 L82.4 144.9 L82.4 128.7 L80.3 116.3 L73.6 99.6 L71.5 90 L69.3 86.6 L66.5 86.1 L64.9 89.7 L63.8 101.5 L61.1 112.6 L58.7 115.9 L62 118 L65.3 121.8 L67.3 126.3 L69.7 134.9 L69.9 139.6 L69.3 142.7 L66.8 151.2 L64.4 155.5 L59.4 159.8 L54.8 161.6 L49.9 162 L43.6 160.3 L36.8 155.6 L33.2 151.9 L30.4 145.6Z" fill="#fa6a28" fill-rule="evenodd"/>
<path d="M44 112 L42 95 L30 78 L23.4 74.7 L23.4 78.1 L28 80.3 L39.1 96.1 L40.9 111.6 L35.9 123.3 L27.7 124.9 L30.1 127.5 L38 126Z" fill="#ffff80" fill-rule="evenodd"/>
<path d="M117.2 69.2 L123 61.9 L124.1 57.6 L123.4 54.7 L121.6 52.4 L119 50.8 L116.1 50.4 L112.4 51.6 L107.1 57.6 L101.1 60.6 L101.2 77.7 L102.7 68.4 L113.9 65.4Z" fill="#f79646" fill-rule="evenodd"/>
<path d="M121 73.9 L129 63.5 L130.1 58.5 L129.6 54.3 L127.2 49.6 L123.2 46.1 L118.1 44.5 L112.8 44.9 L108.3 47.2 L103.2 52.9 L101 53.9 L101.1 60.6 L107.1 57.6 L110.9 52.9 L113.2 51.1 L116.9 50.4 L120.4 51.5 L123.4 54.7 L123.9 59.6 L122.8 62.3 L117.2 69.3Z" fill="#fa6a28" fill-rule="evenodd"/>
<path d="M126.1 80 L134.2 70.4 L137 64.8 L138.1 56.7 L137.4 52.5 L135.9 48.5 L133.7 44.9 L130.8 41.8 L127.4 39.3 L123.5 37.6 L119.4 36.6 L115.2 36.4 L111 37.1 L107 38.6 L101 43 L101 53.9 L103.2 52.9 L106.3 49 L109.2 46.5 L111.8 45.2 L115.7 44.4 L119.7 44.8 L123.4 46.3 L126.5 48.8 L128.7 52.1 L130.1 57.2 L129.3 62.5 L127.5 66 L121 73.9Z" fill="#ffff80" fill-rule="evenodd"/>
<path d="M142.4 159 L142.9 156.2 L141.7 144.6 L140.5 141.6 L138.6 140 L135.9 139.2 L129.3 141 L138 167.7Z" fill="#fa3200" fill-rule="evenodd"/>
<path d="M140.2 174.6 L143 171 L148.6 159.2 L148.9 155.8 L147.5 143.3 L145.9 138.8 L142.7 135.5 L138.4 133.5 L133.6 133.4 L132.6 135.4 L127.8 136.2 L129.3 141 L134.6 139.3 L137 139.3 L139.6 140.7 L141.3 143.2 L142.8 157.3 L138 167.7Z" fill="#fa3200" fill-rule="evenodd"/>
<path d="M142.8 182.6 L148.7 177.1 L155.9 162.8 L156.9 155.4 L155.5 142.2 L152.7 134.7 L148.8 130.1 L142.1 126.2 L135.4 125.2 L133.1 133.5 L138.3 133.5 L142.6 135.4 L145.9 138.8 L147.6 143.4 L148.9 155.8 L148.6 159.3 L142.8 171.5 L140.2 174.6Z" fill="#fa3200" fill-rule="evenodd"/>
<path d="M137 119.7 L135.4 125.2 L142.1 126.2 L148.9 130.2 L153.7 136.4 L155.6 143.1 L156.9 155.4 L156.4 161 L155.1 164.7 L149.7 175.5 L146.2 180 L142.8 182.6 L145.4 190.6 L156.9 179.4 L163.1 171.2 L168.1 162.2 L173.5 141.6 L175.7 128 L174.6 116.6 L170.4 109 L159.4 76.9 L131.5 91.8 L135.1 100.7Z" fill="#fa6a28" fill-rule="evenodd"/>
<path d="M123 159.6 L127 168.5 L129 170.6 L131.1 171.5 L133.5 171.5 L135.6 170.6 L137.2 169 L138 167.7 L129.3 141 L125.3 142.7 L123.2 145.6Z" fill="#f79646" fill-rule="evenodd"/>
<path d="M121.8 171.4 L125.7 175.6 L130 177.4 L135.6 177.1 L140.2 174.6 L138 167.7 L136.4 170 L133.9 171.4 L131.1 171.5 L128.5 170.3 L127 168.5 L123.2 160.7 L123 146.6 L124.8 143.1 L129.3 141 L127.8 136.2 L123 137.1 L118.9 140.9 L120.9 169.6Z" fill="#ffc000" fill-rule="evenodd"/>
<path d="M121.8 182.6 L128.4 185.2 L132.3 185.6 L137.9 184.8 L142.8 182.6 L140.2 174.6 L137.8 176.3 L134.6 177.4 L128.9 177.1 L124 174.2 L120.9 169.6ZM118.9 140.9 L120.7 138.7 L123 137.1 L118.6 137.8Z" fill="#ffff80" fill-rule="evenodd"/>
<path d="M142.8 182.6 L136.1 185.2 L132.2 185.6 L126.6 184.8 L121.8 182.6 L123.5 207.5 L128.6 204.4 L145.4 190.6Z" fill="#ffff80" fill-rule="evenodd"/>
<path d="M117 160.4 L117.9 163.6 L120.9 169.6 L118.9 140.9 L117.6 143.6 L116.9 146.9Z" fill="#ffc000" fill-rule="evenodd"/>
<path d="M109.1 161.5 L110.6 166.9 L114.9 175.4 L118.3 179.9 L121.8 182.6 L120.9 169.6 L117.5 162.7 L116.9 159.4 L116.9 146.9 L117.6 143.6 L118.9 140.9 L118.6 137.8 L113.4 134.9 L112.6 135.9 L114.6 138.8 L114.9 141.9 L113 145.7 L108.9 147.8Z" fill="#f79646" fill-rule="evenodd"/>
<path d="M121.8 182.6 L115.9 177 L110 165.2 L108.9 159.8 L108.9 147.8 L101.5 150.5 L101.7 213.5 L108.7 213.5 L118.3 210.6 L123.5 207.5ZM112.6 135.9 L113.4 134.9 L110.2 133.2ZM103.3 125.3 L101.5 118.6 L101.5 123.3Z" fill="#ffff80" fill-rule="evenodd"/>
<path d="M135 138 L140 120 L138 100 L130 80 L120.8 69 L120.8 73.7 L127.4 81.6 L135.1 100.7 L137 119.7 L132.6 135.4 L120.8 137.5 L120.8 140.5Z" fill="#ffff80" fill-rule="evenodd"/>
<path d="M194.7 133 L211 152.3 L215 150 L223.8 139.8 L213.5 99 L211.1 83.9 L209.6 81.4 L206.8 80.2 L200.7 80.8 L194.7 87.3Z" fill="#f79646" fill-rule="evenodd"/>
<path d="M194.7 144.3 L204.8 155.9 L211 152.3 L194.7 133ZM199.2 82 L202 80.3 L206.8 80.2 L209.2 81.1 L211 83.5 L213.5 99 L223.8 140.3 L229.7 133.7 L220.4 97.6 L217.5 81 L215 76.9 L212.1 74.7 L207.5 73.3 L201.8 73.3 L198.5 74.1 L194.7 76.5 L194.7 87.3Z" fill="#fa6a28" fill-rule="evenodd"/>
<path d="M197.7 160 L204.8 155.9 L194.7 144.3 L194.7 156.6ZM194.7 76.5 L200.7 73.4 L207.5 73.3 L213.1 75.3 L216.5 78.8 L217.9 82.2 L220.4 97.6 L229.7 133.7 L236.1 126.6 L228.2 96 L225.7 80.1 L223.3 74.6 L219.3 70 L214.2 66.8 L208.3 65.3 L203 65.2 L199.2 65.6 L194.7 67Z" fill="#ffff80" fill-rule="evenodd"/>
<path d="M213 154.2 L217.1 154.5 L219.5 152.7 L223.8 140.3 L215 150Z" fill="#f79646" fill-rule="evenodd"/>
<path d="M210.1 160.5 L214.9 161.8 L218.4 161.4 L222.7 159.3 L225.2 156.8 L226.8 153.6 L230.5 142.3 L230.8 138.8 L229.7 133.7 L223.8 140.3 L219.2 153.1 L216.2 154.7 L213 154.2Z" fill="#ffc000" fill-rule="evenodd"/>
<path d="M208.6 168.6 L216.5 169.8 L222.3 168.6 L227.5 165.7 L231.7 161.4 L234.4 156.1 L238.6 142.2 L238.5 136.4 L236.1 126.6 L229.7 133.7 L230.8 138.8 L230.5 142.3 L226.8 153.6 L225.2 156.8 L222.7 159.3 L218.4 161.4 L213.7 161.7 L210.1 160.5 L206.7 167.8Z" fill="#ffff80" fill-rule="evenodd"/>
<path d="M238.5 136.4 L238.3 144.1 L234.4 156.1 L232.7 159.8 L229 164.4 L224.1 167.8 L218.5 169.6 L212.5 169.6 L206.7 167.8 L194.7 193.5 L194.7 208.5 L197.1 210.2 L204.6 210.6 L214.2 208.2 L224.6 203 L234.7 195.9 L251.9 173.3 L258 163.1 L261.1 150.9 L264.4 113.5 L262.7 97 L236.1 126.6Z" fill="#ffff80" fill-rule="evenodd"/>
<path d="M209.7 150.9 L213 154.2 L215 150Z" fill="#fa6a28" fill-rule="evenodd"/>
<path d="M207.3 158.6 L210.1 160.5 L213 154.2 L209.7 150.9 L201.6 152.4Z" fill="#ffc000" fill-rule="evenodd"/>
<path d="M201.9 164.5 L206.7 167.8 L210.1 160.5 L207.3 158.6 L201.6 152.4 L194.7 153.6 L194.7 156.6Z" fill="#f79646" fill-rule="evenodd"/>
<path d="M203.4 165.8 L194.7 156.6 L194.7 193.5 L206.7 167.8Z" fill="#ffff80" fill-rule="evenodd"/>
<use href="#bt"/>
</g>
<path d="M1689.9 764.1 L1689.9 741.2 A36.8 45.8 0 0 0 1666.2 751.9 L1678.1 769.5 A18.4 22.9 0 0 1 1689.9 764.1 Z" fill="#f79646"/>
<path d="M1689.9 764.1 L1689.9 741.2 A36.8 45.8 0 0 0 1666.2 751.9 L1678.1 769.5 A18.4 22.9 0 0 1 1689.9 764.1 Z" fill="none" stroke="#000" stroke-width="2.3" stroke-linejoin="round"/>
<path d="M1689.9 741.2 L1689.9 718.3 A55.2 68.7 0 0 0 1654.4 734.4 L1666.2 751.9 A36.8 45.8 0 0 1 1689.9 741.2 Z" fill="#fa6a28"/>
<path d="M1689.9 741.2 L1689.9 718.3 A55.2 68.7 0 0 0 1654.4 734.4 L1666.2 751.9 A36.8 45.8 0 0 1 1689.9 741.2 Z" fill="none" stroke="#000" stroke-width="2.3" stroke-linejoin="round"/>
<path d="M1689.9 718.3 L1689.9 695.4 A73.6 91.6 0 0 0 1642.6 716.8 L1654.4 734.4 A55.2 68.7 0 0 1 1689.9 718.3 Z" fill="#ffff80"/>
<path d="M1689.9 718.3 L1689.9 695.4 A73.6 91.6 0 0 0 1642.6 716.8 L1654.4 734.4 A55.2 68.7 0 0 1 1689.9 718.3 Z" fill="none" stroke="#000" stroke-width="2.3" stroke-linejoin="round"/>
<path d="M1689.9 695.4 L1689.9 672.5 A92 114.5 0 0 0 1630.8 699.3 L1642.6 716.8 A73.6 91.6 0 0 1 1689.9 695.4 Z" fill="#ffffff"/>
<path d="M1689.9 695.4 L1689.9 672.5 A92 114.5 0 0 0 1630.8 699.3 L1642.6 716.8 A73.6 91.6 0 0 1 1689.9 695.4 Z" fill="none" stroke="#000" stroke-width="2.3" stroke-linejoin="round"/>
<path d="M1678.1 769.5 L1672.2 760.7 A27.6 34.4 0 0 0 1666 769.8 L1674 775.5 A18.4 22.9 0 0 1 1678.1 769.5 Z" fill="#ffff80"/>
<path d="M1678.1 769.5 L1672.2 760.7 A27.6 34.4 0 0 0 1666 769.8 L1674 775.5 A18.4 22.9 0 0 1 1678.1 769.5 Z" fill="none" stroke="#000" stroke-width="2.3" stroke-linejoin="round"/>
<path d="M1672.2 760.7 L1666.2 751.9 A36.8 45.8 0 0 0 1658 764.1 L1666 769.8 A27.6 34.4 0 0 1 1672.2 760.7 Z" fill="#ffffff"/>
<path d="M1672.2 760.7 L1666.2 751.9 A36.8 45.8 0 0 0 1658 764.1 L1666 769.8 A27.6 34.4 0 0 1 1672.2 760.7 Z" fill="none" stroke="#000" stroke-width="2.3" stroke-linejoin="round"/>
<path d="M1666.2 751.9 L1660.3 743.1 A46 57.2 0 0 0 1650.1 758.4 L1658 764.1 A36.8 45.8 0 0 1 1666.2 751.9 Z" fill="#ffffff"/>
<path d="M1666.2 751.9 L1660.3 743.1 A46 57.2 0 0 0 1650.1 758.4 L1658 764.1 A36.8 45.8 0 0 1 1666.2 751.9 Z" fill="none" stroke="#000" stroke-width="2.3" stroke-linejoin="round"/>
<path d="M1660.3 743.1 L1654.4 734.4 A55.2 68.7 0 0 0 1642.1 752.6 L1650.1 758.4 A46 57.2 0 0 1 1660.3 743.1 Z" fill="#ffffff"/>
<path d="M1660.3 743.1 L1654.4 734.4 A55.2 68.7 0 0 0 1642.1 752.6 L1650.1 758.4 A46 57.2 0 0 1 1660.3 743.1 Z" fill="none" stroke="#000" stroke-width="2.3" stroke-linejoin="round"/>
<path d="M1674 775.5 L1658 764.1 A36.8 45.8 0 0 0 1653.7 795 L1671.8 791 A18.4 22.9 0 0 1 1674 775.5 Z" fill="#fa3200"/>
<path d="M1674 775.5 L1658 764.1 A36.8 45.8 0 0 0 1653.7 795 L1671.8 791 A18.4 22.9 0 0 1 1674 775.5 Z" fill="none" stroke="#000" stroke-width="2.3" stroke-linejoin="round"/>
<path d="M1658 764.1 L1642.1 752.6 A55.2 68.7 0 0 0 1635.5 798.9 L1653.7 795 A36.8 45.8 0 0 1 1658 764.1 Z" fill="#fa3200"/>
<path d="M1658 764.1 L1642.1 752.6 A55.2 68.7 0 0 0 1635.5 798.9 L1653.7 795 A36.8 45.8 0 0 1 1658 764.1 Z" fill="none" stroke="#000" stroke-width="2.3" stroke-linejoin="round"/>
<path d="M1642.1 752.6 L1626.2 741.2 A73.6 91.6 0 0 0 1617.4 802.9 L1635.5 798.9 A55.2 68.7 0 0 1 1642.1 752.6 Z" fill="#fa3200"/>
<path d="M1642.1 752.6 L1626.2 741.2 A73.6 91.6 0 0 0 1617.4 802.9 L1635.5 798.9 A55.2 68.7 0 0 1 1642.1 752.6 Z" fill="none" stroke="#000" stroke-width="2.3" stroke-linejoin="round"/>
<path d="M1626.2 741.2 L1610.2 729.8 A92 114.5 0 0 0 1599.3 806.9 L1617.4 802.9 A73.6 91.6 0 0 1 1626.2 741.2 Z" fill="#fa6a28"/>
<path d="M1626.2 741.2 L1610.2 729.8 A92 114.5 0 0 0 1599.3 806.9 L1617.4 802.9 A73.6 91.6 0 0 1 1626.2 741.2 Z" fill="none" stroke="#000" stroke-width="2.3" stroke-linejoin="round"/>
<path d="M1671.8 791 L1653.7 795 A36.8 45.8 0 0 0 1666.2 822.1 L1678.1 804.5 A18.4 22.9 0 0 1 1671.8 791 Z" fill="#f79646"/>
<path d="M1671.8 791 L1653.7 795 A36.8 45.8 0 0 0 1666.2 822.1 L1678.1 804.5 A18.4 22.9 0 0 1 1671.8 791 Z" fill="none" stroke="#000" stroke-width="2.3" stroke-linejoin="round"/>
<path d="M1653.7 795 L1635.5 798.9 A55.2 68.7 0 0 0 1654.4 839.6 L1666.2 822.1 A36.8 45.8 0 0 1 1653.7 795 Z" fill="#ffc000"/>
<path d="M1653.7 795 L1635.5 798.9 A55.2 68.7 0 0 0 1654.4 839.6 L1666.2 822.1 A36.8 45.8 0 0 1 1653.7 795 Z" fill="none" stroke="#000" stroke-width="2.3" stroke-linejoin="round"/>
<path d="M1635.5 798.9 L1617.4 802.9 A73.6 91.6 0 0 0 1642.6 857.2 L1654.4 839.6 A55.2 68.7 0 0 1 1635.5 798.9 Z" fill="#ffff80"/>
<path d="M1635.5 798.9 L1617.4 802.9 A73.6 91.6 0 0 0 1642.6 857.2 L1654.4 839.6 A55.2 68.7 0 0 1 1635.5 798.9 Z" fill="none" stroke="#000" stroke-width="2.3" stroke-linejoin="round"/>
<path d="M1617.4 802.9 L1599.3 806.9 A92 114.5 0 0 0 1630.8 874.7 L1642.6 857.2 A73.6 91.6 0 0 1 1617.4 802.9 Z" fill="#ffff80"/>
<path d="M1617.4 802.9 L1599.3 806.9 A92 114.5 0 0 0 1630.8 874.7 L1642.6 857.2 A73.6 91.6 0 0 1 1617.4 802.9 Z" fill="none" stroke="#000" stroke-width="2.3" stroke-linejoin="round"/>
<path d="M1678.1 804.5 L1666.2 822.1 A36.8 45.8 0 0 0 1689.9 832.8 L1689.9 809.9 A18.4 22.9 0 0 1 1678.1 804.5 Z" fill="#fa6a28"/>
<path d="M1678.1 804.5 L1666.2 822.1 A36.8 45.8 0 0 0 1689.9 832.8 L1689.9 809.9 A18.4 22.9 0 0 1 1678.1 804.5 Z" fill="none" stroke="#000" stroke-width="2.3" stroke-linejoin="round"/>
<path d="M1666.2 822.1 L1654.4 839.6 A55.2 68.7 0 0 0 1689.9 855.7 L1689.9 832.8 A36.8 45.8 0 0 1 1666.2 822.1 Z" fill="#ffc000"/>
<path d="M1666.2 822.1 L1654.4 839.6 A55.2 68.7 0 0 0 1689.9 855.7 L1689.9 832.8 A36.8 45.8 0 0 1 1666.2 822.1 Z" fill="none" stroke="#000" stroke-width="2.3" stroke-linejoin="round"/>
<path d="M1654.4 839.6 L1642.6 857.2 A73.6 91.6 0 0 0 1689.9 878.6 L1689.9 855.7 A55.2 68.7 0 0 1 1654.4 839.6 Z" fill="#f79646"/>
<path d="M1654.4 839.6 L1642.6 857.2 A73.6 91.6 0 0 0 1689.9 878.6 L1689.9 855.7 A55.2 68.7 0 0 1 1654.4 839.6 Z" fill="none" stroke="#000" stroke-width="2.3" stroke-linejoin="round"/>
<path d="M1642.6 857.2 L1630.8 874.7 A92 114.5 0 0 0 1689.9 901.5 L1689.9 878.6 A73.6 91.6 0 0 1 1642.6 857.2 Z" fill="#ffff80"/>
<path d="M1642.6 857.2 L1630.8 874.7 A92 114.5 0 0 0 1689.9 901.5 L1689.9 878.6 A73.6 91.6 0 0 1 1642.6 857.2 Z" fill="none" stroke="#000" stroke-width="2.3" stroke-linejoin="round"/>
<path d="M1689.9 764.1 A18.4 22.9 0 0 0 1689.9 809.9 Z" fill="#fff" stroke="#000" stroke-width="2.3"/>
<line x1="1690.2" y1="766.1" x2="1690.2" y2="807.9" stroke="#fff" stroke-width="1.5"/>
<text x="225" y="104.8" font-size="33" fill="#000" text-anchor="middle" font-weight="bold" transform="rotate(-17.6 225 93)">F</text>
<text x="202.5" y="170.8" font-size="33" fill="#000" text-anchor="middle" font-weight="bold" transform="rotate(-46 202.5 159)">B</text>
<text x="150" y="210.2" font-size="33" fill="#000" text-anchor="middle" font-weight="bold" transform="rotate(-80 150 198.4)">T</text>
<text x="165" y="297.8" font-size="33" fill="#000" text-anchor="middle" font-weight="bold" transform="rotate(-117 165 286)">P</text>
<text x="223" y="356.2" font-size="33" fill="#000" text-anchor="middle" font-weight="bold" transform="rotate(-160 223 344.4)">O</text>
<rect x="171.3" y="943" width="1762" height="18" fill="#000"/>
<polygon points="1931,928 1971.5,952 1931,976" fill="#000"/>
<rect x="353.2" y="928.5" width="11" height="46.5" fill="#000"/>
<text x="358.7" y="1024" font-size="46" fill="#000" text-anchor="middle">2</text>
<rect x="829" y="928.5" width="11" height="46.5" fill="#000"/>
<text x="834.5" y="1024" font-size="46" fill="#000" text-anchor="middle">6</text>
<rect x="1303" y="928.5" width="11" height="46.5" fill="#000"/>
<text x="1308.5" y="1024" font-size="46" fill="#000" text-anchor="middle">10</text>
<rect x="1777.3" y="928.5" width="11" height="46.5" fill="#000"/>
<text x="1782.8" y="1024" font-size="46" fill="#000" text-anchor="middle">14</text>
<text x="1010.6" y="1024" font-size="46" fill="#000">Stage</text>
<text x="-2" y="1155" font-size="61" fill="#000" font-weight="bold">b</text>
<path d="M120.0 1228.2 C175.8 1228.2 175.8 1211.0 231.5 1211.0 L231.5 1282.3 C175.8 1282.3 175.8 1300.7 120.0 1300.7 Z" fill="rgba(128,128,128,0.5)"/>
<path d="M120.0 1300.7 C175.8 1300.7 175.8 1318.3 231.5 1318.3 L231.5 1439.7 C175.8 1439.7 175.8 1422.1 120.0 1422.1 Z" fill="rgba(128,128,128,0.5)"/>
<path d="M244.8 1211.0 C300.6 1211.0 300.6 1193.5 356.5 1193.5 L356.5 1224.5 C300.6 1224.5 300.6 1240.5 244.8 1240.5 Z" fill="rgba(128,128,128,0.5)"/>
<path d="M244.8 1240.5 C300.6 1240.5 300.6 1270.7 356.5 1270.7 L356.5 1310.8 C300.6 1310.8 300.6 1282.3 244.8 1282.3 Z" fill="rgba(128,128,128,0.5)"/>
<path d="M244.8 1318.3 C300.6 1318.3 300.6 1224.5 356.5 1224.5 L356.5 1234.0 C300.6 1234.0 300.6 1327.5 244.8 1327.5 Z" fill="rgba(0,0,255,0.25)"/>
<path d="M244.8 1327.5 C300.6 1327.5 300.6 1310.8 356.5 1310.8 L356.5 1358.6 C300.6 1358.6 300.6 1377.5 244.8 1377.5 Z" fill="rgba(0,0,255,0.25)"/>
<path d="M244.8 1377.5 C300.6 1377.5 300.6 1395.2 356.5 1395.2 L356.5 1458.0 C300.6 1458.0 300.6 1439.7 244.8 1439.7 Z" fill="rgba(0,0,255,0.25)"/>
<path d="M369.5 1193.1 C425.6 1193.1 425.6 1175.7 481.7 1175.7 L481.7 1199.5 C425.6 1199.5 425.6 1215.8 369.5 1215.8 Z" fill="rgba(255,0,255,0.25)"/>
<path d="M369.5 1215.8 C425.6 1215.8 425.6 1242.4 481.7 1242.4 L481.7 1264.6 C425.6 1264.6 425.6 1234.0 369.5 1234.0 Z" fill="rgba(255,0,255,0.25)"/>
<path d="M369.5 1270.7 C425.6 1270.7 425.6 1199.5 481.7 1199.5 L481.7 1207.0 C425.6 1207.0 425.6 1278.5 369.5 1278.5 Z" fill="rgba(128,128,128,0.5)"/>
<path d="M369.5 1278.5 C425.6 1278.5 425.6 1309.9 481.7 1309.9 L481.7 1393.5 C425.6 1393.5 425.6 1358.6 369.5 1358.6 Z" fill="rgba(128,128,128,0.5)"/>
<path d="M369.5 1395.2 C425.6 1395.2 425.6 1264.6 481.7 1264.6 L481.7 1274.5 C425.6 1274.5 425.6 1404.0 369.5 1404.0 Z" fill="rgba(0,0,255,0.25)"/>
<path d="M369.5 1410.0 C425.6 1410.0 425.6 1428.3 481.7 1428.3 L481.7 1475.5 C425.6 1475.5 425.6 1458.0 369.5 1458.0 Z" fill="rgba(0,0,255,0.25)"/>
<path d="M494.3 1176.6 C550.0 1176.6 550.0 1157.4 605.7 1157.4 L605.7 1181.0 C550.0 1181.0 550.0 1199.0 494.3 1199.0 Z" fill="rgba(255,0,255,0.25)"/>
<path d="M494.3 1199.0 C550.0 1199.0 550.0 1224.5 605.7 1224.5 L605.7 1233.0 C550.0 1233.0 550.0 1207.0 494.3 1207.0 Z" fill="rgba(255,0,255,0.25)"/>
<path d="M494.3 1242.4 C550.0 1242.4 550.0 1181.0 605.7 1181.0 L605.7 1187.0 C550.0 1187.0 550.0 1245.5 494.3 1245.5 Z" fill="rgba(255,0,255,0.25)"/>
<path d="M494.3 1246.0 C550.0 1246.0 550.0 1269.8 605.7 1269.8 L605.7 1297.7 C550.0 1297.7 550.0 1274.5 494.3 1274.5 Z" fill="rgba(255,0,255,0.25)"/>
<path d="M494.3 1310.0 C550.0 1310.0 550.0 1232.5 605.7 1232.5 L605.7 1234.8 C550.0 1234.8 550.0 1312.3 494.3 1312.3 Z" fill="rgba(128,128,128,0.5)"/>
<path d="M494.3 1313.0 C550.0 1313.0 550.0 1332.5 605.7 1332.5 L605.7 1415.3 C550.0 1415.3 550.0 1393.5 494.3 1393.5 Z" fill="rgba(128,128,128,0.5)"/>
<path d="M494.3 1428.3 C550.0 1428.3 550.0 1450.0 605.7 1450.0 L605.7 1492.8 C550.0 1492.8 550.0 1475.5 494.3 1475.5 Z" fill="rgba(0,0,255,0.25)"/>
<rect x="106.8" y="1228.2" width="13.2" height="193.9" fill="#000"/>
<rect x="231.5" y="1211" width="13.3" height="71.3" fill="#000"/>
<rect x="231.5" y="1318.3" width="13.3" height="121.4" fill="#0000ff"/>
<rect x="356.5" y="1193.1" width="13" height="40.9" fill="#ff00ff"/>
<rect x="356.5" y="1270.7" width="13" height="87.9" fill="#000"/>
<rect x="356.5" y="1395.2" width="13" height="62.8" fill="#0000ff"/>
<rect x="481.7" y="1175.7" width="12.6" height="31.3" fill="#ff00ff"/>
<rect x="481.7" y="1242.4" width="12.6" height="32.1" fill="#ff00ff"/>
<rect x="481.7" y="1309.9" width="12.6" height="83.6" fill="#000"/>
<rect x="481.7" y="1428.3" width="12.6" height="47.2" fill="#0000ff"/>
<rect x="605.7" y="1157.4" width="12.8" height="30.6" fill="#ff00ff"/>
<rect x="605.7" y="1224" width="12.8" height="11" fill="#ff00ff"/>
<rect x="605.7" y="1269.8" width="12.8" height="27.9" fill="#ff00ff"/>
<rect x="605.7" y="1332.5" width="12.8" height="82.8" fill="#000"/>
<rect x="605.7" y="1450" width="12.8" height="42.8" fill="#0000ff"/>
<rect x="307" y="1145.5" width="113" height="427.5" fill="none" stroke="#000" stroke-width="3.6" stroke-dasharray="4.2 3.4"/>
<line x1="100.6" y1="1516.3" x2="625" y2="1516.3" stroke="#000" stroke-width="3.6"/>
<polygon points="620,1507.8 641.8,1516.3 620,1524.8" fill="#000"/>
<line x1="113.9" y1="1516" x2="113.9" y2="1529" stroke="#000" stroke-width="3.6"/>
<line x1="239" y1="1516" x2="239" y2="1529" stroke="#000" stroke-width="3.6"/>
<line x1="364.3" y1="1516" x2="364.3" y2="1529" stroke="#000" stroke-width="3.6"/>
<line x1="488.4" y1="1516" x2="488.4" y2="1529" stroke="#000" stroke-width="3.6"/>
<line x1="611.8" y1="1516" x2="611.8" y2="1529" stroke="#000" stroke-width="3.6"/>
<text x="113.9" y="1564" font-size="36.5" fill="#000" text-anchor="middle">1</text>
<text x="239" y="1564" font-size="36.5" fill="#000" text-anchor="middle">2</text>
<text x="488.4" y="1564" font-size="36.5" fill="#000" text-anchor="middle">4</text>
<text x="611.8" y="1564" font-size="36.5" fill="#000" text-anchor="middle">5</text>
<text x="365" y="1565" font-size="36.5" fill="#000" text-anchor="middle" font-weight="bold">3*</text>
<text x="184.8" y="1612.3" font-size="46" fill="#000">N-subtype model</text>
<text x="66.4" y="1318.2" font-size="36.5" fill="#000" text-anchor="middle">100</text>
<text x="66.4" y="1360.5" font-size="36.5" fill="#000" text-anchor="middle">(%)</text>
<text x="229.2" y="1260" font-size="36.5" fill="#000" text-anchor="end">37</text>
<text x="229.2" y="1392.8" font-size="36.5" fill="#000" text-anchor="end">63</text>
<text x="352.5" y="1227.7" font-size="36.5" fill="#000" text-anchor="end">21</text>
<text x="353" y="1331.4" font-size="36.5" fill="#000" text-anchor="end">46</text>
<text x="353" y="1439" font-size="36.5" fill="#000" text-anchor="end">33</text>
<text x="479.5" y="1203.6" font-size="36.5" fill="#000" text-anchor="end">16</text>
<text x="479.5" y="1271.5" font-size="36.5" fill="#000" text-anchor="end">17</text>
<text x="479.5" y="1366.5" font-size="36.5" fill="#000" text-anchor="end">43</text>
<text x="479.5" y="1468.4" font-size="36.5" fill="#000" text-anchor="end">24</text>
<text x="605.9" y="1186.2" font-size="36.5" fill="#000" text-anchor="end">16</text>
<text x="598.5" y="1242" font-size="36.5" fill="#000" text-anchor="end">6</text>
<text x="604.1" y="1296.8" font-size="36.5" fill="#000" text-anchor="end">14</text>
<text x="605" y="1389" font-size="36.5" fill="#000" text-anchor="end">43</text>
<text x="604.5" y="1486" font-size="36.5" fill="#000" text-anchor="end">22</text>
<text x="313" y="1265.5" font-size="34.5" fill="#000">Radial</text>
<text x="340" y="1180.8" font-size="35.5" fill="#ff00ff">FP</text>
<text x="338.5" y="1390" font-size="35.5" fill="#0000ff">TO</text>
<line x1="812.5" y1="1166" x2="812.5" y2="1517.3" stroke="#000" stroke-width="3.3"/>
<line x1="804.3" y1="1515.7" x2="1310" y2="1515.7" stroke="#000" stroke-width="3.3"/>
<line x1="804.3" y1="1515.7" x2="812.5" y2="1515.7" stroke="#000" stroke-width="3.3"/>
<text x="802.5" y="1528.9" font-size="37" fill="#000" text-anchor="end">0</text>
<line x1="804.3" y1="1399.6" x2="812.5" y2="1399.6" stroke="#000" stroke-width="3.3"/>
<text x="802.5" y="1412.8" font-size="37" fill="#000" text-anchor="end">4</text>
<line x1="804.3" y1="1283.5" x2="812.5" y2="1283.5" stroke="#000" stroke-width="3.3"/>
<text x="802.5" y="1296.7" font-size="37" fill="#000" text-anchor="end">8</text>
<line x1="804.3" y1="1167.5" x2="812.5" y2="1167.5" stroke="#000" stroke-width="3.3"/>
<text x="802.5" y="1180.7" font-size="37" fill="#000" text-anchor="end">12</text>
<line x1="807.5" y1="1457.7" x2="812.5" y2="1457.7" stroke="#000" stroke-width="3.3"/>
<line x1="807.5" y1="1341.6" x2="812.5" y2="1341.6" stroke="#000" stroke-width="3.3"/>
<line x1="807.5" y1="1225.5" x2="812.5" y2="1225.5" stroke="#000" stroke-width="3.3"/>
<line x1="857.9" y1="1515.7" x2="857.9" y2="1523.2" stroke="#000" stroke-width="3.3"/>
<text x="857.9" y="1557.9" font-size="35" fill="#000" text-anchor="middle">2</text>
<line x1="905.5" y1="1515.7" x2="905.5" y2="1523.2" stroke="#000" stroke-width="3.3"/>
<text x="905.5" y="1557.9" font-size="35" fill="#000" text-anchor="middle">4</text>
<line x1="953.1" y1="1515.7" x2="953.1" y2="1523.2" stroke="#000" stroke-width="3.3"/>
<text x="953.1" y="1557.9" font-size="35" fill="#000" text-anchor="middle">6</text>
<line x1="1000.8" y1="1515.7" x2="1000.8" y2="1523.2" stroke="#000" stroke-width="3.3"/>
<text x="1000.8" y="1557.9" font-size="35" fill="#000" text-anchor="middle">8</text>
<line x1="1048.4" y1="1515.7" x2="1048.4" y2="1523.2" stroke="#000" stroke-width="3.3"/>
<text x="1048.4" y="1557.9" font-size="35" fill="#000" text-anchor="middle">10</text>
<line x1="1096" y1="1515.7" x2="1096" y2="1523.2" stroke="#000" stroke-width="3.3"/>
<text x="1096" y="1557.9" font-size="35" fill="#000" text-anchor="middle">12</text>
<line x1="1143.6" y1="1515.7" x2="1143.6" y2="1523.2" stroke="#000" stroke-width="3.3"/>
<text x="1143.6" y="1557.9" font-size="35" fill="#000" text-anchor="middle">14</text>
<line x1="1191.2" y1="1515.7" x2="1191.2" y2="1523.2" stroke="#000" stroke-width="3.3"/>
<text x="1191.2" y="1557.9" font-size="35" fill="#000" text-anchor="middle">16</text>
<line x1="1238.9" y1="1515.7" x2="1238.9" y2="1523.2" stroke="#000" stroke-width="3.3"/>
<text x="1238.9" y="1557.9" font-size="35" fill="#000" text-anchor="middle">18</text>
<line x1="1286.5" y1="1515.7" x2="1286.5" y2="1523.2" stroke="#000" stroke-width="3.3"/>
<text x="1286.5" y="1557.9" font-size="35" fill="#000" text-anchor="middle">20</text>
<text x="1002" y="1610.4" font-size="46" fill="#000">Stage</text>
<text x="744" y="1343" font-size="46" fill="#000" text-anchor="middle" transform="rotate(-90 744 1343)">Frequency (%)</text>
<path d="M834.1 1491.9 L857.9 1463.2 L881.7 1444.9 L905.5 1407.7 L929.3 1419.9 L953.1 1396.1 L977 1373.5 L1000.8 1337.2 L1024.6 1283 L1048.4 1280.9 L1072.2 1293.1 L1096 1269.3 L1119.8 1312.9 L1143.6 1327.1 L1167.4 1350.6 L1191.2 1326.5 L1215.1 1333.5 L1238.9 1361 L1262.7 1463.2 L1286.5 1491.3" fill="none" stroke="#0000ff" stroke-width="4.2" stroke-linejoin="round"/>
<circle cx="834.1" cy="1491.9" r="6.3" fill="#0000ff"/>
<circle cx="857.9" cy="1463.2" r="6.3" fill="#0000ff"/>
<circle cx="881.7" cy="1444.9" r="6.3" fill="#0000ff"/>
<circle cx="905.5" cy="1407.7" r="6.3" fill="#0000ff"/>
<circle cx="929.3" cy="1419.9" r="6.3" fill="#0000ff"/>
<circle cx="953.1" cy="1396.1" r="6.3" fill="#0000ff"/>
<circle cx="977" cy="1373.5" r="6.3" fill="#0000ff"/>
<circle cx="1000.8" cy="1337.2" r="6.3" fill="#0000ff"/>
<circle cx="1024.6" cy="1283" r="6.3" fill="#0000ff"/>
<circle cx="1048.4" cy="1280.9" r="6.3" fill="#0000ff"/>
<circle cx="1072.2" cy="1293.1" r="6.3" fill="#0000ff"/>
<circle cx="1096" cy="1269.3" r="6.3" fill="#0000ff"/>
<circle cx="1119.8" cy="1312.9" r="6.3" fill="#0000ff"/>
<circle cx="1143.6" cy="1327.1" r="6.3" fill="#0000ff"/>
<circle cx="1167.4" cy="1350.6" r="6.3" fill="#0000ff"/>
<circle cx="1191.2" cy="1326.5" r="6.3" fill="#0000ff"/>
<circle cx="1215.1" cy="1333.5" r="6.3" fill="#0000ff"/>
<circle cx="1238.9" cy="1361" r="6.3" fill="#0000ff"/>
<circle cx="1262.7" cy="1463.2" r="6.3" fill="#0000ff"/>
<circle cx="1286.5" cy="1491.3" r="6.3" fill="#0000ff"/>
<path d="M834.1 1304.1 L857.9 1336.4 L881.7 1298.6 L905.5 1294.3 L929.3 1314 L953.1 1271.1 L977 1265 L1000.8 1283 L1024.6 1300.7 L1048.4 1365.7 L1072.2 1367.4 L1096 1384.2 L1119.8 1402.2 L1143.6 1424.6 L1167.4 1431.8 L1191.2 1455 L1215.1 1474.5 L1238.9 1476.5 L1262.7 1492.5 L1286.5 1490.7" fill="none" stroke="#000" stroke-width="4.2" stroke-linejoin="round"/>
<circle cx="834.1" cy="1304.1" r="6.3" fill="#000"/>
<circle cx="857.9" cy="1336.4" r="6.3" fill="#000"/>
<circle cx="881.7" cy="1298.6" r="6.3" fill="#000"/>
<circle cx="905.5" cy="1294.3" r="6.3" fill="#000"/>
<circle cx="929.3" cy="1314" r="6.3" fill="#000"/>
<circle cx="953.1" cy="1271.1" r="6.3" fill="#000"/>
<circle cx="977" cy="1265" r="6.3" fill="#000"/>
<circle cx="1000.8" cy="1283" r="6.3" fill="#000"/>
<circle cx="1024.6" cy="1300.7" r="6.3" fill="#000"/>
<circle cx="1048.4" cy="1365.7" r="6.3" fill="#000"/>
<circle cx="1072.2" cy="1367.4" r="6.3" fill="#000"/>
<circle cx="1096" cy="1384.2" r="6.3" fill="#000"/>
<circle cx="1119.8" cy="1402.2" r="6.3" fill="#000"/>
<circle cx="1143.6" cy="1424.6" r="6.3" fill="#000"/>
<circle cx="1167.4" cy="1431.8" r="6.3" fill="#000"/>
<circle cx="1191.2" cy="1455" r="6.3" fill="#000"/>
<circle cx="1215.1" cy="1474.5" r="6.3" fill="#000"/>
<circle cx="1238.9" cy="1476.5" r="6.3" fill="#000"/>
<circle cx="1262.7" cy="1492.5" r="6.3" fill="#000"/>
<circle cx="1286.5" cy="1490.7" r="6.3" fill="#000"/>
<path d="M834.1 1337.8 L857.9 1378.1 L881.7 1426.3 L905.5 1424 L929.3 1405.7 L953.1 1424.6 L977 1411.5 L1000.8 1409.2 L1024.6 1404.8 L1048.4 1412.1 L1072.2 1388.9 L1096 1361.3 L1119.8 1381.6 L1143.6 1343.3 L1167.4 1306.8 L1191.2 1217.4 L1215.1 1247.8 L1238.9 1268.4 L1262.7 1382.5 L1286.5 1496" fill="none" stroke="#ff00ff" stroke-width="4.2" stroke-linejoin="round"/>
<circle cx="834.1" cy="1337.8" r="6.3" fill="#ff00ff"/>
<circle cx="857.9" cy="1378.1" r="6.3" fill="#ff00ff"/>
<circle cx="881.7" cy="1426.3" r="6.3" fill="#ff00ff"/>
<circle cx="905.5" cy="1424" r="6.3" fill="#ff00ff"/>
<circle cx="929.3" cy="1405.7" r="6.3" fill="#ff00ff"/>
<circle cx="953.1" cy="1424.6" r="6.3" fill="#ff00ff"/>
<circle cx="977" cy="1411.5" r="6.3" fill="#ff00ff"/>
<circle cx="1000.8" cy="1409.2" r="6.3" fill="#ff00ff"/>
<circle cx="1024.6" cy="1404.8" r="6.3" fill="#ff00ff"/>
<circle cx="1048.4" cy="1412.1" r="6.3" fill="#ff00ff"/>
<circle cx="1072.2" cy="1388.9" r="6.3" fill="#ff00ff"/>
<circle cx="1096" cy="1361.3" r="6.3" fill="#ff00ff"/>
<circle cx="1119.8" cy="1381.6" r="6.3" fill="#ff00ff"/>
<circle cx="1143.6" cy="1343.3" r="6.3" fill="#ff00ff"/>
<circle cx="1167.4" cy="1306.8" r="6.3" fill="#ff00ff"/>
<circle cx="1191.2" cy="1217.4" r="6.3" fill="#ff00ff"/>
<circle cx="1215.1" cy="1247.8" r="6.3" fill="#ff00ff"/>
<circle cx="1238.9" cy="1268.4" r="6.3" fill="#ff00ff"/>
<circle cx="1262.7" cy="1382.5" r="6.3" fill="#ff00ff"/>
<circle cx="1286.5" cy="1496" r="6.3" fill="#ff00ff"/>
<polygon points="1717.3,1165.5 1508.5,1516 1927,1516" fill="#fff"/>
<polygon points="1612.9,1340.8 1822.2,1340.8 1717.8,1516" fill="#bebebe"/>
<path d="M1544.1 1511.1h0M1614.4 1509.3h0M1575.5 1490.9h0M1510.7 1514.8h0M1509.7 1515.4h0M1512.2 1515.7h0M1542.4 1475.9h0M1516.6 1514.3h0M1563.1 1433.5h0M1582 1485.5h0M1705.6 1508.1h0M1650.8 1475.6h0M1519.3 1514.9h0M1529.7 1491.5h0M1519.9 1508.2h0M1595.4 1482.7h0M1590.7 1511.5h0M1511.2 1515.5h0M1600.8 1473.9h0M1534.5 1497.9h0M1562.7 1500h0M1604.8 1429.3h0M1526.5 1503.9h0M1553.2 1457.6h0M1620.1 1484.6h0M1699.5 1495.9h0M1543.6 1480.1h0M1517.9 1510.9h0M1509.6 1515.1h0M1608.2 1448.9h0M1653 1471h0M1593.7 1455.6h0M1579.8 1480.7h0M1593.3 1388.6h0M1554.1 1478h0M1510.5 1514.2h0M1563.2 1425.4h0M1642.2 1478.8h0M1541.8 1487.9h0M1509 1515.7h0M1522.1 1514.6h0M1510.3 1514.1h0M1517 1514h0M1537.3 1478.7h0M1512.2 1514.2h0M1556 1452.9h0M1596.5 1403.7h0M1532.8 1505.3h0M1533.5 1482.7h0M1689.8 1491.2h0M1522.2 1513h0M1526.4 1506.4h0M1590.7 1495.2h0M1508.5 1516h0M1542.1 1493.7h0M1635.8 1403.4h0M1562 1475.9h0M1621.7 1510.7h0M1617.3 1399.4h0M1611.2 1401.6h0M1549.6 1498.8h0M1513.3 1512.3h0M1511.6 1515.8h0M1526.8 1513.3h0M1548.9 1514.2h0M1508.5 1516h0M1514 1513.9h0M1509 1515.4h0M1601.7 1503.5h0M1530.4 1508.3h0M1551.7 1511.3h0M1590.7 1379.9h0M1558.9 1489h0M1513.5 1515.5h0M1544.9 1506.7h0M1653.6 1494.7h0M1508.9 1515.4h0M1582.9 1506.1h0M1591.1 1514.1h0M1549.4 1450.2h0M1617.8 1418.1h0M1531.3 1507.4h0M1517.3 1506.8h0M1558.1 1462.9h0M1543.7 1508.6h0M1586 1389.8h0M1606.7 1404.8h0M1606 1420h0M1525.2 1506.2h0M1552.2 1514.9h0M1509.3 1515.8h0M1526.5 1500h0M1660.4 1442.7h0M1604.3 1358.9h0M1668.1 1456.4h0M1527.7 1511.9h0M1524.9 1512.9h0M1565.1 1438.2h0M1631 1451.3h0M1574.7 1442.1h0M1512 1513.1h0M1618.9 1397h0M1611.9 1461.6h0M1518 1505.6h0M1532.5 1489.1h0M1669.2 1449.6h0M1536.5 1473.8h0M1626.6 1497.6h0M1517.3 1514.8h0M1615.8 1394.3h0M1515.4 1507.9h0M1644.7 1404.2h0M1540 1496.1h0M1518.3 1515.9h0M1643.5 1407.1h0M1551.1 1453.5h0M1542.2 1472.3h0M1649 1488.2h0M1531.1 1509.5h0M1525.9 1503.9h0M1530.3 1506.3h0M1513.9 1508.4h0M1542.4 1499.1h0M1559.5 1445.4h0M1539.3 1472.1h0M1563 1482.9h0M1587 1514.8h0M1564 1506.6h0M1508.5 1516h0M1519.9 1510.1h0M1601.7 1455.8h0M1537.3 1499.1h0M1561.1 1459.1h0M1513.7 1512.6h0M1530.8 1510h0M1614.4 1455.6h0M1563 1459.9h0M1650.4 1448.3h0M1583.4 1473.5h0M1558.6 1471.5h0M1555.1 1487.6h0M1545 1461.5h0M1577.1 1426.2h0M1675 1474.4h0M1554.7 1446.8h0M1658.5 1497.5h0M1515.4 1512.7h0M1512.1 1515.2h0M1511.2 1513.7h0M1588.5 1406.9h0M1516.6 1508.4h0M1612.7 1502.6h0M1597.9 1375.3h0M1519.8 1498.8h0M1548.3 1494.5h0M1628.6 1372.3h0M1519.1 1511.1h0M1572.8 1494h0M1523.7 1511.2h0M1635.7 1513.9h0M1575.8 1484.2h0M1508.9 1515.9h0M1585.2 1471.8h0M1510.2 1513.2h0M1583.7 1396.8h0M1514.7 1514.4h0M1509.5 1514.9h0M1536 1512.8h0M1539.7 1472.2h0M1643.5 1482.4h0M1515 1506.7h0M1567 1463.1h0M1513.9 1515.7h0M1602.5 1473.4h0M1510.7 1512.8h0M1571.8 1445h0M1511.4 1512.4h0M1510.5 1513.4h0M1561.6 1497.8h0M1554.6 1449.2h0M1535.6 1512.9h0M1579 1500h0M1515.5 1515h0M1510.6 1515.6h0M1539.4 1506.7h0M1626.9 1482.4h0M1575.9 1505h0M1550.9 1515.3h0M1534.5 1515.7h0M1603.6 1455.4h0M1521.7 1509.1h0M1687.5 1499.2h0M1630 1459.9h0M1550.9 1465.1h0M1547 1494.1h0M1569.1 1417.8h0M1533 1486.7h0M1593.2 1449.8h0M1553 1500.3h0M1511 1515.7h0M1511 1513.6h0M1533.3 1512.3h0M1511.5 1512.4h0M1621.4 1420.6h0M1536 1509.6h0M1534.1 1503.2h0M1518.7 1511.1h0M1523.1 1493.2h0M1654.2 1424h0M1521.6 1495.5h0M1538.1 1505.2h0M1508.5 1516h0M1559.7 1487.2h0M1522.6 1508h0M1508.6 1516h0M1513 1514.1h0M1510.3 1516h0M1539.5 1509.2h0M1577.4 1474.4h0M1599.7 1441.1h0M1579.4 1422.7h0M1551.1 1502.1h0M1697.7 1490.4h0M1595.9 1446.5h0M1509.6 1514.7h0M1629.4 1423.4h0M1586.5 1426.5h0M1516.5 1511.2h0M1552.1 1463.6h0M1597 1411.5h0M1560.1 1446.2h0M1585.6 1447.4h0M1531.2 1515.4h0M1516.8 1512.9h0M1512.6 1511h0M1568.4 1470.1h0M1576.8 1456.9h0M1580 1515.8h0M1601.7 1422.6h0M1563.1 1482.5h0M1616.8 1509.8h0M1624.1 1488h0M1512.2 1515.1h0M1625.4 1493.6h0M1576.6 1407.2h0M1567.2 1492.7h0M1554.1 1476.3h0M1605.6 1443.4h0M1612.1 1509h0M1518.8 1513.5h0M1622.1 1481.8h0M1597.5 1515.1h0M1511.2 1515.3h0M1583.8 1449.2h0M1607.8 1487.7h0M1568.1 1485.8h0M1571.2 1509.4h0M1667.6 1486.5h0M1616 1357.3h0M1508.9 1515.8h0M1588.5 1390h0M1563.1 1501.8h0M1519.1 1500.1h0M1522.8 1506.1h0M1516.7 1511.1h0M1690.2 1494.4h0M1624.3 1449.8h0M1621.7 1413.1h0M1521.3 1498.5h0M1578.5 1514.5h0M1508.5 1516h0M1562.2 1500h0M1517.6 1512.8h0M1530 1489.8h0M1508.5 1516h0M1659.7 1499.8h0M1628.4 1404.6h0M1661.6 1472.5h0M1546.7 1500.4h0M1655.7 1412.9h0M1544.1 1499.7h0M1538 1514.8h0M1512.4 1511.3h0M1525.5 1491h0M1531.1 1510.2h0M1577.7 1503.8h0M1533.4 1477.8h0M1611.7 1397.7h0M1565.4 1435.8h0M1646.9 1428.2h0M1633.1 1510.7h0M1610 1466.5h0M1601 1442.2h0M1539.8 1514.7h0M1683.3 1496.1h0M1564.7 1496.5h0M1529.9 1495h0M1684 1472h0M1602.9 1488h0M1578.4 1487.2h0M1521.7 1514.1h0M1519.3 1501h0M1573.7 1502.5h0M1598.9 1365.3h0M1567.2 1508.6h0M1525.4 1514.7h0M1548.4 1512.8h0M1529.8 1510.7h0M1558.5 1449.2h0M1616.2 1469h0M1549.6 1491.5h0M1548.7 1502.3h0M1511.3 1515.2h0M1695.1 1495h0M1559.7 1476.6h0M1658.1 1485.7h0M1534.3 1509.9h0M1549.6 1496.3h0M1620.6 1377.4h0M1677.3 1512.9h0M1509.3 1515.3h0M1643.8 1445.7h0M1602.6 1516h0M1536 1476.2h0M1598.2 1403.5h0M1684.1 1474.3h0M1515.5 1515h0M1560.5 1470.9h0M1630.5 1400.5h0M1575.7 1446.2h0M1555.3 1486.1h0M1509.5 1514.9h0M1521.2 1497.9h0M1600.5 1488.4h0M1516.9 1514h0M1577.5 1453.9h0M1516.1 1515.5h0M1564.8 1477.2h0M1553.4 1506.5h0M1605.5 1515.1h0M1535.1 1502.6h0M1641.5 1409.9h0M1640.9 1446.8h0M1529.4 1511.1h0M1635.9 1399.7h0M1543.8 1515.3h0M1557.2 1474.4h0M1558.1 1503.7h0M1569.7 1427.6h0M1530.7 1515.4h0M1541 1501.5h0M1614.8 1496.4h0M1602.3 1423.8h0M1575.8 1503.1h0M1677.1 1463.8h0M1645.9 1486h0M1522 1502.1h0M1526 1489.3h0M1574.7 1504.5h0M1526 1508.3h0M1568.1 1425.8h0M1517.9 1512.1h0M1519 1499.2h0M1519.4 1515.5h0M1511 1515h0M1607.8 1384.2h0M1574.1 1406.4h0M1665.6 1464.1h0M1517.4 1502.9h0M1641.3 1512.4h0M1600.3 1480.1h0M1548.4 1502.7h0M1523.1 1516h0M1534 1506.9h0M1691.8 1495.8h0M1686 1481.6h0M1534.7 1485.3h0M1630.7 1459.5h0M1510.2 1515.1h0M1534.2 1479.3h0M1523 1510.6h0M1683.6 1511.5h0M1541.2 1478.5h0M1646.1 1511.2h0M1509.8 1515.9h0M1669.4 1476.2h0M1582.8 1414.3h0M1544.2 1506.6h0M1644 1414.7h0M1526.5 1499.1h0M1540.6 1507.4h0M1508.5 1516h0M1633.8 1418.5h0M1697.9 1512.1h0M1526.5 1506.6h0M1610.7 1359.5h0M1552.5 1505.4h0M1552.9 1491.6h0M1678.4 1487.3h0M1603.3 1422.9h0M1604.2 1414.9h0M1591.3 1488.8h0M1539.4 1504.5h0M1647.5 1506.4h0M1519.9 1504.4h0M1533.4 1514.6h0M1509.4 1515.4h0M1528.3 1484.1h0M1596.3 1372.2h0M1535.8 1514h0M1513.2 1513.4h0M1605.6 1469.2h0M1527.3 1507.7h0M1576.2 1458.3h0M1586.4 1420h0M1614.9 1504.5h0M1646.1 1476.3h0M1581.1 1488.1h0M1627.9 1493.9h0M1531.1 1510.7h0M1515.5 1506.7h0M1585.5 1490.9h0M1534.7 1472.6h0M1575.3 1501.3h0M1610.8 1432.8h0M1704.3 1498.3h0M1548.9 1469h0M1595.9 1392.5h0M1509.9 1515.6h0M1516.3 1514.6h0M1650.6 1417.9h0M1661.2 1457.5h0M1639.2 1452.6h0M1525.4 1497.9h0M1690.7 1499h0M1574.9 1466h0M1525.8 1509.4h0M1518.5 1514.1h0M1527.3 1502.5h0M1607.4 1497.2h0M1508.7 1515.9h0M1614.6 1497.9h0M1541.3 1509.8h0M1616.2 1447.9h0M1511.7 1515.7h0M1546.2 1492h0M1610.5 1507.8h0M1517.5 1507.9h0M1555.6 1503h0M1527.1 1487.5h0M1534.7 1498.7h0M1543.8 1500.4h0M1592.7 1375.7h0M1549.9 1508.4h0M1625.2 1493.8h0M1508.6 1515.9h0M1542.5 1476.3h0M1538.7 1475.9h0M1568.6 1507.1h0M1508.8 1515.8h0M1566.9 1434.2h0M1512.3 1513.1h0M1543.8 1496h0M1518.5 1513.2h0M1550.7 1455h0M1514.2 1512.9h0M1586.4 1393.7h0M1525.7 1514.1h0M1606.5 1359.4h0M1576.8 1512.9h0M1658.8 1455.4h0M1632.5 1422.5h0M1652.6 1495h0M1638 1488.9h0M1539.5 1477.8h0M1652 1491.8h0M1525.5 1508.9h0M1571.5 1490.9h0M1516.4 1514.1h0M1579.6 1419h0M1509.8 1515.2h0M1643.8 1511.6h0M1659.6 1500.2h0M1578.9 1471.3h0M1596.5 1489.4h0M1548.8 1488.2h0M1547.4 1483.9h0M1557.3 1493.1h0M1509 1515.6h0M1571.7 1501.9h0M1593.6 1424.8h0M1567.6 1506.2h0M1573 1509.9h0M1516.1 1512.5h0M1513 1513.8h0M1583.2 1513.4h0M1610.4 1508.7h0M1588.7 1430.4h0M1583 1512.5h0M1569.2 1492.3h0M1689.3 1493.9h0M1591.7 1377.5h0M1586 1426.5h0M1517.6 1501.3h0M1546.1 1458.2h0M1676.8 1490.6h0M1586.7 1401.8h0M1511.4 1515h0M1635.1 1497.7h0M1661.7 1475.1h0M1651.5 1497.5h0M1548.6 1458.6h0M1525.8 1511.6h0M1571.8 1495.9h0M1509.8 1515.8h0M1515.7 1505.4h0M1573.1 1428.1h0M1517.3 1506.5h0M1514.5 1512.4h0M1595.6 1484h0M1631.7 1436.6h0M1560.1 1447.7h0M1512.1 1510.1h0M1592.4 1481.5h0M1637.8 1482.9h0M1655.1 1416.3h0M1536.4 1487h0M1564.6 1506.9h0M1639.4 1510.6h0M1644.1 1483h0M1562.7 1427.9h0M1571.1 1463.8h0M1545 1515.9h0M1509.7 1515.8h0M1587.8 1479.4h0M1550.8 1458.4h0M1517.4 1514.1h0M1617.7 1513.9h0M1508.5 1516h0M1514.5 1513.8h0M1524.2 1505.1h0M1593.4 1499.8h0M1587.1 1475h0M1514 1507.9h0M1531.8 1512.9h0M1512.7 1512.7h0M1612 1404.5h0M1554.8 1504.2h0M1508.7 1515.9h0M1581.2 1490.1h0M1592.9 1475.7h0M1628.6 1399.4h0M1522.7 1496.4h0M1509.9 1515.1h0M1556.2 1505.2h0M1510.3 1514.1h0M1508.7 1515.9h0M1685.9 1493.2h0M1521.5 1506.5h0M1559.7 1475.4h0M1648.6 1493.5h0M1539.1 1506.9h0M1509.7 1514.3h0M1601.5 1429.1h0M1508.6 1515.9h0M1611.7 1463.5h0M1611.9 1465.3h0M1529.8 1514h0M1531.5 1515.2h0M1533.9 1490.5h0M1578.4 1430.1h0M1617.4 1488h0M1575.9 1484.5h0M1616.6 1451.8h0M1527.9 1500.6h0M1685.3 1479.9h0M1679.9 1513.8h0M1533 1510.5h0M1579.2 1409.8h0M1621.3 1479.1h0M1652.8 1468.5h0M1521.8 1497.4h0M1576.9 1455.2h0M1566.3 1422.9h0M1547.5 1468.7h0M1578 1428.4h0M1547 1479.3h0M1584.7 1492.8h0M1522.5 1505.4h0M1511 1512.5h0M1519.9 1515.7h0M1512.4 1510.3h0M1547.9 1511h0M1509.5 1516h0M1590.8 1452h0M1585.3 1440.9h0M1511 1514.3h0M1535.6 1484.6h0M1594.4 1400.1h0M1510.5 1513.4h0M1604.9 1371.3h0M1515.1 1514.7h0M1516.2 1515.8h0M1605.4 1404.9h0M1570.5 1443h0M1598.4 1490.7h0M1514.8 1515.5h0M1632.3 1492.3h0M1538.2 1502.6h0M1509.1 1515.9h0M1528.7 1497.2h0M1547.7 1503.4h0M1656.6 1432.4h0M1622 1430.9h0M1509.4 1515.6h0M1545.5 1476.9h0M1536.1 1490.8h0M1582.1 1501h0M1668.4 1503.2h0M1650.6 1493.8h0M1508.5 1516h0M1579.5 1402h0M1508.5 1516h0M1551.8 1467.9h0M1521 1509.1h0M1533.5 1486.2h0M1523.2 1494h0M1536.7 1510.3h0M1600.3 1464.9h0M1513.7 1511.9h0M1511.4 1512.8h0M1582.3 1435.7h0M1594.1 1485h0M1551.2 1498.4h0M1676.7 1503.3h0M1681.5 1512.3h0M1525.5 1511.7h0M1642.6 1440.9h0M1535.7 1479.8h0M1526.7 1506.9h0M1558.9 1464.8h0M1600.9 1442h0M1544.5 1504.2h0M1515.9 1507h0M1579.3 1445.9h0M1519.9 1510.6h0M1609.5 1447h0M1515.7 1512.4h0M1662 1481.3h0M1523.4 1511.6h0M1579.7 1428.8h0M1520.2 1514.3h0M1530.1 1508.9h0M1581.1 1505.4h0M1544.1 1509.8h0M1636.4 1393h0M1512 1510.5h0M1514 1513.8h0M1631.4 1380.1h0M1611.3 1468.1h0M1520.9 1506.3h0M1515.1 1514.7h0M1558.3 1514.6h0M1540.3 1481.1h0M1599 1465.4h0M1589.3 1475.2h0M1516.3 1510.3h0M1542.4 1482.6h0M1650.5 1450.8h0M1565.3 1458.9h0M1559.1 1505.1h0M1580.3 1421.3h0M1601 1432.4h0M1617.1 1422.3h0M1591.6 1475.1h0M1533.6 1496.7h0M1513.6 1513.7h0M1601.6 1429.5h0M1599.9 1494.1h0M1553 1494h0M1590 1480.8h0M1570.5 1425.5h0M1519.5 1507h0M1624.2 1469.2h0M1545.2 1457.4h0M1509.6 1515.3h0M1516.7 1507.2h0M1649.7 1433h0M1513.3 1512.8h0M1561.8 1466h0M1560.6 1474.9h0M1625.2 1447h0M1537.4 1472.3h0M1521.7 1504.5h0M1540.3 1483.1h0M1513 1508.6h0M1551.6 1513.9h0M1532.5 1505.9h0M1508.8 1515.9h0M1545.6 1482.6h0M1546.4 1506.3h0M1522.5 1502.2h0M1648.8 1431.8h0M1521.3 1501.6h0M1554.4 1506.9h0M1514.4 1509.7h0M1612.5 1435h0M1556.8 1484.3h0M1520.1 1497.9h0M1538.4 1492.5h0M1600.1 1410h0M1565.6 1499.5h0M1588.1 1507.1h0M1639.5 1468.7h0M1650.7 1479.2h0M1550.6 1505.7h0M1561.3 1506.9h0M1508.5 1516h0M1535.9 1509.6h0M1534.9 1502.1h0M1548.4 1484.7h0M1600.2 1482h0M1615.6 1382h0M1510.2 1514h0M1618 1397.5h0M1514.9 1508.3h0M1613.1 1514.7h0M1508.6 1515.8h0M1605.7 1492.7h0M1514.8 1515.2h0M1522.9 1500.6h0M1547.9 1510.5h0M1617 1396.7h0M1516.5 1505.3h0M1568.9 1451h0M1571.6 1430.4h0M1593.4 1413.2h0M1520.5 1505.4h0M1559.3 1465.7h0M1542.4 1471.1h0M1583.6 1496.8h0M1530.6 1513.2h0M1578.8 1512.5h0M1570.5 1507.9h0M1562.6 1485.9h0M1555.6 1456.1h0M1508.6 1515.9h0M1556.6 1484.4h0M1574.2 1436.1h0M1546.5 1499.1h0M1698.1 1503.6h0M1581 1459.3h0M1509.2 1515.5h0M1571.4 1423.9h0M1528.7 1483.3h0M1566.3 1485h0M1683.4 1510.9h0M1596 1449.3h0M1531.9 1486.2h0M1543.8 1497.6h0M1557.4 1464.6h0M1524.3 1508.6h0M1550 1489.3h0M1642.7 1477.4h0M1634.2 1462.7h0M1573.1 1499h0M1547.1 1454.4h0M1575.3 1442.5h0M1542 1505.4h0M1532.7 1499.2h0M1572.7 1446.5h0M1509.6 1515h0M1635.2 1436.3h0M1510.5 1515.4h0M1508.6 1516h0M1637.1 1421.6h0M1576 1442.2h0M1634.4 1423h0M1578 1462.8h0M1593.8 1455.3h0M1613.6 1495.1h0M1596.3 1472.3h0M1640.8 1504.2h0M1524.4 1515.5h0M1585.8 1406.8h0M1599.1 1481.7h0M1603.1 1413.2h0M1585.3 1496.9h0M1535.9 1503.7h0M1538 1502.4h0M1565.7 1431.9h0M1510.4 1514.7h0M1510 1515.8h0M1617.1 1442.5h0M1651.5 1447.1h0M1508.8 1515.9h0M1559 1441.2h0M1663.3 1435.1h0M1561.1 1511.3h0M1605.3 1496.8h0M1520.8 1515.8h0M1508.5 1516h0M1513.1 1508.8h0M1511.6 1512h0M1518.1 1515.9h0M1620.7 1490.1h0M1627.6 1495.4h0M1509.9 1514.5h0M1580.6 1425.6h0M1633.4 1506.8h0M1575.7 1454.1h0M1543.4 1464.9h0M1522.3 1494.4h0M1634.9 1514.8h0M1508.8 1515.8h0M1656.9 1505.7h0M1531.5 1493.8h0M1516.5 1505.8h0M1577.3 1512.4h0M1541.7 1493.5h0M1548.7 1481.5h0M1515.4 1508.3h0M1539.5 1491.3h0M1591.2 1479.4h0M1538.9 1483h0M1625.1 1389.7h0M1584.7 1494.1h0M1510.1 1513.5h0M1580.7 1430.5h0M1536.4 1495.7h0M1626.5 1375.2h0M1590.9 1490.8h0M1541.1 1472.3h0M1540.3 1488.3h0M1562.3 1442.7h0M1638.8 1480h0M1508.5 1516h0M1549.1 1487.8h0M1594.2 1401.4h0M1509.6 1514.7h0M1595 1404.8h0M1586.6 1495.2h0M1606.4 1404.9h0M1572.8 1425.3h0M1549.4 1513h0M1560.3 1458.4h0M1520.2 1504.2h0M1674.6 1479.1h0M1573.8 1459.9h0M1568 1504.5h0M1525.3 1499.1h0M1621.9 1459.3h0M1511.7 1512.3h0M1633.9 1488.3h0M1559.3 1446.6h0M1637.2 1439.8h0M1557 1482h0M1524.1 1513.2h0M1518.9 1506.6h0M1541.3 1494.4h0M1548.1 1492.9h0M1520.3 1515.6h0M1677.8 1450.7h0M1513.4 1512.2h0M1643.3 1496.9h0M1588.4 1488.1h0M1586 1514.7h0M1509.1 1514.9h0M1636.1 1447.3h0M1586.2 1496.4h0M1621.7 1464.7h0M1627.1 1392.2h0M1588.7 1390.9h0M1534.8 1515.2h0M1525.6 1513.1h0M1513.4 1515.8h0M1557.6 1452.5h0M1542.6 1464.5h0M1684.3 1506.2h0M1586 1483.8h0M1513 1509h0M1528.1 1503.1h0M1564.4 1430.1h0M1600.6 1478.2h0M1566.3 1507.6h0M1608.4 1351h0M1529.9 1515.3h0M1530.8 1508h0M1606.6 1380h0M1665 1509.7h0M1602.5 1429.3h0M1563.6 1426.2h0M1511.1 1515.7h0M1581.2 1408h0M1607.6 1486.8h0M1567.5 1455.6h0M1514.5 1514.1h0M1534.1 1513.2h0M1572.5 1506.1h0M1531.1 1513.1h0M1624.5 1514.8h0M1623.2 1495.2h0M1509.3 1514.9h0M1520 1499h0M1602.2 1390.3h0M1517 1511.9h0M1511.9 1511.1h0M1619.3 1430.9h0M1561.3 1497.9h0M1627.4 1453.5h0M1605.2 1503.5h0M1529.7 1515h0M1599.7 1457.5h0M1515 1507.6h0M1531.3 1506.1h0M1519.6 1513.1h0M1642.5 1470.9h0M1519.3 1510.1h0M1529 1487.6h0M1512.6 1509.4h0M1510.1 1513.9h0M1610.7 1495.8h0M1567.6 1499.5h0M1533.1 1511.4h0M1531.7 1477.8h0M1620.4 1354.3h0M1514 1514.5h0M1680.9 1507.5h0M1619 1484.1h0M1709.5 1513.3h0M1634.3 1472.7h0M1519.5 1516h0M1625.5 1445.9h0M1521.6 1509.9h0M1670.8 1482.7h0M1592.6 1505.6h0M1518.3 1505.7h0M1621.7 1495.3h0M1513 1515.7h0M1583.2 1474.8h0M1535.4 1510.8h0M1573.2 1456.6h0M1616.8 1441.3h0M1526.9 1515h0M1612.9 1471.1h0M1633.2 1510.1h0M1635.6 1473.1h0M1600.1 1399h0M1580.4 1515.1h0M1646.8 1443.5h0M1656.2 1478h0M1518.3 1504.3h0M1551.2 1509.6h0M1541.7 1492.4h0M1508.5 1516h0M1554.7 1489.1h0M1514.1 1510.7h0M1595.9 1404.1h0M1533 1493.3h0M1539.2 1485h0M1510.3 1513.7h0M1655.1 1435.2h0M1565 1481.8h0M1590.1 1514.6h0M1685.3 1478.7h0M1524 1514.6h0M1524 1498.1h0M1509.5 1515.9h0M1618.8 1496h0M1508.8 1515.8h0M1576.1 1475.9h0M1625.4 1505.4h0M1617.2 1414.1h0M1510.4 1515.8h0M1562.9 1485.6h0M1537.5 1512.8h0M1558.9 1509.8h0M1562.7 1447.3h0M1516.9 1510.3h0M1632.4 1497.4h0M1591.8 1392.6h0M1548.5 1498.1h0M1627.1 1445.1h0M1536 1474.9h0M1627.5 1475.4h0M1529 1509.1h0M1539.1 1466.6h0M1590.4 1400.6h0M1597.1 1406.7h0M1510.4 1514.9h0M1612.8 1362.5h0M1529 1506.8h0M1594.6 1483.9h0M1586.6 1511.3h0M1553 1490.8h0M1509.1 1515.9h0M1630.6 1386h0M1638.1 1415.4h0M1593.3 1403.2h0M1679.6 1511h0M1601.7 1492.1h0M1609.4 1489.2h0M1553.4 1451.3h0M1598.1 1494.5h0M1570 1487.5h0M1674.6 1469.3h0M1532.4 1496.8h0M1514.6 1511.6h0M1653.8 1431.8h0M1530.8 1504.6h0M1584 1505.9h0M1517 1515h0M1535 1504.7h0M1536.9 1509.4h0M1512.5 1513.5h0M1620.3 1433.7h0M1569.2 1466.9h0M1520.7 1504.8h0M1556 1485.9h0M1585.3 1476.6h0M1540.3 1508.7h0M1524.7 1506.6h0M1543.6 1491.7h0M1508.7 1515.9h0M1655.9 1482.6h0M1574 1480.2h0M1524.6 1489.7h0M1529.1 1494.3h0M1521.3 1515.3h0M1641.2 1453.3h0M1511.1 1515h0M1547.1 1478.4h0M1515.2 1514.6h0M1632.3 1394.4h0M1519.1 1512.4h0M1537.5 1491.2h0M1566.6 1443.9h0M1623.8 1448.5h0M1591.9 1433.3h0M1614.1 1460.9h0M1602.4 1429.6h0M1679.9 1496.5h0M1678.2 1515.4h0M1607.5 1447.2h0M1546.5 1456.7h0M1580.1 1484.3h0M1590.2 1409.9h0M1588.7 1484.5h0M1557.5 1491.6h0M1618.3 1484.4h0M1545.4 1492.2h0M1550.3 1502.5h0M1592.4 1412h0M1565.9 1488.5h0M1522.5 1511.8h0M1516.7 1510.4h0M1597.2 1509.2h0M1663.2 1465.9h0M1602.5 1402.2h0M1684.8 1482.4h0M1540.2 1471.6h0M1508.7 1516h0M1575.2 1479h0M1621.6 1396.3h0M1549.8 1446.9h0M1566.2 1482.3h0M1604 1477.3h0M1539.9 1493.7h0M1531.4 1481.4h0M1594.3 1464.8h0M1513.8 1514h0M1546.7 1491h0M1559.4 1448.9h0M1658.4 1435.2h0M1550.5 1484h0M1680.8 1456.2h0M1556.2 1460.8h0M1520.9 1512.1h0M1627.2 1375.9h0M1581 1508.9h0M1624.3 1413.7h0M1586.9 1387h0M1646.7 1454.3h0M1519.6 1512.9h0M1565.7 1483.6h0M1524 1513.4h0M1581.5 1463.1h0M1530.6 1479.4h0M1612.5 1512.2h0M1541.9 1479.6h0M1531.7 1495.4h0M1508.5 1516h0M1622.7 1436.6h0M1611.5 1497.2h0M1561.6 1481.9h0M1527.9 1500.4h0M1549.1 1448.3h0M1580.8 1484.6h0M1516.7 1514.8h0M1639.6 1503.6h0M1672.5 1377.9h0M1677.1 1415.5h0M1695.7 1451.1h0M1619.3 1350.7h0M1698.5 1436h0M1686.1 1445.7h0" stroke="#000" stroke-width="7.2" stroke-linecap="round" fill="none"/>
<path d="M1628 1323.2h0M1698.2 1249.2h0M1701 1233.3h0M1619.5 1329.9h0M1696.7 1205.7h0M1692.3 1215.4h0M1639.4 1311.1h0M1690.6 1323.3h0M1680.5 1238.7h0M1670.4 1261.9h0M1687.6 1331.2h0M1708.1 1238.6h0M1681.7 1263.7h0M1639.4 1297.1h0M1714.8 1177.6h0M1696.5 1285.6h0M1700.5 1197.8h0M1708.5 1235.2h0M1705.5 1253.9h0M1653 1298.2h0M1690.1 1214.8h0M1694.2 1286.6h0M1694.7 1255.9h0M1642.3 1298.1h0M1654.2 1277.9h0M1714.7 1170.5h0M1672.7 1242.3h0M1677.5 1247.2h0M1655.7 1270.1h0M1682.5 1319.1h0M1655.6 1279.2h0M1642.3 1307.2h0M1638 1299.2h0M1687.5 1224.3h0M1671.7 1313.4h0M1632.4 1324.5h0M1700.6 1194.4h0M1695.9 1263.1h0M1697.8 1199.7h0M1683.5 1278.9h0M1703.4 1274.7h0M1698.8 1304.3h0M1669.7 1252.3h0M1662 1261.4h0M1689.7 1216.9h0M1710.6 1183.1h0M1657.2 1276.3h0M1679.3 1234.2h0M1704.4 1187.9h0M1682.6 1250.8h0M1683.5 1293.4h0M1680.7 1273.3h0M1678 1241.3h0M1654.7 1272.4h0M1687.3 1309.7h0M1677.3 1284.5h0M1655.4 1321.7h0M1669.2 1277.4h0M1644.7 1288.7h0M1651 1286.2h0M1671.1 1318.6h0M1657.1 1291.3h0M1713.1 1181.5h0M1713.2 1186h0M1636.5 1317.6h0M1662 1335.6h0M1687.7 1224.5h0M1682.5 1268.4h0M1688.7 1218.2h0M1703.8 1192.4h0M1680.7 1230.5h0M1692.1 1320.6h0M1703.1 1212.1h0M1617.6 1333.7h0M1635.3 1312.4h0M1657.6 1287.6h0M1630 1333.9h0M1681.6 1228.9h0M1706.3 1193.6h0M1690.5 1215.2h0M1685.4 1264.5h0M1649.3 1279.6h0M1709.7 1194.5h0M1643.2 1290.6h0M1707.8 1191.1h0M1626.6 1332.5h0M1678.2 1321.3h0M1695 1303.9h0M1691.6 1209.4h0M1691.5 1219h0M1707.4 1209.7h0M1643.6 1291.5h0M1712.9 1174.9h0M1713.4 1177.7h0M1707.1 1211.3h0M1687.7 1230.7h0M1665.4 1331.2h0M1674.8 1265.7h0M1710 1178.1h0M1692.6 1207.2h0M1704.8 1217.6h0M1664.9 1295h0M1715.4 1170.9h0M1674 1245.4h0M1635.1 1330.3h0M1659.9 1268.6h0M1647.8 1286.3h0M1700.3 1216.9h0M1644.6 1299.1h0M1678.4 1250.4h0M1711.7 1176.7h0M1694.8 1288.3h0M1657.8 1315.9h0M1690 1282.3h0M1695.8 1244.7h0M1668.7 1311.1h0M1685.6 1235.8h0M1708.2 1206.5h0M1635.6 1320.7h0M1655 1277.6h0M1630 1330.2h0M1673.5 1306.2h0M1661.2 1262.2h0M1664.4 1283.9h0M1654 1277.1h0M1620.5 1328.2h0M1716.9 1166.9h0M1669 1326h0M1715.9 1169h0M1649.2 1321.7h0M1661.7 1264.6h0M1669.6 1245.6h0M1712.4 1179.6h0M1707.8 1230.7h0M1684.4 1226.4h0M1641.4 1297.6h0M1672.6 1335.9h0M1702.6 1193.6h0M1667.2 1308.2h0M1713.2 1192.5h0M1680.1 1311.2h0M1708.8 1195.2h0M1651 1283.5h0M1701.5 1196.1h0M1672.8 1276.2h0M1692.7 1276h0M1638.3 1298.8h0M1690.2 1241.4h0M1707.5 1197.1h0M1715 1182.1h0M1679.1 1254.1h0M1640.1 1313.2h0M1674.2 1238.9h0M1686.2 1220.2h0M1705.8 1263.1h0M1622.7 1325h0M1662.3 1263.7h0M1688.4 1214.1h0M1711.6 1193.4h0M1699.8 1202.8h0M1675 1291.1h0M1677.3 1250.6h0M1663.8 1281.4h0M1704.1 1224h0M1707.7 1182.3h0M1660.6 1288.9h0M1678.8 1242h0M1634.7 1306.5h0M1663.9 1284h0M1716.5 1170.5h0M1714.6 1189.1h0M1714.9 1172.2h0M1697.8 1198.6h0M1696.4 1222.2h0M1669.1 1288.7h0M1713.7 1173.8h0M1685 1227.3h0M1696.2 1280.6h0M1621.7 1335.9h0M1691.6 1221.8h0M1663.2 1325.8h0M1674.9 1275.6h0M1674.9 1267.8h0M1680.6 1241.8h0M1629.9 1320.7h0M1709.5 1184.8h0M1686.2 1321.1h0M1640.9 1296.3h0M1672.8 1247.7h0M1681.4 1255h0M1664.4 1301h0M1651.5 1320.9h0M1675 1237.6h0M1656.3 1269.2h0M1697.7 1263.7h0M1693.5 1244.3h0M1692.6 1208.1h0M1716.8 1167.1h0M1682.2 1322.9h0M1657 1272.1h0M1714.5 1172.5h0M1694.6 1204.9h0M1694.1 1204.7h0M1651.4 1299.2h0M1652.1 1338.1h0M1645.2 1303.4h0M1693.3 1216.8h0M1710.2 1185h0M1708.4 1187.9h0M1714.5 1180h0M1676.1 1311.3h0M1686.1 1280.9h0M1704.6 1221.5h0M1641.6 1319.2h0M1711.1 1211.5h0M1688.4 1214.3h0M1676.8 1234.9h0M1698.1 1244.6h0M1693.6 1321h0M1686.6 1222.4h0M1652.6 1306.9h0M1706.4 1193.9h0M1624.9 1320.8h0M1679.2 1321.4h0M1660.1 1308.3h0M1677.4 1289.9h0M1655.1 1274h0M1708.4 1187.3h0M1704.3 1219.9h0M1712 1174.5h0M1651.4 1280.8h0M1700.5 1252.8h0M1696.6 1200.5h0M1684.1 1308.8h0M1690.2 1221.7h0M1665 1257.4h0M1704.2 1192.6h0M1709.1 1187.8h0M1634.6 1327.5h0M1693.1 1302.8h0M1674.7 1237.5h0M1644.9 1311h0M1681.1 1258.8h0M1663.6 1272.8h0M1650 1339.7h0M1647.9 1282.3h0M1707.3 1260.2h0M1621.5 1332.8h0M1686.6 1223.2h0M1662.5 1292.8h0M1666.6 1294.8h0M1706.7 1248.2h0M1716.5 1166.9h0M1696.9 1242.5h0M1711.4 1187.9h0M1694.6 1229.8h0M1658.2 1277.1h0M1710.4 1201.4h0M1713.8 1176.3h0M1684.3 1287.5h0M1697.9 1211.1h0M1685.2 1229.4h0M1679.7 1244.2h0M1633.7 1330.2h0M1705 1284.1h0M1672.3 1256.4h0M1644.9 1298.1h0M1651.7 1279.5h0M1683.6 1339.5h0M1673.4 1261.3h0M1677.9 1241.1h0M1631.5 1311.1h0M1653.7 1287.9h0M1698 1213.4h0M1711.7 1176.5h0M1712 1179.3h0M1626.4 1326.7h0M1709.6 1239h0M1687.7 1278.2h0M1697.7 1265.7h0M1645.7 1328.9h0M1707.9 1183.2h0M1639.9 1295.6h0M1639 1311.9h0M1688.7 1217.3h0M1658.6 1270.7h0M1703.5 1235.1h0M1682.9 1227.2h0M1711.5 1212.1h0M1676.3 1235.4h0M1710.9 1198.9h0M1650.9 1281h0M1658.9 1307.8h0M1709.7 1187.3h0M1709.8 1179h0M1684.3 1283.5h0M1687.9 1227h0M1688.8 1221.8h0M1639.1 1330.7h0M1657.3 1332.8h0M1666.8 1282.1h0M1679.3 1236h0M1661.3 1259.5h0M1712.1 1178.6h0M1716 1167.7h0M1697.2 1233.2h0M1648.6 1283.1h0M1632.5 1313.4h0M1693.4 1206.3h0M1702 1198.1h0M1686.5 1246.3h0M1690.8 1243.5h0M1681.7 1235.3h0M1692.9 1210.9h0M1703.6 1216.1h0M1696.9 1204.8h0M1712.8 1205.4h0M1666.4 1261.3h0M1705.5 1249h0M1626.7 1317.6h0M1686 1257.4h0M1697.6 1205.1h0M1716.3 1167.3h0M1692.3 1208.2h0M1619.3 1335.9h0M1646.6 1330.2h0M1673.4 1243.4h0M1712.1 1176.1h0M1633.2 1314.6h0M1710.1 1211.5h0M1630.1 1312.3h0M1696.2 1204.4h0M1716 1168.6h0M1685.1 1229.3h0M1701.5 1200.5h0M1697.2 1284h0M1671.9 1321.9h0M1660.5 1329.3h0M1696.5 1270.3h0M1652.2 1330.2h0M1701 1268.9h0M1713.8 1175.1h0M1643.8 1301.5h0M1657.3 1294.8h0M1642.3 1300.2h0M1702.6 1207.7h0M1705.2 1288.4h0M1663.5 1302.8h0M1687.8 1313.3h0M1705 1188.4h0M1707.3 1209h0M1653.2 1291.2h0M1701.2 1255.7h0M1669.8 1312.4h0M1685.3 1236h0M1703.7 1239.2h0M1691.8 1304h0M1688.3 1277.6h0M1703.8 1189.4h0M1715 1189.3h0M1644.1 1288.6h0M1699.4 1321.2h0M1689 1339.1h0M1674.3 1314.3h0M1627.7 1323.7h0M1684.8 1221.1h0M1699 1281.2h0M1708.1 1215.2h0M1715.2 1169.1h0M1683.7 1299.6h0M1685 1219.9h0M1669.8 1252.3h0M1659.2 1265.3h0M1699.8 1337.3h0M1694.8 1285.3h0M1650 1319.6h0M1646.6 1316.9h0M1671 1309.4h0M1674.4 1314.8h0M1666.5 1253h0M1668.3 1278.8h0M1710.1 1179.7h0M1700.8 1303h0M1711.3 1186h0M1645.4 1292.9h0M1641.4 1294.4h0M1645.9 1333.2h0M1675.9 1269.2h0M1650.8 1277.2h0M1698.6 1220.2h0M1685 1245.4h0M1711.4 1219.8h0M1710.7 1187.6h0M1663 1270.8h0M1705.5 1267.3h0M1665 1272.9h0M1658 1268.9h0M1717.1 1165.8h0M1706.8 1234.2h0M1669.3 1296.1h0M1657.9 1274.7h0M1635.9 1306h0M1710.3 1193h0M1707.8 1181.5h0M1689.8 1219.1h0M1692.3 1227.5h0M1703.3 1285.4h0M1668 1340.6h0M1706.4 1191.2h0M1710.3 1237h0M1669.5 1299.7h0M1695.3 1210.5h0M1692.9 1215.9h0M1686.9 1248.5h0M1688.2 1222.1h0M1690.8 1230.5h0M1667.4 1301.6h0M1696 1294.3h0M1689.8 1257.8h0M1680.2 1249.3h0M1639 1302h0M1712 1178.2h0M1682.6 1248.9h0M1699.5 1198.2h0M1684 1310.5h0M1684.2 1260.1h0M1712 1195.7h0M1703.6 1188.7h0M1693.2 1273.9h0M1698.8 1197.4h0M1637.1 1313.8h0M1638.8 1322.7h0M1702.9 1200h0M1661.2 1261.4h0M1707.1 1271.4h0M1692.9 1218.9h0M1694.8 1256.9h0M1693.1 1207.8h0M1689.6 1221.5h0M1671.5 1249.5h0M1661.5 1275.8h0M1652.8 1274h0M1662.5 1305.6h0M1624.2 1330.6h0M1691 1214.9h0M1652.9 1284h0M1700.3 1194.6h0M1704.4 1229.3h0M1651.7 1305.4h0M1704.1 1201.9h0M1652.1 1275.6h0M1669 1263.2h0M1690.9 1215.9h0M1681.5 1269.3h0M1700.7 1198.7h0M1675.6 1273.2h0M1709.9 1178.7h0M1715.8 1170.5h0M1680.5 1275.5h0M1648.1 1283h0M1696.4 1208.3h0M1681.4 1248.6h0M1712.6 1182.8h0M1652.7 1336.3h0M1674.9 1259.7h0M1704 1193.6h0M1700.8 1257.8h0M1674.6 1263.7h0M1697.8 1251.1h0M1700.8 1223.3h0M1655.1 1270.4h0M1694.8 1221.6h0M1706.6 1205.9h0M1632.1 1320h0M1679.7 1327.2h0M1625.1 1322.9h0M1700.2 1208.7h0M1663.6 1331.1h0M1695.1 1216.1h0M1664.6 1331.2h0M1678.2 1267.5h0M1717.2 1165.8h0M1704.4 1187.9h0M1668.2 1282.2h0M1699.3 1339.7h0M1649.1 1292.6h0M1652.4 1285.9h0M1707.4 1190.2h0M1677 1251.2h0M1630.7 1331.8h0M1711.6 1188.8h0M1703.8 1190.6h0M1634.6 1305.3h0M1677.4 1246.7h0M1676.4 1259.4h0M1681.2 1238.4h0M1697.9 1200.3h0M1711.7 1179.6h0M1631.3 1331.8h0M1678.4 1247.3h0M1678.2 1241.7h0M1685.8 1292.8h0M1679.4 1289.7h0M1704.2 1200.1h0M1703.4 1261.1h0M1699 1262.8h0M1640.7 1330.6h0M1679.9 1228.7h0M1703.1 1189.6h0M1677.4 1236.3h0M1711.9 1179.1h0M1702.2 1200.4h0M1698.5 1222.7h0M1648.8 1289.1h0M1701.1 1193.8h0M1709.3 1179.9h0M1625.3 1323.1h0M1712.3 1203.3h0M1682.6 1268.1h0M1695.5 1295.6h0M1685.9 1220.5h0M1665.2 1330.8h0M1680.5 1333.4h0M1649.6 1289.3h0M1679.6 1238.7h0M1673.4 1242.5h0M1709.4 1180.9h0M1701.4 1193.3h0M1713.4 1200.7h0M1654 1272.1h0M1679.3 1274.2h0M1662.1 1301.6h0M1646 1324.3h0M1695.1 1213.1h0M1684.7 1221.8h0M1699.9 1195.6h0M1716 1178.9h0M1712.9 1176.1h0M1654.8 1289.8h0M1698.4 1209.2h0M1710.1 1177.8h0M1699.3 1255.8h0M1688.5 1236h0M1625.6 1325.3h0M1694.7 1293.2h0M1702.4 1192.6h0M1709.5 1178.7h0M1708.9 1235.8h0M1701.4 1280.4h0M1681.7 1225.7h0M1664 1282.4h0M1679.8 1297.4h0M1680.8 1309.4h0M1644.9 1288.5h0M1672.2 1242.8h0M1697.4 1244.1h0M1685.4 1236.4h0M1645.6 1334.8h0M1662.6 1323.7h0M1658.4 1317.6h0M1782.1 1278.9h0M1751.9 1224.5h0M1794.5 1311h0M1780.3 1282.6h0M1729.8 1187.7h0M1805.5 1314.6h0M1729.8 1186.7h0M1766.7 1253.8h0M1804.6 1320.1h0M1799.3 1312h0M1766.7 1251.9h0M1797.4 1306.1h0M1799.5 1305.1h0M1788.7 1298.7h0M1764 1252.8h0M1808.9 1338.1h0M1765.9 1255.2h0M1758.6 1240.8h0M1790.9 1300.6h0M1803.2 1313.8h0M1814.1 1335.3h0M1766.1 1250h0M1728.7 1184.7h0M1760.3 1239.4h0M1755.7 1236.4h0M1747.4 1216.2h0M1790.7 1297.7h0M1719.1 1168.5h0M1754 1232.4h0M1735.9 1198h0M1736.1 1198.7h0M1725.6 1179.4h0M1723.2 1176h0M1778.8 1269.4h0M1789.5 1297.8h0M1750.4 1221.8h0M1784.9 1280.4h0M1799.2 1306h0M1779.2 1282.7h0M1717.6 1166h0M1768.6 1256.7h0M1737.9 1204.2h0M1741.4 1209.1h0M1795 1305.9h0M1732 1192.5h0M1804.3 1324.6h0M1784.2 1279.6h0M1720.6 1171.5h0M1743.5 1210.1h0M1733.3 1195.6h0M1726.4 1182.2h0M1733.2 1194.9h0M1758 1237.3h0M1733.9 1196.1h0M1730.4 1188.1h0M1721.1 1172.3h0M1722.9 1175h0M1720.3 1171h0M1787.9 1296.6h0M1795.9 1300.1h0M1772.5 1260.5h0M1764.7 1254.4h0M1747.5 1220.6h0M1775.1 1272h0M1737.2 1201.7h0M1722.8 1175.7h0M1778.9 1269.6h0M1750.1 1226.4h0M1781.6 1281.2h0M1732.8 1194.2h0M1815.6 1340h0M1819.1 1337.9h0M1736 1198.4h0M1756.5 1234.8h0M1785.2 1282h0M1778.2 1278.8h0M1755.8 1232.2h0M1809.8 1325.3h0M1747 1217.9h0M1749.4 1224.9h0M1802 1319.6h0M1807.9 1333.5h0M1800.1 1308.5h0M1721.5 1172.9h0M1790 1301.5h0M1753.8 1233.8h0M1777 1271.6h0M1721.7 1173.2h0M1718.5 1167.5h0M1734.7 1195.2h0M1668 1248.4h0M1794.3 1310h0M1752.7 1261.1h0M1694.3 1296.8h0M1727.4 1323.1h0M1717.7 1189.6h0M1773.3 1274.7h0M1721 1184.1h0M1741.5 1327.4h0M1770.7 1262.9h0M1739 1277.3h0M1707.8 1230h0M1735.1 1249.2h0M1717.3 1181.8h0M1780.8 1277h0M1783.6 1330.8h0M1721.2 1221h0M1746.4 1262.3h0M1722.5 1184.6h0M1693 1209.3h0M1666.2 1283.8h0M1721.2 1173.7h0M1733.2 1315.4h0M1677.2 1239.7h0M1748.9 1272h0M1700.9 1228.3h0M1707 1207.1h0M1709.8 1245.4h0M1632.4 1348.5h0M1666.5 1357.6h0M1679.2 1342.4h0M1671.1 1353h0M1743.2 1363.3h0M1714.7 1388h0M1683.5 1374.3h0M1710.2 1342.8h0" stroke="#ff00ff" stroke-width="7.2" stroke-linecap="round" fill="none"/>
<path d="M1924.7 1512.2h0M1890.3 1509.1h0M1805.2 1502.9h0M1870.5 1508.8h0M1776.1 1515.5h0M1844 1506.1h0M1885.1 1513.9h0M1749.6 1511.7h0M1901.7 1515.5h0M1872.6 1515.4h0M1783.1 1515.9h0M1781.5 1513.5h0M1923.5 1510.2h0M1757.9 1514.3h0M1915.7 1515.2h0M1786.8 1512.8h0M1741.2 1514.8h0M1801.7 1513.5h0M1920.2 1514.7h0M1767.5 1504.2h0M1818 1505.8h0M1856.4 1507.1h0M1783.9 1515.5h0M1878.3 1512.4h0M1838.7 1509.2h0M1876.1 1514.6h0M1800.8 1504h0M1829.4 1514.5h0M1850.4 1514.8h0M1879.2 1516h0M1893.7 1511h0M1799.2 1503.5h0M1774 1514.9h0M1735.2 1511.2h0M1879.6 1509h0M1809.8 1506.5h0M1742 1514.3h0M1860.5 1502.8h0M1854.7 1508.8h0M1881.4 1513.4h0M1919.4 1507.8h0M1790.8 1513.4h0M1887.6 1513.9h0M1763.1 1505.1h0M1831.6 1511.7h0M1864.8 1504.4h0M1746.9 1514h0M1733.3 1513.1h0M1829.1 1505.5h0M1860.6 1510.8h0M1805.3 1510.8h0M1781.2 1505.7h0M1888.8 1505.8h0M1753.5 1509.2h0M1878 1512h0M1912.6 1504.4h0M1879.1 1506.2h0M1860.1 1504.9h0M1749.7 1508.5h0M1868.5 1510.2h0M1775.4 1515.9h0M1849.9 1506.1h0M1775.4 1515.1h0M1764.7 1515.8h0M1867.2 1502.6h0M1886.9 1513.8h0M1864.2 1515.9h0M1894.3 1514.1h0M1722.1 1509.9h0M1747.6 1514.6h0M1732.1 1512.7h0M1839.5 1506.5h0M1732 1506h0M1741.4 1515h0M1850.7 1514h0M1790 1510.9h0M1768.8 1506.8h0M1767.6 1505.8h0M1889.7 1511.4h0M1729.4 1507.1h0M1726.1 1511.9h0M1806.5 1515.9h0M1854.3 1508.2h0M1841.8 1513.3h0M1828.1 1510.6h0M1771.6 1505.1h0M1926.5 1515.2h0M1920 1514.1h0M1924.2 1515.9h0M1818 1515.6h0M1816.9 1508.9h0M1868 1512.6h0M1789.7 1515.3h0M1802.9 1514.6h0M1763.2 1507.9h0M1827.7 1512.8h0M1763.6 1508.6h0M1759.7 1514.7h0M1839.4 1508.6h0M1924.2 1511.3h0M1921.6 1506.9h0M1873.6 1508.2h0M1731.4 1515.2h0M1726.9 1505.2h0M1872.5 1509.9h0M1774.2 1513.8h0M1755.7 1509.9h0M1926.1 1514.5h0M1727.4 1515.4h0M1799 1504.4h0M1888.1 1512.6h0M1739.3 1515.8h0M1755.3 1507.1h0M1824.6 1502.2h0M1914.1 1506.7h0M1823.3 1506.2h0M1744.8 1515.7h0M1838.1 1511.9h0M1762.2 1514.8h0M1729.2 1504.2h0M1873.9 1503.3h0M1924.8 1512.8h0M1872.5 1513.5h0M1893.8 1505.7h0M1745.8 1516h0M1765.7 1510.7h0M1797 1516h0M1896.9 1506.9h0M1814.8 1516h0M1906.5 1511.5h0M1733.7 1514.2h0M1855.2 1504.7h0M1822.9 1509.7h0M1761.5 1514.9h0M1908.8 1513.5h0M1742.8 1510.6h0M1744.6 1515.2h0M1816.4 1510.7h0M1855.4 1508.5h0M1809.8 1515.9h0M1869.4 1515.9h0M1817.8 1513.3h0M1863.1 1508.4h0M1771.8 1509.6h0M1864.7 1512.4h0M1754.5 1504.2h0M1843.2 1515.9h0M1775.8 1502.3h0M1767.2 1513.4h0M1888.5 1506.1h0M1855.3 1507.8h0M1725.9 1515.8h0M1924.5 1511.8h0M1725.8 1515.9h0M1775.4 1503.7h0M1767.8 1509.1h0M1916.2 1509.7h0M1910.9 1514.7h0M1749.9 1516h0M1876.3 1515.8h0M1924.2 1511.3h0M1762.5 1506.5h0M1754.3 1511.8h0M1745.3 1506.9h0M1911 1504h0M1724.5 1505.5h0M1839.9 1506.2h0M1826.4 1510.1h0M1847.7 1506.6h0M1734 1515.9h0M1832.8 1514.5h0M1800.8 1516h0M1873.7 1516h0M1897.1 1506.4h0M1813.8 1515.7h0M1854.3 1515.2h0M1807.7 1515.7h0M1924.5 1511.9h0M1791.6 1515.8h0M1876.8 1505.5h0M1895.4 1515.8h0M1795.6 1514.4h0M1877.6 1515.6h0M1852.7 1502.5h0M1878.6 1516h0M1733.6 1515.7h0M1866 1510.4h0M1828.6 1512.6h0M1806.4 1510.2h0M1860.6 1504h0M1876.6 1506.7h0M1914.8 1505.8h0M1867.7 1516h0M1866.5 1505.5h0M1814.5 1504.9h0M1762.9 1503.4h0M1814.7 1508.5h0M1771.6 1514.4h0M1791.8 1514.2h0M1739.5 1512.8h0M1925 1512.6h0M1917.9 1507.4h0M1901.1 1502.1h0M1876.1 1514.6h0M1771.7 1513.2h0M1722.7 1515h0M1910.4 1503.9h0M1791.8 1507.2h0M1886.7 1504.6h0M1886.7 1511.5h0M1745.6 1506.1h0M1787 1509.9h0M1797.3 1511.4h0M1920.1 1515.5h0M1832.7 1509.5h0M1837.9 1503.5h0M1810.1 1504.1h0M1870 1502.8h0M1737 1515.1h0M1784.9 1504.2h0M1721.3 1514.8h0M1875.7 1502.2h0M1756.5 1512.8h0M1865.8 1508.8h0M1878.9 1507.6h0M1770.5 1514.8h0M1727.8 1508.8h0M1762.3 1514.8h0M1923.3 1509.7h0M1845.4 1509.4h0M1847.2 1508.7h0M1781.4 1515.9h0M1731.8 1516h0M1793.6 1515.6h0M1743.7 1512.1h0M1923.8 1510.7h0M1780.2 1507.3h0M1755.1 1515.8h0M1782.9 1513.2h0M1864 1512.7h0M1870.3 1515.8h0M1914 1514h0M1891.9 1516h0M1891.7 1515h0M1902.3 1506.6h0M1858.9 1514.6h0M1720.2 1515.3h0M1907.4 1515.5h0M1858.9 1510.6h0M1856.5 1515.4h0M1747.9 1515.8h0M1924.9 1513.5h0M1857.3 1510.9h0M1764.5 1515.9h0M1727.1 1505.5h0M1752.8 1502.9h0M1798.5 1508.2h0M1752.1 1506.9h0M1771.8 1513.7h0M1827.4 1515.7h0M1775.2 1506.7h0M1778.9 1513.5h0M1878.3 1515.1h0M1758.9 1515.1h0M1799.5 1513.7h0M1854.1 1512.4h0M1899.8 1515.9h0M1862.7 1505.8h0M1766.9 1516h0M1809.6 1515.7h0M1818.5 1508.4h0M1737.5 1515.7h0M1818.4 1515.4h0M1767.9 1512.8h0M1742.6 1515.9h0M1795.5 1512.4h0M1916.6 1511.1h0M1733.3 1515.1h0M1876.4 1511h0M1907.6 1502.9h0M1897.4 1515.7h0M1917.8 1511.6h0M1768.3 1515.4h0M1899.2 1515.1h0M1735.9 1514.7h0M1913.2 1512.5h0M1870.9 1515.9h0M1813.6 1514.2h0M1764.7 1509.3h0M1793.5 1515.7h0M1925.3 1513.2h0M1755.4 1516h0M1856.9 1511.8h0M1725 1512.4h0M1875.4 1511.4h0M1769.1 1512h0M1848.2 1509.5h0M1753.7 1506.5h0M1920.5 1507.8h0M1898.5 1513.7h0M1907 1515.3h0M1768.5 1510.4h0M1906.5 1515.8h0M1763.2 1516h0M1809.9 1515.6h0M1762.8 1507.7h0M1847.3 1503.5h0M1806 1509h0M1728 1503.3h0M1768.7 1512.3h0M1832.4 1503.3h0M1829 1502.2h0M1848.3 1515.1h0M1892.7 1515.2h0M1927 1515.9h0M1772.9 1502.9h0M1786.7 1513.2h0M1793.6 1509.2h0M1724 1513.6h0M1757.6 1506h0M1721.2 1510.3h0M1773.7 1512.6h0M1839.9 1508.4h0M1747.2 1514.9h0M1750.7 1503h0M1749.2 1515.6h0M1830.2 1510.7h0M1903.3 1515.9h0M1767.1 1515.4h0M1842.3 1512.6h0M1810.1 1504.7h0M1862.6 1505.3h0M1918.8 1514.7h0M1916.5 1513.2h0M1735.7 1504.1h0M1739.5 1516h0M1779.3 1514.5h0M1923.5 1510.2h0M1808.3 1511.5h0M1901 1506.5h0M1857 1511.8h0M1742.8 1514.9h0M1858.7 1510.6h0M1892.3 1504.4h0M1919.6 1515.3h0M1740.5 1504.5h0M1837.5 1515.4h0M1863.3 1514.8h0M1768.6 1513.7h0M1831.5 1509h0M1738 1507.8h0M1850.5 1512.4h0M1864 1506.6h0M1722 1512.3h0M1864.1 1508.4h0M1853.6 1515.4h0M1922.6 1508.7h0M1768.3 1512.9h0M1918.7 1515.2h0M1811.1 1502.9h0M1906.7 1515h0M1872.9 1513.8h0M1861.7 1507.3h0M1745 1515.1h0M1763.5 1514.7h0M1725.4 1515.6h0M1804.5 1513h0M1737.2 1510.7h0M1918 1510.8h0M1796.6 1508.5h0M1809.6 1515.4h0M1818.6 1516h0M1859.5 1515.5h0M1802.9 1502.9h0M1884.2 1505.9h0M1855.8 1509.8h0M1873.1 1502.8h0M1764 1507.3h0M1781.4 1514.8h0M1893 1510.4h0M1902.1 1505h0M1841.4 1515.2h0M1723.6 1511.5h0M1870.4 1514.7h0M1732.4 1516h0M1758.3 1508.7h0M1719.2 1515h0M1777.8 1508.4h0M1924.3 1516h0M1749 1503.6h0M1921 1515.5h0M1790.5 1511.6h0M1786.5 1513.1h0M1818.7 1514.8h0M1729.4 1515.8h0M1751.9 1515.8h0M1852.7 1508.7h0M1778.3 1506.8h0M1871.5 1514h0M1821.1 1515.3h0M1915.1 1511.1h0M1728.8 1515.5h0M1864.2 1513.5h0M1868.4 1515h0M1890.2 1506.6h0M1740.7 1510.6h0M1762.3 1508.5h0M1891.5 1506.8h0M1766.3 1515.8h0M1859.6 1511h0M1747.1 1515.3h0M1839.8 1515.7h0M1851.1 1514.9h0M1773.6 1513h0M1834 1508.2h0M1728.9 1508.2h0M1764.9 1514.5h0M1855.9 1508.8h0M1853.3 1504.4h0M1761.6 1514.3h0M1857.1 1514.8h0M1751.3 1515h0M1885.1 1506h0M1875.4 1503h0M1885 1514.3h0M1788.4 1508.2h0M1732.8 1510.3h0M1736.4 1515.9h0M1825.5 1515.5h0M1919.3 1504.9h0M1814.8 1515.2h0M1745.2 1511.9h0M1828.2 1513.7h0M1870.3 1511.5h0M1880.2 1515.8h0M1733.9 1513.5h0M1819.6 1514.8h0M1858.2 1515.1h0M1786.5 1512.3h0M1872 1507.2h0M1797.5 1512.7h0M1919.2 1503.6h0M1847.4 1515.8h0M1816.8 1509.8h0M1776.1 1516h0M1925 1512.7h0M1746.8 1512.5h0M1848.3 1514.4h0M1737.1 1507.6h0M1880.9 1512.8h0M1737.2 1513.4h0M1745.2 1502.9h0M1729.4 1514.5h0M1878.7 1515.6h0M1740.1 1515.9h0M1754.7 1511.5h0M1892.4 1515.4h0M1759.2 1507.3h0M1808 1514h0M1744.2 1514.9h0M1921.3 1515.7h0M1776.9 1507.8h0M1911.3 1504.3h0M1824.4 1503.1h0M1845 1514.5h0M1819.7 1508.3h0M1871.5 1515.6h0M1766 1503h0M1745.9 1506.3h0M1789.3 1514.9h0M1773.3 1512.4h0M1925.3 1515.5h0M1897.6 1514.2h0M1758.8 1507.8h0M1789.6 1515.3h0M1811.2 1506.2h0M1901.4 1510.8h0M1725.1 1507.4h0M1851.6 1504.4h0M1918.1 1514.1h0M1910.3 1490.9h0M1849.2 1388.7h0M1860.8 1407.5h0M1861.7 1407.1h0M1840.6 1389.5h0M1863.2 1416h0M1914.6 1497.1h0M1842.4 1392.5h0M1904.9 1484.4h0M1897.2 1470.5h0M1907.3 1483.4h0M1890.5 1456.4h0M1910.2 1487.9h0M1878.2 1436h0M1908 1484.9h0M1909.7 1490.2h0M1914.3 1494.8h0M1920.2 1505.7h0M1892 1461.3h0M1821.2 1359.3h0M1878.8 1438.1h0M1854.3 1405.9h0M1902.8 1480.1h0M1843.8 1379.6h0M1848.2 1384.6h0M1856.4 1398.1h0M1905.6 1480.5h0M1829.5 1353.2h0M1899.8 1470.8h0M1869.9 1422.9h0M1904.8 1483.9h0M1852.3 1398.9h0M1915.8 1497.9h0M1916 1499.2h0M1850.4 1402.7h0M1882.2 1441.3h0M1881.4 1447.7h0M1875.6 1433.2h0M1862 1420.1h0M1891.8 1457.6h0M1859.4 1405.4h0M1922.5 1509h0M1829.1 1372.9h0M1823 1351.6h0M1865 1420.6h0M1867.1 1416.1h0M1874.4 1437h0M1904.6 1479.4h0M1841.9 1385.8h0M1906.1 1481.4h0M1913.8 1497.1h0M1866.9 1417.9h0M1894.5 1468.7h0M1842.7 1377.1h0M1853.6 1403.5h0M1839.7 1376.9h0M1872.7 1431.6h0M1830.6 1376.8h0M1927 1516h0M1905.5 1480.2h0M1917.4 1500.6h0M1900.3 1476.4h0M1855.5 1411.8h0M1843.9 1377.1h0M1871.5 1434.4h0M1915.8 1499.8h0M1872.2 1436.2h0M1880.8 1439h0M1886.3 1454.7h0M1864.8 1418h0M1848.8 1387h0M1864.9 1416.5h0M1871.2 1422.9h0M1821.8 1343.4h0M1896 1468.6h0M1846.6 1383h0M1876.2 1431.5h0M1882.7 1451h0M1841 1380h0M1896.4 1469.3h0M1895.6 1467.6h0M1846.5 1395.7h0M1919.1 1502.9h0M1921.1 1506.4h0M1831.2 1355.9h0M1904.9 1481.7h0M1835.5 1368.2h0M1886.1 1457.7h0M1854.1 1405.1h0M1847.6 1384.1h0M1837.9 1371h0M1886.7 1449.6h0M1838.8 1369.7h0M1830.8 1356.1h0M1853.8 1398.5h0M1839.8 1375.6h0M1863.8 1425.3h0M1869.3 1432.4h0M1871.4 1423.7h0M1884.1 1444.6h0M1839.9 1370.5h0M1893.4 1467.6h0M1863.8 1412.5h0M1866.1 1416.3h0M1894.2 1462.5h0M1832.8 1376.3h0M1882.2 1441.1h0M1910.6 1490.7h0M1857.2 1406.5h0M1918.5 1502.2h0M1867.1 1417.3h0M1878.6 1440.6h0M1897.2 1472.9h0M1836.4 1367.8h0M1910.7 1491.3h0M1882.4 1446.8h0M1852.9 1408.6h0M1879.1 1438.1h0M1841.2 1372.9h0M1915.7 1499h0M1824.1 1346.9h0M1871.4 1426.6h0M1856 1411.6h0M1857.3 1404.6h0M1919.4 1504h0M1871.7 1425.1h0M1860.8 1411.8h0M1904.4 1478.7h0M1860.2 1407h0M1855.8 1411.8h0M1843.8 1493.7h0M1844.6 1419.9h0M1811.8 1414.5h0M1742 1482.9h0M1809.3 1383.2h0M1768.8 1481.9h0M1755.8 1472.4h0M1891.3 1482.4h0M1917.1 1501.1h0M1876.3 1443.4h0M1824.4 1368.4h0M1820 1496.9h0M1896.9 1478.1h0M1804.4 1506h0M1910.4 1499.2h0M1883.8 1447h0M1731.3 1506.6h0M1745.7 1512.7h0M1885.1 1483.8h0M1756.3 1490.8h0M1807.7 1428.5h0M1891.6 1460.4h0M1858.6 1406.3h0M1831.7 1477.3h0M1788.9 1485.6h0M1924.3 1511.6h0M1870.8 1507h0M1768.4 1494.1h0M1841.1 1432.2h0M1782.2 1428.6h0M1861.3 1514.1h0M1856 1438.3h0M1858.2 1482.4h0M1909.6 1503.5h0M1815.7 1470h0M1920.2 1507.5h0M1914.2 1507.6h0M1763.2 1489.7h0M1842.4 1441.4h0M1802.1 1376.1h0M1893.7 1496.7h0M1801.8 1376.9h0M1845.3 1447.3h0M1869.7 1461.1h0M1862.5 1416.5h0M1735.1 1460.2h0M1730.9 1488.2h0M1812.9 1354.3h0M1776.1 1413.2h0M1810.9 1352.4h0M1781.4 1404.4h0M1730.4 1472.3h0" stroke="#0000ff" stroke-width="7.2" stroke-linecap="round" fill="none"/>
<polygon points="1612.9,1340.8 1822.2,1340.8 1717.8,1516" fill="rgba(190,190,190,0.55)" stroke="#808080" stroke-width="3.6" stroke-dasharray="3.6 3.6"/>
<polygon points="1717.3,1165.5 1508.5,1516 1927,1516" fill="none" stroke="#000" stroke-width="5.5" stroke-linejoin="miter"/>
<text x="1686.8" y="1146" font-size="46" fill="#ff00ff">FP</text>
<text x="1929" y="1515.6" font-size="46" fill="#0000ff">TO</text>
<text x="1364.5" y="1515.6" font-size="46" fill="#000">Radial</text>
<text x="1720" y="1564" font-size="40" fill="#000" text-anchor="middle">(Prob. ≤ 0.5)</text>
<text x="1510" y="1612.4" font-size="45.5" fill="#000">Prob. of ML subtype</text>
<text x="1764.6" y="1205.2" font-size="40" transform="rotate(59.2 1764.6 1205.2)"><tspan fill="#808080">2</tspan><tspan fill="#000">:</tspan><tspan fill="#ff00ff">98,</tspan><tspan fill="#808080"> 1:</tspan><tspan fill="#000">99,</tspan><tspan fill="#808080"> 0</tspan><tspan fill="#000">:</tspan><tspan fill="#0000ff">100</tspan></text>
<text x="1837.9" y="1238.3" font-size="40" transform="rotate(59.2 1837.9 1238.3)"><tspan fill="#808080">1</tspan><tspan fill="#000">% vs 99%</tspan></text>
<text x="1885.1" y="1227.7" font-size="40" fill="#808080" transform="rotate(59.2 1885.1 1227.7)">In</text>
<text x="1931" y="1308.6" font-size="40" fill="#000" transform="rotate(59.2 1931 1308.6)">Out</text>
<g stroke="#000" stroke-width="3.4" fill="none" stroke-linejoin="round"><line x1="1448.8" y1="1366" x2="1448.8" y2="1270"/><line x1="1448.8" y1="1311" x2="1511" y2="1335"/><line x1="1448.8" y1="1312" x2="1497" y2="1388"/><line x1="1448.8" y1="1365" x2="1520" y2="1399"/><line x1="1497" y1="1388" x2="1510" y2="1335"/><line x1="1448.8" y1="1362" x2="1473.5" y2="1351"/></g>
<polygon points="1436,1274 1461.5,1274 1448.8,1249" fill="#000"/>
<polygon points="1506,1326 1533,1327.7 1515.6,1347.5" fill="#000"/>
<polygon points="1507.5,1410 1534.5,1410 1518,1389" fill="#000"/>
<polygon points="1484.4,1327 1504,1359 1476.6,1348" fill="#808080"/>
<text x="1421" y="1262.8" font-size="39" fill="#000" text-anchor="middle">1</text>
<text x="1506.7" y="1317.5" font-size="39" fill="#000" text-anchor="middle">1</text>
<text x="1426.2" y="1379.2" font-size="39" fill="#000" text-anchor="middle">0</text>
<text x="1493.4" y="1428.4" font-size="39" fill="#000" text-anchor="middle">1</text>
<g stroke="#000" stroke-width="3.6" fill="none"><polyline points="1599.2,1208.9 1674.2,1194.8 1634.4,1261.3"/><ellipse cx="1625" cy="1230" rx="17" ry="24" transform="rotate(-38 1625 1230)"/></g>
<ellipse cx="1619" cy="1236" rx="10" ry="14" transform="rotate(-38 1619 1236)" fill="#000"/>
<g stroke="#000" stroke-width="3.6" stroke-dasharray="8 4"><line x1="1544.5" y1="1238.6" x2="1586.7" y2="1229.2"/><line x1="1556.3" y1="1278.4" x2="1594.5" y2="1249.5"/><line x1="1580.5" y1="1302.7" x2="1611.7" y2="1264.4"/></g>
<text x="-2" y="1740.6" font-size="61" fill="#000" font-weight="bold">c</text>
<line x1="99.4" y1="1760" x2="99.4" y2="2190.7" stroke="#000" stroke-width="3.3"/>
<line x1="97.8" y1="2189.1" x2="672.5" y2="2189.1" stroke="#000" stroke-width="3.3"/>
<line x1="89.4" y1="2189.1" x2="99.4" y2="2189.1" stroke="#000" stroke-width="3.3"/>
<text x="89.5" y="2203.4" font-size="40" fill="#000" text-anchor="end">0</text>
<line x1="89.4" y1="2103.6" x2="99.4" y2="2103.6" stroke="#000" stroke-width="3.3"/>
<text x="89.5" y="2117.9" font-size="40" fill="#000" text-anchor="end">10</text>
<line x1="89.4" y1="2018" x2="99.4" y2="2018" stroke="#000" stroke-width="3.3"/>
<text x="89.5" y="2032.3" font-size="40" fill="#000" text-anchor="end">20</text>
<line x1="89.4" y1="1932.5" x2="99.4" y2="1932.5" stroke="#000" stroke-width="3.3"/>
<text x="89.5" y="1946.8" font-size="40" fill="#000" text-anchor="end">30</text>
<line x1="89.4" y1="1846.9" x2="99.4" y2="1846.9" stroke="#000" stroke-width="3.3"/>
<text x="89.5" y="1861.2" font-size="40" fill="#000" text-anchor="end">40</text>
<line x1="89.4" y1="1761.4" x2="99.4" y2="1761.4" stroke="#000" stroke-width="3.3"/>
<text x="89.5" y="1775.7" font-size="40" fill="#000" text-anchor="end">50</text>
<line x1="94.4" y1="2146.3" x2="99.4" y2="2146.3" stroke="#000" stroke-width="3.3"/>
<line x1="94.4" y1="2060.8" x2="99.4" y2="2060.8" stroke="#000" stroke-width="3.3"/>
<line x1="94.4" y1="1975.2" x2="99.4" y2="1975.2" stroke="#000" stroke-width="3.3"/>
<line x1="94.4" y1="1889.7" x2="99.4" y2="1889.7" stroke="#000" stroke-width="3.3"/>
<line x1="94.4" y1="1804.2" x2="99.4" y2="1804.2" stroke="#000" stroke-width="3.3"/>
<line x1="137.4" y1="2189.1" x2="137.4" y2="2196.1" stroke="#000" stroke-width="3.3"/>
<text x="137.4" y="2231.5" font-size="37" fill="#000" text-anchor="middle">0</text>
<line x1="178.7" y1="2189.1" x2="178.7" y2="2196.1" stroke="#000" stroke-width="3.3"/>
<text x="178.7" y="2231.5" font-size="37" fill="#000" text-anchor="middle">1</text>
<line x1="220" y1="2189.1" x2="220" y2="2196.1" stroke="#000" stroke-width="3.3"/>
<text x="220" y="2231.5" font-size="37" fill="#000" text-anchor="middle">2</text>
<line x1="261.3" y1="2189.1" x2="261.3" y2="2196.1" stroke="#000" stroke-width="3.3"/>
<text x="261.3" y="2231.5" font-size="37" fill="#000" text-anchor="middle">3</text>
<line x1="302.6" y1="2189.1" x2="302.6" y2="2196.1" stroke="#000" stroke-width="3.3"/>
<text x="302.6" y="2231.5" font-size="37" fill="#000" text-anchor="middle">4</text>
<line x1="343.9" y1="2189.1" x2="343.9" y2="2196.1" stroke="#000" stroke-width="3.3"/>
<text x="343.9" y="2231.5" font-size="37" fill="#000" text-anchor="middle">5</text>
<line x1="385.2" y1="2189.1" x2="385.2" y2="2196.1" stroke="#000" stroke-width="3.3"/>
<text x="385.2" y="2231.5" font-size="37" fill="#000" text-anchor="middle">6</text>
<line x1="426.5" y1="2189.1" x2="426.5" y2="2196.1" stroke="#000" stroke-width="3.3"/>
<text x="426.5" y="2231.5" font-size="37" fill="#000" text-anchor="middle">7</text>
<line x1="467.8" y1="2189.1" x2="467.8" y2="2196.1" stroke="#000" stroke-width="3.3"/>
<text x="467.8" y="2231.5" font-size="37" fill="#000" text-anchor="middle">8</text>
<line x1="509.1" y1="2189.1" x2="509.1" y2="2196.1" stroke="#000" stroke-width="3.3"/>
<text x="509.1" y="2231.5" font-size="37" fill="#000" text-anchor="middle">9</text>
<line x1="550.4" y1="2189.1" x2="550.4" y2="2196.1" stroke="#000" stroke-width="3.3"/>
<text x="550.4" y="2231.5" font-size="37" fill="#000" text-anchor="middle">10</text>
<line x1="591.7" y1="2189.1" x2="591.7" y2="2196.1" stroke="#000" stroke-width="3.3"/>
<text x="591.7" y="2231.5" font-size="37" fill="#000" text-anchor="middle">11</text>
<line x1="633" y1="2189.1" x2="633" y2="2196.1" stroke="#000" stroke-width="3.3"/>
<text x="633" y="2231.5" font-size="37" fill="#000" text-anchor="middle">12</text>
<text x="33" y="1968" font-size="46" fill="#000" text-anchor="middle" transform="rotate(-90 33 1968)">Frequency</text>
<text x="158.1" y="2288.5" font-size="47" fill="#000">Longitudinal FU years</text>
<path d="M137.4 2180.5 L178.7 2172 L220 2172 L261.3 2163.4 L302.6 2172 L343.9 2172 L385.2 2172 L426.5 2180.5 L467.8 2172 L509.1 2154.9 L550.4 2180.5 L591.7 2180.5 L633 2189.1" fill="none" stroke="#0000ff" stroke-width="3.8" stroke-linejoin="round"/>
<circle cx="137.4" cy="2180.5" r="6" fill="#0000ff"/>
<circle cx="178.7" cy="2172" r="6" fill="#0000ff"/>
<circle cx="220" cy="2172" r="6" fill="#0000ff"/>
<circle cx="261.3" cy="2163.4" r="6" fill="#0000ff"/>
<circle cx="302.6" cy="2172" r="6" fill="#0000ff"/>
<circle cx="343.9" cy="2172" r="6" fill="#0000ff"/>
<circle cx="385.2" cy="2172" r="6" fill="#0000ff"/>
<circle cx="426.5" cy="2180.5" r="6" fill="#0000ff"/>
<circle cx="467.8" cy="2172" r="6" fill="#0000ff"/>
<circle cx="509.1" cy="2154.9" r="6" fill="#0000ff"/>
<circle cx="550.4" cy="2180.5" r="6" fill="#0000ff"/>
<circle cx="591.7" cy="2180.5" r="6" fill="#0000ff"/>
<circle cx="633" cy="2189.1" r="6" fill="#0000ff"/>
<path d="M137.4 2154.9 L178.7 2172 L220 2163.4 L261.3 2120.7 L302.6 2137.8 L343.9 2146.3 L385.2 2137.8 L426.5 2172 L467.8 2180.5 L509.1 2163.4 L550.4 2172 L591.7 2172 L633 2189.1" fill="none" stroke="#ff00ff" stroke-width="3.8" stroke-linejoin="round"/>
<circle cx="137.4" cy="2154.9" r="6" fill="#ff00ff"/>
<circle cx="178.7" cy="2172" r="6" fill="#ff00ff"/>
<circle cx="220" cy="2163.4" r="6" fill="#ff00ff"/>
<circle cx="261.3" cy="2120.7" r="6" fill="#ff00ff"/>
<circle cx="302.6" cy="2137.8" r="6" fill="#ff00ff"/>
<circle cx="343.9" cy="2146.3" r="6" fill="#ff00ff"/>
<circle cx="385.2" cy="2137.8" r="6" fill="#ff00ff"/>
<circle cx="426.5" cy="2172" r="6" fill="#ff00ff"/>
<circle cx="467.8" cy="2180.5" r="6" fill="#ff00ff"/>
<circle cx="509.1" cy="2163.4" r="6" fill="#ff00ff"/>
<circle cx="550.4" cy="2172" r="6" fill="#ff00ff"/>
<circle cx="591.7" cy="2172" r="6" fill="#ff00ff"/>
<circle cx="633" cy="2189.1" r="6" fill="#ff00ff"/>
<path d="M137.4 2120.7 L178.7 2069.3 L220 2060.8 L261.3 1855.5 L302.6 2000.9 L343.9 2018 L385.2 2035.1 L426.5 2103.6 L467.8 2095 L509.1 2069.3 L550.4 2060.8 L591.7 2146.3 L633 2180.5" fill="none" stroke="#000" stroke-width="3.8" stroke-linejoin="round"/>
<circle cx="137.4" cy="2120.7" r="6" fill="#000"/>
<circle cx="178.7" cy="2069.3" r="6" fill="#000"/>
<circle cx="220" cy="2060.8" r="6" fill="#000"/>
<circle cx="261.3" cy="1855.5" r="6" fill="#000"/>
<circle cx="302.6" cy="2000.9" r="6" fill="#000"/>
<circle cx="343.9" cy="2018" r="6" fill="#000"/>
<circle cx="385.2" cy="2035.1" r="6" fill="#000"/>
<circle cx="426.5" cy="2103.6" r="6" fill="#000"/>
<circle cx="467.8" cy="2095" r="6" fill="#000"/>
<circle cx="509.1" cy="2069.3" r="6" fill="#000"/>
<circle cx="550.4" cy="2060.8" r="6" fill="#000"/>
<circle cx="591.7" cy="2146.3" r="6" fill="#000"/>
<circle cx="633" cy="2180.5" r="6" fill="#000"/>
<rect x="813.5" y="1764.5" width="141.9" height="140.9" fill="#ff5a5a"/>
<rect x="955" y="1764.5" width="141.6" height="140.9" fill="#d0d0d0"/>
<rect x="1096.2" y="1764.5" width="141.7" height="140.9" fill="#8a8a8a"/>
<rect x="813.5" y="1905" width="141.9" height="141.6" fill="#a6a6a6"/>
<rect x="955" y="1905" width="141.6" height="141.6" fill="#fd4a4a"/>
<rect x="1096.2" y="1905" width="141.7" height="141.6" fill="#a8a8a8"/>
<rect x="813.5" y="2046.2" width="141.9" height="141.7" fill="#b4b4b4"/>
<rect x="955" y="2046.2" width="141.6" height="141.7" fill="#a5a5a5"/>
<rect x="1096.2" y="2046.2" width="141.7" height="141.7" fill="#ff5757"/>
<rect x="814.4" y="1765.2" width="422.3" height="421.5" fill="none" stroke="#000" stroke-width="4"/>
<text x="884.2" y="1826.8" font-size="36" fill="#000" text-anchor="middle">77%</text>
<text x="884.2" y="1869.5" font-size="36" fill="#000" text-anchor="middle">(34)</text>
<text x="1025.6" y="1826.8" font-size="36" fill="#000" text-anchor="middle">20%</text>
<text x="1025.6" y="1869.5" font-size="36" fill="#000" text-anchor="middle">(9)</text>
<text x="1166.8" y="1826.8" font-size="36" fill="#000" text-anchor="middle">2%</text>
<text x="1166.8" y="1869.5" font-size="36" fill="#000" text-anchor="middle">(1)</text>
<text x="884.2" y="1967.7" font-size="36" fill="#000" text-anchor="middle">9%</text>
<text x="884.2" y="2010.4" font-size="36" fill="#000" text-anchor="middle">(18)</text>
<text x="1025.6" y="1967.7" font-size="36" fill="#000" text-anchor="middle">80%</text>
<text x="1025.6" y="2010.4" font-size="36" fill="#000" text-anchor="middle">(155)</text>
<text x="1166.8" y="1967.7" font-size="36" fill="#000" text-anchor="middle">10%</text>
<text x="1166.8" y="2010.4" font-size="36" fill="#000" text-anchor="middle">(19)</text>
<text x="884.2" y="2108.9" font-size="36" fill="#000" text-anchor="middle">14%</text>
<text x="884.2" y="2151.7" font-size="36" fill="#000" text-anchor="middle">(3)</text>
<text x="1025.6" y="2108.9" font-size="36" fill="#000" text-anchor="middle">9%</text>
<text x="1025.6" y="2151.7" font-size="36" fill="#000" text-anchor="middle">(2)</text>
<text x="1166.8" y="2108.9" font-size="36" fill="#000" text-anchor="middle">78%</text>
<text x="1166.8" y="2151.7" font-size="36" fill="#000" text-anchor="middle">(18)</text>
<defs><linearGradient id="cb" x1="0" y1="1" x2="0" y2="0"><stop offset="0" stop-color="#6e6e6e"/><stop offset="0.3" stop-color="#ffffff"/><stop offset="1" stop-color="#ff0000"/></linearGradient></defs>
<rect x="1246.3" y="1764.3" width="26.4" height="422.6" fill="url(#cb)" stroke="#000" stroke-width="3.6"/>
<line x1="1248" y1="2102.5" x2="1255" y2="2102.5" stroke="#000" stroke-width="3"/>
<line x1="1264" y1="2102.5" x2="1271" y2="2102.5" stroke="#000" stroke-width="3"/>
<line x1="1248" y1="2017.9" x2="1255" y2="2017.9" stroke="#000" stroke-width="3"/>
<line x1="1264" y1="2017.9" x2="1271" y2="2017.9" stroke="#000" stroke-width="3"/>
<line x1="1248" y1="1933.4" x2="1255" y2="1933.4" stroke="#000" stroke-width="3"/>
<line x1="1264" y1="1933.4" x2="1271" y2="1933.4" stroke="#000" stroke-width="3"/>
<line x1="1248" y1="1848.8" x2="1255" y2="1848.8" stroke="#000" stroke-width="3"/>
<line x1="1264" y1="1848.8" x2="1271" y2="1848.8" stroke="#000" stroke-width="3"/>
<text x="1282.5" y="2199.3" font-size="35.5" fill="#000">0</text>
<text x="1282.5" y="2114.8" font-size="35.5" fill="#000">20</text>
<text x="1282.5" y="2030.2" font-size="35.5" fill="#000">40</text>
<text x="1282.5" y="1945.7" font-size="35.5" fill="#000">60</text>
<text x="1282.5" y="1861.1" font-size="35.5" fill="#000">80</text>
<text x="1282.5" y="1776.6" font-size="35.5" fill="#000">100</text>
<text x="1329.4" y="1977" font-size="40" text-anchor="middle" transform="rotate(90 1329.4 1977)">Rate % (<tspan font-style="italic">n</tspan>)</text>
<text x="796" y="1836" font-size="35.5" fill="#ff00ff" text-anchor="middle" transform="rotate(-90 796 1836)">FP</text>
<text x="796" y="1977" font-size="35.5" fill="#000" text-anchor="middle" transform="rotate(-90 796 1977)">Radial</text>
<text x="796" y="2119.4" font-size="35.5" fill="#0000ff" text-anchor="middle" transform="rotate(-90 796 2119.4)">TO</text>
<text x="742" y="1980" font-size="46" fill="#000" text-anchor="middle" transform="rotate(-90 742 1980)">Admission</text>
<text x="887.3" y="2226" font-size="35.5" fill="#ff00ff" text-anchor="middle">FP</text>
<text x="1025.3" y="2226" font-size="35.5" fill="#000" text-anchor="middle">Radial</text>
<text x="1167.5" y="2226" font-size="35.5" fill="#0000ff" text-anchor="middle">TO</text>
<text x="865.2" y="2288.8" font-size="46" fill="#000">Longitudinal FU</text>
<line x1="1694" y1="1760.3" x2="1694" y2="2188" stroke="#000" stroke-width="2" stroke-dasharray="5.5 3.5"/>
<line x1="1505" y1="1997.7" x2="1931.5" y2="1997.7" stroke="#000" stroke-width="2" stroke-dasharray="5.5 3.5"/>
<circle cx="1765.8" cy="1784.1" r="2" fill="#000"/>
<circle cx="1718.4" cy="1807.9" r="2" fill="#000"/>
<circle cx="1742.1" cy="1807.9" r="2" fill="#000"/>
<circle cx="1765.8" cy="1831.6" r="2" fill="#000"/>
<circle cx="1718.4" cy="1855.4" r="2" fill="#000"/>
<circle cx="1718.4" cy="1879.2" r="2" fill="#000"/>
<circle cx="1742.1" cy="1879.2" r="4" fill="#000"/>
<circle cx="1765.8" cy="1879.2" r="6.5" fill="#000"/>
<circle cx="1789.5" cy="1879.2" r="4" fill="#000"/>
<circle cx="1694.7" cy="1903" r="2" fill="#000"/>
<circle cx="1718.4" cy="1903" r="4" fill="#000"/>
<circle cx="1742.1" cy="1903" r="7.4" fill="#000"/>
<circle cx="1765.8" cy="1903" r="4" fill="#000"/>
<circle cx="1789.5" cy="1903" r="2" fill="#000"/>
<circle cx="1694.7" cy="1926.7" r="4" fill="#000"/>
<circle cx="1718.4" cy="1926.7" r="6.5" fill="#000"/>
<circle cx="1742.1" cy="1926.7" r="6" fill="#000"/>
<circle cx="1765.8" cy="1926.7" r="6" fill="#000"/>
<circle cx="1789.5" cy="1926.7" r="2" fill="#000"/>
<circle cx="1813.2" cy="1926.7" r="2" fill="#000"/>
<circle cx="1694.7" cy="1950.5" r="4" fill="#000"/>
<circle cx="1718.4" cy="1950.5" r="8" fill="#000"/>
<circle cx="1742.1" cy="1950.5" r="7.4" fill="#000"/>
<circle cx="1765.8" cy="1950.5" r="4" fill="#000"/>
<circle cx="1647.3" cy="1974.3" r="2" fill="#000"/>
<circle cx="1671" cy="1974.3" r="6" fill="#000"/>
<circle cx="1694.7" cy="1974.3" r="6" fill="#000"/>
<circle cx="1718.4" cy="1974.3" r="6" fill="#000"/>
<circle cx="1742.1" cy="1974.3" r="8" fill="#000"/>
<circle cx="1765.8" cy="1974.3" r="6" fill="#000"/>
<circle cx="1789.5" cy="1974.3" r="2" fill="#000"/>
<circle cx="1647.3" cy="1998" r="4" fill="#000"/>
<circle cx="1671" cy="1998" r="4" fill="#000"/>
<circle cx="1694.7" cy="1998" r="6" fill="#000"/>
<circle cx="1718.4" cy="1998" r="8.7" fill="#000"/>
<circle cx="1742.1" cy="1998" r="6" fill="#000"/>
<circle cx="1765.8" cy="1998" r="6" fill="#000"/>
<circle cx="1671" cy="2021.8" r="6" fill="#000"/>
<circle cx="1694.7" cy="2021.8" r="6" fill="#000"/>
<circle cx="1718.4" cy="2021.8" r="8" fill="#000"/>
<circle cx="1742.1" cy="2021.8" r="4" fill="#000"/>
<circle cx="1765.8" cy="2021.8" r="2" fill="#000"/>
<circle cx="1671" cy="2045.6" r="4" fill="#000"/>
<circle cx="1694.7" cy="2045.6" r="6" fill="#000"/>
<circle cx="1718.4" cy="2045.6" r="4" fill="#000"/>
<circle cx="1647.3" cy="2069.3" r="4" fill="#000"/>
<circle cx="1671" cy="2069.3" r="4" fill="#000"/>
<circle cx="1694.7" cy="2069.3" r="4" fill="#000"/>
<circle cx="1718.4" cy="2069.3" r="2" fill="#000"/>
<circle cx="1671" cy="2093.1" r="2" fill="#000"/>
<line x1="1505.2" y1="2188.2" x2="1921" y2="1772.7" stroke="#ff0000" stroke-width="6.5" stroke-dasharray="16 10"/>
<line x1="1505.2" y1="2160.7" x2="1931.5" y2="1789.5" stroke="#000" stroke-width="7"/>
<line x1="1505.2" y1="1759" x2="1505.2" y2="2190" stroke="#000" stroke-width="3.4"/>
<line x1="1503.5" y1="2188.2" x2="1931.5" y2="2188.2" stroke="#000" stroke-width="3.4"/>
<line x1="1499" y1="2188.2" x2="1505.2" y2="2188.2" stroke="#000" stroke-width="3.4"/>
<line x1="1505.2" y1="2188.2" x2="1505.2" y2="2194.5" stroke="#000" stroke-width="3.4"/>
<text x="1494.5" y="2202.5" font-size="40" fill="#000" text-anchor="end">-8</text>
<text x="1519.7" y="2227" font-size="40" fill="#000" text-anchor="end" transform="rotate(-45 1519.7 2227)">-8</text>
<line x1="1499" y1="2140.7" x2="1505.2" y2="2140.7" stroke="#000" stroke-width="3.4"/>
<line x1="1552.6" y1="2188.2" x2="1552.6" y2="2194.5" stroke="#000" stroke-width="3.4"/>
<text x="1494.5" y="2155" font-size="40" fill="#000" text-anchor="end">-6</text>
<text x="1567.1" y="2227" font-size="40" fill="#000" text-anchor="end" transform="rotate(-45 1567.1 2227)">-6</text>
<line x1="1499" y1="2093.1" x2="1505.2" y2="2093.1" stroke="#000" stroke-width="3.4"/>
<line x1="1600" y1="2188.2" x2="1600" y2="2194.5" stroke="#000" stroke-width="3.4"/>
<text x="1494.5" y="2107.4" font-size="40" fill="#000" text-anchor="end">-4</text>
<text x="1614.5" y="2227" font-size="40" fill="#000" text-anchor="end" transform="rotate(-45 1614.5 2227)">-4</text>
<line x1="1499" y1="2045.6" x2="1505.2" y2="2045.6" stroke="#000" stroke-width="3.4"/>
<line x1="1647.3" y1="2188.2" x2="1647.3" y2="2194.5" stroke="#000" stroke-width="3.4"/>
<text x="1494.5" y="2059.9" font-size="40" fill="#000" text-anchor="end">-2</text>
<text x="1661.8" y="2227" font-size="40" fill="#000" text-anchor="end" transform="rotate(-45 1661.8 2227)">-2</text>
<line x1="1499" y1="1998" x2="1505.2" y2="1998" stroke="#000" stroke-width="3.4"/>
<line x1="1694.7" y1="2188.2" x2="1694.7" y2="2194.5" stroke="#000" stroke-width="3.4"/>
<text x="1494.5" y="2012.3" font-size="40" fill="#000" text-anchor="end">0</text>
<text x="1709.2" y="2227" font-size="40" fill="#000" text-anchor="end" transform="rotate(-45 1709.2 2227)">0</text>
<line x1="1499" y1="1950.5" x2="1505.2" y2="1950.5" stroke="#000" stroke-width="3.4"/>
<line x1="1742.1" y1="2188.2" x2="1742.1" y2="2194.5" stroke="#000" stroke-width="3.4"/>
<text x="1494.5" y="1964.8" font-size="40" fill="#000" text-anchor="end">2</text>
<text x="1756.6" y="2227" font-size="40" fill="#000" text-anchor="end" transform="rotate(-45 1756.6 2227)">2</text>
<line x1="1499" y1="1903" x2="1505.2" y2="1903" stroke="#000" stroke-width="3.4"/>
<line x1="1789.5" y1="2188.2" x2="1789.5" y2="2194.5" stroke="#000" stroke-width="3.4"/>
<text x="1494.5" y="1917.3" font-size="40" fill="#000" text-anchor="end">4</text>
<text x="1804" y="2227" font-size="40" fill="#000" text-anchor="end" transform="rotate(-45 1804 2227)">4</text>
<line x1="1499" y1="1855.4" x2="1505.2" y2="1855.4" stroke="#000" stroke-width="3.4"/>
<line x1="1836.9" y1="2188.2" x2="1836.9" y2="2194.5" stroke="#000" stroke-width="3.4"/>
<text x="1494.5" y="1869.7" font-size="40" fill="#000" text-anchor="end">6</text>
<text x="1851.4" y="2227" font-size="40" fill="#000" text-anchor="end" transform="rotate(-45 1851.4 2227)">6</text>
<line x1="1499" y1="1807.9" x2="1505.2" y2="1807.9" stroke="#000" stroke-width="3.4"/>
<line x1="1884.2" y1="2188.2" x2="1884.2" y2="2194.5" stroke="#000" stroke-width="3.4"/>
<text x="1494.5" y="1822.2" font-size="40" fill="#000" text-anchor="end">8</text>
<text x="1898.7" y="2227" font-size="40" fill="#000" text-anchor="end" transform="rotate(-45 1898.7 2227)">8</text>
<line x1="1499" y1="1760.3" x2="1505.2" y2="1760.3" stroke="#000" stroke-width="3.4"/>
<line x1="1931.6" y1="2188.2" x2="1931.6" y2="2194.5" stroke="#000" stroke-width="3.4"/>
<text x="1494.5" y="1774.6" font-size="40" fill="#000" text-anchor="end">10</text>
<text x="1946.1" y="2227" font-size="40" fill="#000" text-anchor="end" transform="rotate(-45 1946.1 2227)">10</text>
<text x="1760" y="2115.7" font-size="40">R<tspan font-size="26" dy="-11.6">2</tspan><tspan dy="11.6"> = 0.31</tspan></text>
<text x="1754.8" y="2163.9" font-size="40" fill="#000">P &lt; 0.001</text>
<text x="1443" y="1975" font-size="46" fill="#000" text-anchor="middle" transform="rotate(-90 1443 1975)">Observed Δstage</text>
<text x="1541.2" y="2285" font-size="46" fill="#000">Predicted Δstage</text>
<text x="1967.8" y="1738.6" font-size="38" fill="#ff0000" text-anchor="middle" transform="rotate(-45 1967.8 1738.6)">y=x</text></svg>
</body></html>
